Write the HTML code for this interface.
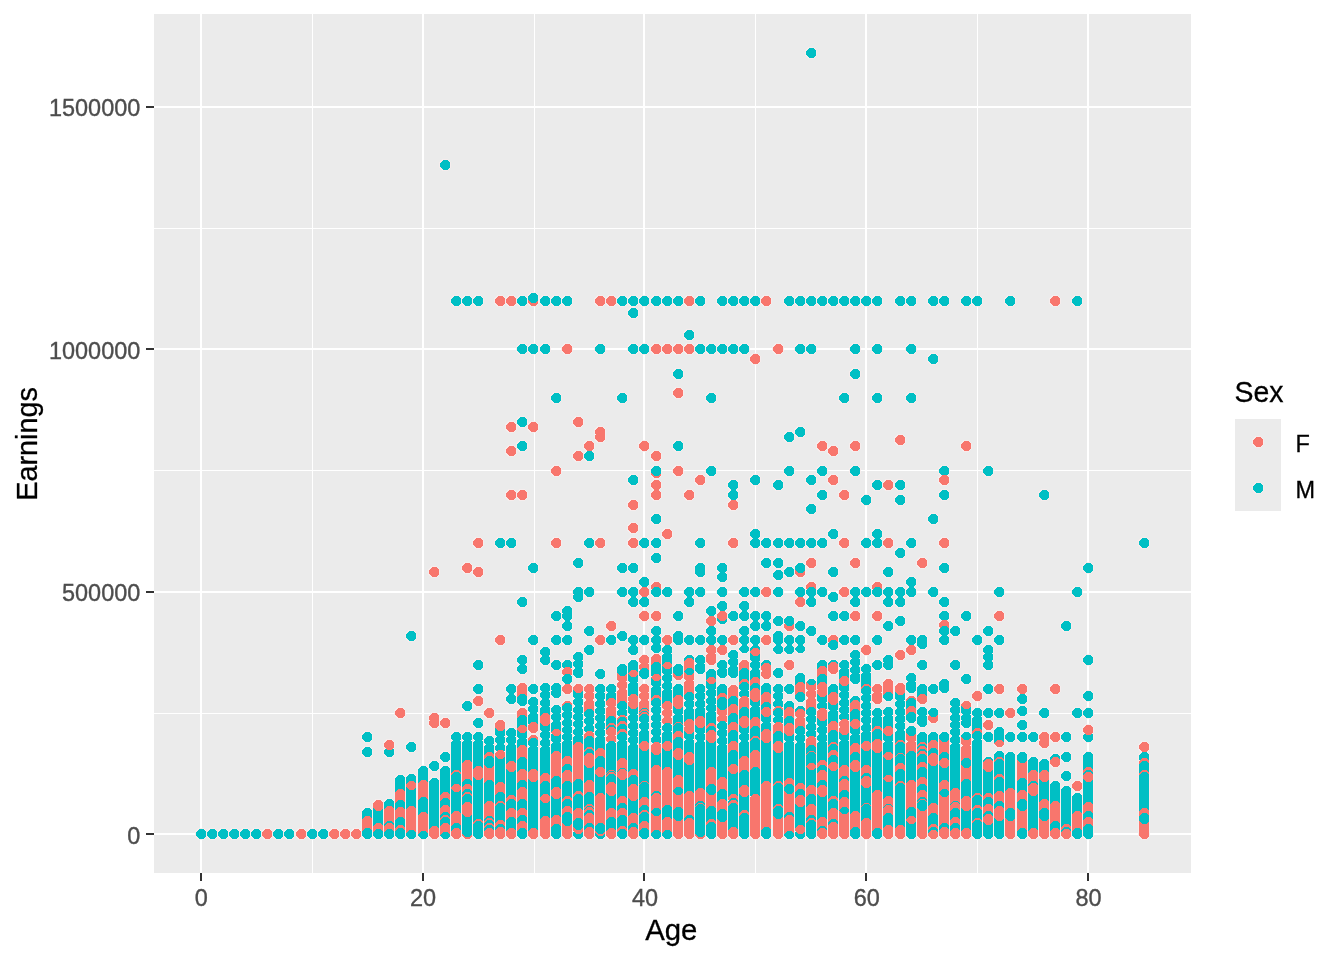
<!DOCTYPE html>
<html><head><meta charset="utf-8"><title>Earnings by Age</title>
<style>
html,body{margin:0;padding:0;background:#fff}
svg{display:block}
text{font-family:"Liberation Sans",sans-serif}
.tl{font-size:23.47px;fill:#4d4d4d;stroke:#4d4d4d;stroke-width:.35px}
.ti{font-size:29.33px;fill:#000;stroke:#000;stroke-width:.3px}
.f{fill:#f8766d}.m{fill:#00bfc4}
.h path{fill:#f6eded;stroke:#f6eded;stroke-width:2px}
</style></head><body>
<svg width="1344" height="960" viewBox="0 0 1344 960">
<rect width="1344" height="960" fill="#fff"/>
<rect x="154" y="14" width="1037" height="859" fill="#ebebeb"/>
<g fill="#fff" shape-rendering="crispEdges">
<rect x="312" y="14" width="1" height="859"/>
<rect x="534" y="14" width="1" height="859"/>
<rect x="755" y="14" width="1" height="859"/>
<rect x="977" y="14" width="1" height="859"/>
<rect x="154" y="713" width="1037" height="1"/>
<rect x="154" y="470" width="1037" height="1"/>
<rect x="154" y="228" width="1037" height="1"/>
<rect x="200" y="14" width="2" height="859"/>
<rect x="422" y="14" width="2" height="859"/>
<rect x="643" y="14" width="2" height="859"/>
<rect x="865" y="14" width="2" height="859"/>
<rect x="1087" y="14" width="2" height="859"/>
<rect x="154" y="833" width="1037" height="2"/>
<rect x="154" y="591" width="1037" height="2"/>
<rect x="154" y="348" width="1037" height="2"/>
<rect x="154" y="106" width="1037" height="2"/>
</g><g fill="#333" shape-rendering="crispEdges">
<rect x="200" y="873" width="2" height="8"/>
<rect x="422" y="873" width="2" height="8"/>
<rect x="643" y="873" width="2" height="8"/>
<rect x="865" y="873" width="2" height="8"/>
<rect x="1087" y="873" width="2" height="8"/>
<rect x="146" y="833" width="8" height="2"/>
<rect x="146" y="591" width="8" height="2"/>
<rect x="146" y="348" width="8" height="2"/>
<rect x="146" y="106" width="8" height="2"/>
</g>
<text class="tl" x="201.30" y="906" text-anchor="middle">0</text>
<text class="tl" x="423.13" y="906" text-anchor="middle">20</text>
<text class="tl" x="644.96" y="906" text-anchor="middle">40</text>
<text class="tl" x="866.79" y="906" text-anchor="middle">60</text>
<text class="tl" x="1088.62" y="906" text-anchor="middle">80</text>
<text class="tl" x="140.3" y="843.77" text-anchor="end">0</text>
<text class="tl" x="140.3" y="601.22" text-anchor="end">500000</text>
<text class="tl" x="140.3" y="358.67" text-anchor="end">1000000</text>
<text class="tl" x="140.3" y="116.12" text-anchor="end">1500000</text>
<text class="ti" x="671.3" y="940.2" text-anchor="middle">Age</text>
<text class="ti" transform="translate(37.3 443.9) rotate(-90)" text-anchor="middle" textLength="113.8" lengthAdjust="spacingAndGlyphs">Earnings</text>
<text class="ti" x="1234.6" y="402" textLength="49" lengthAdjust="spacingAndGlyphs">Sex</text>
<rect x="1235" y="419" width="46" height="92" fill="#ebebeb"/>
<g class="h" shape-rendering="crispEdges"><path class="f" d="M1256 437h4l3 3v4l-3 3h-4l-3-3v-4z"/><path class="m" d="M1256 483h4l3 3v4l-3 3h-4l-3-3v-4z"/></g>
<g shape-rendering="crispEdges">
<path class="f" d="M1256 437h4l3 3v4l-3 3h-4l-3-3v-4z"/><path class="m" d="M1256 483h4l3 3v4l-3 3h-4l-3-3v-4z"/>
</g>
<text class="tl" x="1295.5" y="451.5" style="fill:#000;stroke:#000;stroke-width:.3px">F</text><text class="tl" x="1295.5" y="497.5" style="fill:#000;stroke:#000;stroke-width:.3px">M</text>
<g class="h" shape-rendering="crispEdges">
<path class="m" d="M809 48h4l3 3v4l-3 3h-4l-3-3v-4z"/>
<path class="m" d="M443 160h4l3 3v4l-3 3h-4l-3-3v-4z"/>
<path class="f" d="M498 296h4l3 3v4l-3 3h-4l-3-3v-4z"/>
<path class="f" d="M509 296h4l3 3v4l-3 3h-4l-3-3v-4z"/>
<path class="f" d="M531 296h4l3 3v4l-3 3h-4l-3-3v-4z"/>
<path class="f" d="M598 296h4l3 3v4l-3 3h-4l-3-3v-4z"/>
<path class="f" d="M609 296h4l3 3v4l-3 3h-4l-3-3v-4z"/>
<path class="f" d="M687 296h4l3 3v4l-3 3h-4l-3-3v-4z"/>
<path class="f" d="M764 296h4l3 3v4l-3 3h-4l-3-3v-4z"/>
<path class="f" d="M1053 296h4l3 3v4l-3 3h-4l-3-3v-4z"/>
<path class="m" d="M454 296h4l3 3v4l-3 3h-4l-3-3v-4z"/>
<path class="m" d="M465 296h4l3 3v4l-3 3h-4l-3-3v-4z"/>
<path class="m" d="M476 296h4l3 3v4l-3 3h-4l-3-3v-4z"/>
<path class="m" d="M520 296h4l3 3v4l-3 3h-4l-3-3v-4z"/>
<path class="m" d="M543 296h4l3 3v4l-3 3h-4l-3-3v-4z"/>
<path class="m" d="M554 296h4l3 3v4l-3 3h-4l-3-3v-4z"/>
<path class="m" d="M565 296h4l3 3v4l-3 3h-4l-3-3v-4z"/>
<path class="m" d="M620 296h4l3 3v4l-3 3h-4l-3-3v-4z"/>
<path class="m" d="M631 296h4l3 3v4l-3 3h-4l-3-3v-4z"/>
<path class="m" d="M642 296h4l3 3v4l-3 3h-4l-3-3v-4z"/>
<path class="m" d="M654 296h4l3 3v4l-3 3h-4l-3-3v-4z"/>
<path class="m" d="M665 296h4l3 3v4l-3 3h-4l-3-3v-4z"/>
<path class="m" d="M676 296h4l3 3v4l-3 3h-4l-3-3v-4z"/>
<path class="m" d="M698 296h4l3 3v4l-3 3h-4l-3-3v-4z"/>
<path class="m" d="M720 296h4l3 3v4l-3 3h-4l-3-3v-4z"/>
<path class="m" d="M731 296h4l3 3v4l-3 3h-4l-3-3v-4z"/>
<path class="m" d="M742 296h4l3 3v4l-3 3h-4l-3-3v-4z"/>
<path class="m" d="M753 296h4l3 3v4l-3 3h-4l-3-3v-4z"/>
<path class="m" d="M787 296h4l3 3v4l-3 3h-4l-3-3v-4z"/>
<path class="m" d="M798 296h4l3 3v4l-3 3h-4l-3-3v-4z"/>
<path class="m" d="M809 296h4l3 3v4l-3 3h-4l-3-3v-4z"/>
<path class="m" d="M820 296h4l3 3v4l-3 3h-4l-3-3v-4z"/>
<path class="m" d="M831 296h4l3 3v4l-3 3h-4l-3-3v-4z"/>
<path class="m" d="M842 296h4l3 3v4l-3 3h-4l-3-3v-4z"/>
<path class="m" d="M853 296h4l3 3v4l-3 3h-4l-3-3v-4z"/>
<path class="m" d="M864 296h4l3 3v4l-3 3h-4l-3-3v-4z"/>
<path class="m" d="M875 296h4l3 3v4l-3 3h-4l-3-3v-4z"/>
<path class="m" d="M898 296h4l3 3v4l-3 3h-4l-3-3v-4z"/>
<path class="m" d="M909 296h4l3 3v4l-3 3h-4l-3-3v-4z"/>
<path class="m" d="M931 296h4l3 3v4l-3 3h-4l-3-3v-4z"/>
<path class="m" d="M942 296h4l3 3v4l-3 3h-4l-3-3v-4z"/>
<path class="m" d="M964 296h4l3 3v4l-3 3h-4l-3-3v-4z"/>
<path class="m" d="M975 296h4l3 3v4l-3 3h-4l-3-3v-4z"/>
<path class="m" d="M1008 296h4l3 3v4l-3 3h-4l-3-3v-4z"/>
<path class="m" d="M1075 296h4l3 3v4l-3 3h-4l-3-3v-4z"/>
<path class="m" d="M531 293h4l3 3v4l-3 3h-4l-3-3v-4z"/>
<path class="m" d="M631 308h4l3 3v4l-3 3h-4l-3-3v-4z"/>
<path class="m" d="M687 330h4l3 3v4l-3 3h-4l-3-3v-4z"/>
<path class="m" d="M520 344h4l3 3v4l-3 3h-4l-3-3v-4z"/>
<path class="m" d="M531 344h4l3 3v4l-3 3h-4l-3-3v-4z"/>
<path class="m" d="M543 344h4l3 3v4l-3 3h-4l-3-3v-4z"/>
<path class="m" d="M598 344h4l3 3v4l-3 3h-4l-3-3v-4z"/>
<path class="m" d="M631 344h4l3 3v4l-3 3h-4l-3-3v-4z"/>
<path class="m" d="M642 344h4l3 3v4l-3 3h-4l-3-3v-4z"/>
<path class="m" d="M698 344h4l3 3v4l-3 3h-4l-3-3v-4z"/>
<path class="m" d="M709 344h4l3 3v4l-3 3h-4l-3-3v-4z"/>
<path class="m" d="M720 344h4l3 3v4l-3 3h-4l-3-3v-4z"/>
<path class="m" d="M731 344h4l3 3v4l-3 3h-4l-3-3v-4z"/>
<path class="m" d="M742 344h4l3 3v4l-3 3h-4l-3-3v-4z"/>
<path class="m" d="M798 344h4l3 3v4l-3 3h-4l-3-3v-4z"/>
<path class="m" d="M809 344h4l3 3v4l-3 3h-4l-3-3v-4z"/>
<path class="m" d="M853 344h4l3 3v4l-3 3h-4l-3-3v-4z"/>
<path class="m" d="M875 344h4l3 3v4l-3 3h-4l-3-3v-4z"/>
<path class="m" d="M909 344h4l3 3v4l-3 3h-4l-3-3v-4z"/>
<path class="f" d="M565 344h4l3 3v4l-3 3h-4l-3-3v-4z"/>
<path class="f" d="M654 344h4l3 3v4l-3 3h-4l-3-3v-4z"/>
<path class="f" d="M665 344h4l3 3v4l-3 3h-4l-3-3v-4z"/>
<path class="f" d="M676 344h4l3 3v4l-3 3h-4l-3-3v-4z"/>
<path class="f" d="M687 344h4l3 3v4l-3 3h-4l-3-3v-4z"/>
<path class="f" d="M776 344h4l3 3v4l-3 3h-4l-3-3v-4z"/>
<path class="f" d="M753 354h4l3 3v4l-3 3h-4l-3-3v-4z"/>
<path class="m" d="M931 354h4l3 3v4l-3 3h-4l-3-3v-4z"/>
<path class="m" d="M676 369h4l3 3v4l-3 3h-4l-3-3v-4z"/>
<path class="m" d="M853 369h4l3 3v4l-3 3h-4l-3-3v-4z"/>
<path class="f" d="M676 388h4l3 3v4l-3 3h-4l-3-3v-4z"/>
<path class="m" d="M554 393h4l3 3v4l-3 3h-4l-3-3v-4z"/>
<path class="m" d="M620 393h4l3 3v4l-3 3h-4l-3-3v-4z"/>
<path class="m" d="M709 393h4l3 3v4l-3 3h-4l-3-3v-4z"/>
<path class="m" d="M842 393h4l3 3v4l-3 3h-4l-3-3v-4z"/>
<path class="m" d="M875 393h4l3 3v4l-3 3h-4l-3-3v-4z"/>
<path class="m" d="M909 393h4l3 3v4l-3 3h-4l-3-3v-4z"/>
<path class="m" d="M520 417h4l3 3v4l-3 3h-4l-3-3v-4z"/>
<path class="f" d="M576 417h4l3 3v4l-3 3h-4l-3-3v-4z"/>
<path class="f" d="M509 422h4l3 3v4l-3 3h-4l-3-3v-4z"/>
<path class="f" d="M531 422h4l3 3v4l-3 3h-4l-3-3v-4z"/>
<path class="f" d="M598 427h4l3 3v4l-3 3h-4l-3-3v-4z"/>
<path class="m" d="M798 427h4l3 3v4l-3 3h-4l-3-3v-4z"/>
<path class="f" d="M598 432h4l3 3v4l-3 3h-4l-3-3v-4z"/>
<path class="m" d="M787 432h4l3 3v4l-3 3h-4l-3-3v-4z"/>
<path class="f" d="M898 435h4l3 3v4l-3 3h-4l-3-3v-4z"/>
<path class="m" d="M520 441h4l3 3v4l-3 3h-4l-3-3v-4z"/>
<path class="m" d="M676 441h4l3 3v4l-3 3h-4l-3-3v-4z"/>
<path class="f" d="M587 441h4l3 3v4l-3 3h-4l-3-3v-4z"/>
<path class="f" d="M642 441h4l3 3v4l-3 3h-4l-3-3v-4z"/>
<path class="f" d="M820 441h4l3 3v4l-3 3h-4l-3-3v-4z"/>
<path class="f" d="M853 441h4l3 3v4l-3 3h-4l-3-3v-4z"/>
<path class="f" d="M964 441h4l3 3v4l-3 3h-4l-3-3v-4z"/>
<path class="f" d="M509 446h4l3 3v4l-3 3h-4l-3-3v-4z"/>
<path class="f" d="M831 446h4l3 3v4l-3 3h-4l-3-3v-4z"/>
<path class="f" d="M576 451h4l3 3v4l-3 3h-4l-3-3v-4z"/>
<path class="f" d="M654 451h4l3 3v4l-3 3h-4l-3-3v-4z"/>
<path class="m" d="M587 451h4l3 3v4l-3 3h-4l-3-3v-4z"/>
<path class="f" d="M654 468h4l3 3v4l-3 3h-4l-3-3v-4z"/>
<path class="f" d="M554 466h4l3 3v4l-3 3h-4l-3-3v-4z"/>
<path class="f" d="M676 466h4l3 3v4l-3 3h-4l-3-3v-4z"/>
<path class="m" d="M654 466h4l3 3v4l-3 3h-4l-3-3v-4z"/>
<path class="m" d="M709 466h4l3 3v4l-3 3h-4l-3-3v-4z"/>
<path class="m" d="M787 466h4l3 3v4l-3 3h-4l-3-3v-4z"/>
<path class="m" d="M820 466h4l3 3v4l-3 3h-4l-3-3v-4z"/>
<path class="m" d="M853 466h4l3 3v4l-3 3h-4l-3-3v-4z"/>
<path class="m" d="M942 466h4l3 3v4l-3 3h-4l-3-3v-4z"/>
<path class="m" d="M986 466h4l3 3v4l-3 3h-4l-3-3v-4z"/>
<path class="m" d="M631 475h4l3 3v4l-3 3h-4l-3-3v-4z"/>
<path class="m" d="M753 475h4l3 3v4l-3 3h-4l-3-3v-4z"/>
<path class="m" d="M809 475h4l3 3v4l-3 3h-4l-3-3v-4z"/>
<path class="f" d="M698 475h4l3 3v4l-3 3h-4l-3-3v-4z"/>
<path class="f" d="M831 475h4l3 3v4l-3 3h-4l-3-3v-4z"/>
<path class="f" d="M942 475h4l3 3v4l-3 3h-4l-3-3v-4z"/>
<path class="f" d="M654 480h4l3 3v4l-3 3h-4l-3-3v-4z"/>
<path class="f" d="M886 480h4l3 3v4l-3 3h-4l-3-3v-4z"/>
<path class="m" d="M731 480h4l3 3v4l-3 3h-4l-3-3v-4z"/>
<path class="m" d="M776 480h4l3 3v4l-3 3h-4l-3-3v-4z"/>
<path class="m" d="M875 480h4l3 3v4l-3 3h-4l-3-3v-4z"/>
<path class="m" d="M898 480h4l3 3v4l-3 3h-4l-3-3v-4z"/>
<path class="f" d="M509 490h4l3 3v4l-3 3h-4l-3-3v-4z"/>
<path class="f" d="M520 490h4l3 3v4l-3 3h-4l-3-3v-4z"/>
<path class="f" d="M654 490h4l3 3v4l-3 3h-4l-3-3v-4z"/>
<path class="f" d="M687 490h4l3 3v4l-3 3h-4l-3-3v-4z"/>
<path class="f" d="M842 490h4l3 3v4l-3 3h-4l-3-3v-4z"/>
<path class="m" d="M731 490h4l3 3v4l-3 3h-4l-3-3v-4z"/>
<path class="m" d="M820 490h4l3 3v4l-3 3h-4l-3-3v-4z"/>
<path class="m" d="M942 490h4l3 3v4l-3 3h-4l-3-3v-4z"/>
<path class="m" d="M1042 490h4l3 3v4l-3 3h-4l-3-3v-4z"/>
<path class="m" d="M864 495h4l3 3v4l-3 3h-4l-3-3v-4z"/>
<path class="m" d="M898 495h4l3 3v4l-3 3h-4l-3-3v-4z"/>
<path class="f" d="M631 500h4l3 3v4l-3 3h-4l-3-3v-4z"/>
<path class="f" d="M731 500h4l3 3v4l-3 3h-4l-3-3v-4z"/>
<path class="m" d="M809 504h4l3 3v4l-3 3h-4l-3-3v-4z"/>
<path class="m" d="M654 514h4l3 3v4l-3 3h-4l-3-3v-4z"/>
<path class="m" d="M931 514h4l3 3v4l-3 3h-4l-3-3v-4z"/>
<path class="f" d="M631 523h4l3 3v4l-3 3h-4l-3-3v-4z"/>
<path class="f" d="M665 529h4l3 3v4l-3 3h-4l-3-3v-4z"/>
<path class="m" d="M753 529h4l3 3v4l-3 3h-4l-3-3v-4z"/>
<path class="m" d="M831 529h4l3 3v4l-3 3h-4l-3-3v-4z"/>
<path class="m" d="M875 529h4l3 3v4l-3 3h-4l-3-3v-4z"/>
<path class="f" d="M476 538h4l3 3v4l-3 3h-4l-3-3v-4z"/>
<path class="f" d="M554 538h4l3 3v4l-3 3h-4l-3-3v-4z"/>
<path class="f" d="M598 538h4l3 3v4l-3 3h-4l-3-3v-4z"/>
<path class="f" d="M631 538h4l3 3v4l-3 3h-4l-3-3v-4z"/>
<path class="f" d="M731 538h4l3 3v4l-3 3h-4l-3-3v-4z"/>
<path class="f" d="M842 538h4l3 3v4l-3 3h-4l-3-3v-4z"/>
<path class="f" d="M886 538h4l3 3v4l-3 3h-4l-3-3v-4z"/>
<path class="f" d="M942 538h4l3 3v4l-3 3h-4l-3-3v-4z"/>
<path class="m" d="M498 538h4l3 3v4l-3 3h-4l-3-3v-4z"/>
<path class="m" d="M509 538h4l3 3v4l-3 3h-4l-3-3v-4z"/>
<path class="m" d="M587 538h4l3 3v4l-3 3h-4l-3-3v-4z"/>
<path class="m" d="M642 538h4l3 3v4l-3 3h-4l-3-3v-4z"/>
<path class="m" d="M654 538h4l3 3v4l-3 3h-4l-3-3v-4z"/>
<path class="m" d="M698 538h4l3 3v4l-3 3h-4l-3-3v-4z"/>
<path class="m" d="M753 538h4l3 3v4l-3 3h-4l-3-3v-4z"/>
<path class="m" d="M764 538h4l3 3v4l-3 3h-4l-3-3v-4z"/>
<path class="m" d="M776 538h4l3 3v4l-3 3h-4l-3-3v-4z"/>
<path class="m" d="M787 538h4l3 3v4l-3 3h-4l-3-3v-4z"/>
<path class="m" d="M798 538h4l3 3v4l-3 3h-4l-3-3v-4z"/>
<path class="m" d="M809 538h4l3 3v4l-3 3h-4l-3-3v-4z"/>
<path class="m" d="M820 538h4l3 3v4l-3 3h-4l-3-3v-4z"/>
<path class="m" d="M864 538h4l3 3v4l-3 3h-4l-3-3v-4z"/>
<path class="m" d="M875 538h4l3 3v4l-3 3h-4l-3-3v-4z"/>
<path class="m" d="M909 538h4l3 3v4l-3 3h-4l-3-3v-4z"/>
<path class="m" d="M1142 538h4l3 3v4l-3 3h-4l-3-3v-4z"/>
<path class="m" d="M898 548h4l3 3v4l-3 3h-4l-3-3v-4z"/>
<path class="m" d="M654 553h4l3 3v4l-3 3h-4l-3-3v-4z"/>
<path class="m" d="M576 558h4l3 3v4l-3 3h-4l-3-3v-4z"/>
<path class="m" d="M764 558h4l3 3v4l-3 3h-4l-3-3v-4z"/>
<path class="m" d="M776 558h4l3 3v4l-3 3h-4l-3-3v-4z"/>
<path class="f" d="M809 558h4l3 3v4l-3 3h-4l-3-3v-4z"/>
<path class="f" d="M853 558h4l3 3v4l-3 3h-4l-3-3v-4z"/>
<path class="f" d="M920 558h4l3 3v4l-3 3h-4l-3-3v-4z"/>
<path class="f" d="M432 567h4l3 3v4l-3 3h-4l-3-3v-4z"/>
<path class="f" d="M476 567h4l3 3v4l-3 3h-4l-3-3v-4z"/>
<path class="f" d="M798 567h4l3 3v4l-3 3h-4l-3-3v-4z"/>
<path class="m" d="M698 567h4l3 3v4l-3 3h-4l-3-3v-4z"/>
<path class="m" d="M787 567h4l3 3v4l-3 3h-4l-3-3v-4z"/>
<path class="m" d="M831 567h4l3 3v4l-3 3h-4l-3-3v-4z"/>
<path class="m" d="M886 567h4l3 3v4l-3 3h-4l-3-3v-4z"/>
<path class="f" d="M465 563h4l3 3v4l-3 3h-4l-3-3v-4z"/>
<path class="m" d="M531 563h4l3 3v4l-3 3h-4l-3-3v-4z"/>
<path class="m" d="M620 563h4l3 3v4l-3 3h-4l-3-3v-4z"/>
<path class="m" d="M631 563h4l3 3v4l-3 3h-4l-3-3v-4z"/>
<path class="m" d="M698 563h4l3 3v4l-3 3h-4l-3-3v-4z"/>
<path class="m" d="M720 563h4l3 3v4l-3 3h-4l-3-3v-4z"/>
<path class="m" d="M798 563h4l3 3v4l-3 3h-4l-3-3v-4z"/>
<path class="m" d="M942 563h4l3 3v4l-3 3h-4l-3-3v-4z"/>
<path class="m" d="M1086 563h4l3 3v4l-3 3h-4l-3-3v-4z"/>
<path class="m" d="M776 570h4l3 3v4l-3 3h-4l-3-3v-4z"/>
<path class="m" d="M720 572h4l3 3v4l-3 3h-4l-3-3v-4z"/>
<path class="m" d="M642 577h4l3 3v4l-3 3h-4l-3-3v-4z"/>
<path class="m" d="M909 577h4l3 3v4l-3 3h-4l-3-3v-4z"/>
<path class="f" d="M654 582h4l3 3v4l-3 3h-4l-3-3v-4z"/>
<path class="f" d="M809 582h4l3 3v4l-3 3h-4l-3-3v-4z"/>
<path class="f" d="M875 582h4l3 3v4l-3 3h-4l-3-3v-4z"/>
<path class="f" d="M642 587h4l3 3v4l-3 3h-4l-3-3v-4z"/>
<path class="f" d="M764 587h4l3 3v4l-3 3h-4l-3-3v-4z"/>
<path class="f" d="M842 587h4l3 3v4l-3 3h-4l-3-3v-4z"/>
<path class="m" d="M576 587h4l3 3v4l-3 3h-4l-3-3v-4z"/>
<path class="m" d="M587 587h4l3 3v4l-3 3h-4l-3-3v-4z"/>
<path class="m" d="M620 587h4l3 3v4l-3 3h-4l-3-3v-4z"/>
<path class="m" d="M631 587h4l3 3v4l-3 3h-4l-3-3v-4z"/>
<path class="m" d="M654 587h4l3 3v4l-3 3h-4l-3-3v-4z"/>
<path class="m" d="M665 587h4l3 3v4l-3 3h-4l-3-3v-4z"/>
<path class="m" d="M687 587h4l3 3v4l-3 3h-4l-3-3v-4z"/>
<path class="m" d="M698 587h4l3 3v4l-3 3h-4l-3-3v-4z"/>
<path class="m" d="M720 587h4l3 3v4l-3 3h-4l-3-3v-4z"/>
<path class="m" d="M742 587h4l3 3v4l-3 3h-4l-3-3v-4z"/>
<path class="m" d="M753 587h4l3 3v4l-3 3h-4l-3-3v-4z"/>
<path class="m" d="M776 587h4l3 3v4l-3 3h-4l-3-3v-4z"/>
<path class="m" d="M798 587h4l3 3v4l-3 3h-4l-3-3v-4z"/>
<path class="m" d="M809 587h4l3 3v4l-3 3h-4l-3-3v-4z"/>
<path class="m" d="M820 587h4l3 3v4l-3 3h-4l-3-3v-4z"/>
<path class="m" d="M853 587h4l3 3v4l-3 3h-4l-3-3v-4z"/>
<path class="m" d="M864 587h4l3 3v4l-3 3h-4l-3-3v-4z"/>
<path class="m" d="M875 587h4l3 3v4l-3 3h-4l-3-3v-4z"/>
<path class="m" d="M886 587h4l3 3v4l-3 3h-4l-3-3v-4z"/>
<path class="m" d="M898 587h4l3 3v4l-3 3h-4l-3-3v-4z"/>
<path class="m" d="M909 587h4l3 3v4l-3 3h-4l-3-3v-4z"/>
<path class="m" d="M931 587h4l3 3v4l-3 3h-4l-3-3v-4z"/>
<path class="m" d="M997 587h4l3 3v4l-3 3h-4l-3-3v-4z"/>
<path class="m" d="M1075 587h4l3 3v4l-3 3h-4l-3-3v-4z"/>
<path class="m" d="M576 592h4l3 3v4l-3 3h-4l-3-3v-4z"/>
<path class="m" d="M831 592h4l3 3v4l-3 3h-4l-3-3v-4z"/>
<path class="f" d="M798 597h4l3 3v4l-3 3h-4l-3-3v-4z"/>
<path class="m" d="M520 597h4l3 3v4l-3 3h-4l-3-3v-4z"/>
<path class="m" d="M631 597h4l3 3v4l-3 3h-4l-3-3v-4z"/>
<path class="m" d="M642 597h4l3 3v4l-3 3h-4l-3-3v-4z"/>
<path class="m" d="M687 597h4l3 3v4l-3 3h-4l-3-3v-4z"/>
<path class="m" d="M809 597h4l3 3v4l-3 3h-4l-3-3v-4z"/>
<path class="m" d="M853 597h4l3 3v4l-3 3h-4l-3-3v-4z"/>
<path class="m" d="M886 597h4l3 3v4l-3 3h-4l-3-3v-4z"/>
<path class="m" d="M898 597h4l3 3v4l-3 3h-4l-3-3v-4z"/>
<path class="m" d="M942 597h4l3 3v4l-3 3h-4l-3-3v-4z"/>
<path class="m" d="M720 601h4l3 3v4l-3 3h-4l-3-3v-4z"/>
<path class="m" d="M742 601h4l3 3v4l-3 3h-4l-3-3v-4z"/>
<path class="m" d="M565 606h4l3 3v4l-3 3h-4l-3-3v-4z"/>
<path class="m" d="M709 606h4l3 3v4l-3 3h-4l-3-3v-4z"/>
<path class="m" d="M720 614h4l3 3v4l-3 3h-4l-3-3v-4z"/>
<path class="m" d="M554 611h4l3 3v4l-3 3h-4l-3-3v-4z"/>
<path class="m" d="M565 611h4l3 3v4l-3 3h-4l-3-3v-4z"/>
<path class="m" d="M676 611h4l3 3v4l-3 3h-4l-3-3v-4z"/>
<path class="m" d="M731 611h4l3 3v4l-3 3h-4l-3-3v-4z"/>
<path class="m" d="M742 611h4l3 3v4l-3 3h-4l-3-3v-4z"/>
<path class="m" d="M753 611h4l3 3v4l-3 3h-4l-3-3v-4z"/>
<path class="m" d="M764 611h4l3 3v4l-3 3h-4l-3-3v-4z"/>
<path class="m" d="M831 611h4l3 3v4l-3 3h-4l-3-3v-4z"/>
<path class="m" d="M842 611h4l3 3v4l-3 3h-4l-3-3v-4z"/>
<path class="m" d="M942 611h4l3 3v4l-3 3h-4l-3-3v-4z"/>
<path class="m" d="M964 611h4l3 3v4l-3 3h-4l-3-3v-4z"/>
<path class="f" d="M642 611h4l3 3v4l-3 3h-4l-3-3v-4z"/>
<path class="f" d="M654 611h4l3 3v4l-3 3h-4l-3-3v-4z"/>
<path class="f" d="M720 611h4l3 3v4l-3 3h-4l-3-3v-4z"/>
<path class="f" d="M853 611h4l3 3v4l-3 3h-4l-3-3v-4z"/>
<path class="f" d="M875 611h4l3 3v4l-3 3h-4l-3-3v-4z"/>
<path class="f" d="M997 611h4l3 3v4l-3 3h-4l-3-3v-4z"/>
<path class="f" d="M787 621h4l3 3v4l-3 3h-4l-3-3v-4z"/>
<path class="f" d="M942 620h4l3 3v4l-3 3h-4l-3-3v-4z"/>
<path class="f" d="M709 616h4l3 3v4l-3 3h-4l-3-3v-4z"/>
<path class="m" d="M776 616h4l3 3v4l-3 3h-4l-3-3v-4z"/>
<path class="m" d="M787 616h4l3 3v4l-3 3h-4l-3-3v-4z"/>
<path class="m" d="M898 616h4l3 3v4l-3 3h-4l-3-3v-4z"/>
<path class="m" d="M565 621h4l3 3v4l-3 3h-4l-3-3v-4z"/>
<path class="m" d="M753 621h4l3 3v4l-3 3h-4l-3-3v-4z"/>
<path class="m" d="M764 621h4l3 3v4l-3 3h-4l-3-3v-4z"/>
<path class="m" d="M798 621h4l3 3v4l-3 3h-4l-3-3v-4z"/>
<path class="m" d="M886 621h4l3 3v4l-3 3h-4l-3-3v-4z"/>
<path class="m" d="M1064 621h4l3 3v4l-3 3h-4l-3-3v-4z"/>
<path class="f" d="M609 621h4l3 3v4l-3 3h-4l-3-3v-4z"/>
<path class="m" d="M587 626h4l3 3v4l-3 3h-4l-3-3v-4z"/>
<path class="m" d="M654 626h4l3 3v4l-3 3h-4l-3-3v-4z"/>
<path class="m" d="M709 626h4l3 3v4l-3 3h-4l-3-3v-4z"/>
<path class="m" d="M742 626h4l3 3v4l-3 3h-4l-3-3v-4z"/>
<path class="m" d="M809 626h4l3 3v4l-3 3h-4l-3-3v-4z"/>
<path class="m" d="M942 626h4l3 3v4l-3 3h-4l-3-3v-4z"/>
<path class="m" d="M953 626h4l3 3v4l-3 3h-4l-3-3v-4z"/>
<path class="m" d="M986 626h4l3 3v4l-3 3h-4l-3-3v-4z"/>
<path class="m" d="M409 631h4l3 3v4l-3 3h-4l-3-3v-4z"/>
<path class="m" d="M620 631h4l3 3v4l-3 3h-4l-3-3v-4z"/>
<path class="m" d="M676 631h4l3 3v4l-3 3h-4l-3-3v-4z"/>
<path class="m" d="M776 631h4l3 3v4l-3 3h-4l-3-3v-4z"/>
<path class="f" d="M498 635h4l3 3v4l-3 3h-4l-3-3v-4z"/>
<path class="f" d="M598 635h4l3 3v4l-3 3h-4l-3-3v-4z"/>
<path class="f" d="M665 635h4l3 3v4l-3 3h-4l-3-3v-4z"/>
<path class="f" d="M731 635h4l3 3v4l-3 3h-4l-3-3v-4z"/>
<path class="f" d="M764 635h4l3 3v4l-3 3h-4l-3-3v-4z"/>
<path class="f" d="M831 635h4l3 3v4l-3 3h-4l-3-3v-4z"/>
<path class="m" d="M531 635h4l3 3v4l-3 3h-4l-3-3v-4z"/>
<path class="m" d="M554 635h4l3 3v4l-3 3h-4l-3-3v-4z"/>
<path class="m" d="M565 635h4l3 3v4l-3 3h-4l-3-3v-4z"/>
<path class="m" d="M609 635h4l3 3v4l-3 3h-4l-3-3v-4z"/>
<path class="m" d="M631 635h4l3 3v4l-3 3h-4l-3-3v-4z"/>
<path class="m" d="M642 635h4l3 3v4l-3 3h-4l-3-3v-4z"/>
<path class="m" d="M654 635h4l3 3v4l-3 3h-4l-3-3v-4z"/>
<path class="m" d="M676 635h4l3 3v4l-3 3h-4l-3-3v-4z"/>
<path class="m" d="M687 635h4l3 3v4l-3 3h-4l-3-3v-4z"/>
<path class="m" d="M698 635h4l3 3v4l-3 3h-4l-3-3v-4z"/>
<path class="m" d="M709 635h4l3 3v4l-3 3h-4l-3-3v-4z"/>
<path class="m" d="M720 635h4l3 3v4l-3 3h-4l-3-3v-4z"/>
<path class="m" d="M742 635h4l3 3v4l-3 3h-4l-3-3v-4z"/>
<path class="m" d="M753 635h4l3 3v4l-3 3h-4l-3-3v-4z"/>
<path class="m" d="M776 635h4l3 3v4l-3 3h-4l-3-3v-4z"/>
<path class="m" d="M787 635h4l3 3v4l-3 3h-4l-3-3v-4z"/>
<path class="m" d="M798 635h4l3 3v4l-3 3h-4l-3-3v-4z"/>
<path class="m" d="M820 635h4l3 3v4l-3 3h-4l-3-3v-4z"/>
<path class="m" d="M842 635h4l3 3v4l-3 3h-4l-3-3v-4z"/>
<path class="m" d="M853 635h4l3 3v4l-3 3h-4l-3-3v-4z"/>
<path class="m" d="M875 635h4l3 3v4l-3 3h-4l-3-3v-4z"/>
<path class="m" d="M909 635h4l3 3v4l-3 3h-4l-3-3v-4z"/>
<path class="m" d="M920 635h4l3 3v4l-3 3h-4l-3-3v-4z"/>
<path class="m" d="M942 635h4l3 3v4l-3 3h-4l-3-3v-4z"/>
<path class="m" d="M975 635h4l3 3v4l-3 3h-4l-3-3v-4z"/>
<path class="m" d="M997 635h4l3 3v4l-3 3h-4l-3-3v-4z"/>
<path class="m" d="M831 640h4l3 3v4l-3 3h-4l-3-3v-4z"/>
<path class="m" d="M920 639h4l3 3v4l-3 3h-4l-3-3v-4z"/>
<path class="m" d="M199 829h4l3 3v4l-3 3h-4l-3-3v-4z"/>
<path class="m" d="M210 829h4l3 3v4l-3 3h-4l-3-3v-4z"/>
<path class="m" d="M221 829h4l3 3v4l-3 3h-4l-3-3v-4z"/>
<path class="m" d="M232 829h4l3 3v4l-3 3h-4l-3-3v-4z"/>
<path class="m" d="M243 829h4l3 3v4l-3 3h-4l-3-3v-4z"/>
<path class="m" d="M254 829h4l3 3v4l-3 3h-4l-3-3v-4z"/>
<path class="f" d="M265 829h4l3 3v4l-3 3h-4l-3-3v-4z"/>
<path class="m" d="M276 829h4l3 3v4l-3 3h-4l-3-3v-4z"/>
<path class="m" d="M287 829h4l3 3v4l-3 3h-4l-3-3v-4z"/>
<path class="f" d="M299 829h4l3 3v4l-3 3h-4l-3-3v-4z"/>
<path class="m" d="M310 829h4l3 3v4l-3 3h-4l-3-3v-4z"/>
<path class="m" d="M321 829h4l3 3v4l-3 3h-4l-3-3v-4z"/>
<path class="f" d="M332 829h4l3 3v4l-3 3h-4l-3-3v-4z"/>
<path class="f" d="M343 829h4l3 3v4l-3 3h-4l-3-3v-4z"/>
<path class="f" d="M354 829h4l3 3v4l-3 3h-4l-3-3v-4z"/>
<path class="m" d="M362 811L365 808L369 808L372 811L372 819L362 819Z"/>
<path class="f" d="M362 819L365 816L369 816L372 819L372 831L362 831Z"/>
<path class="m" d="M362 831L365 828L369 828L372 831L372 836L369 839L365 839L362 836Z"/>
<path class="m" d="M365 732h4l3 3v4l-3 3h-4l-3-3v-4z"/>
<path class="m" d="M365 747h4l3 3v4l-3 3h-4l-3-3v-4z"/>
<path class="m" d="M373 808L383 808L383 826L373 826Z"/>
<path class="f" d="M373 803L376 800L380 800L383 803L383 808L380 811L376 811L373 808Z"/>
<path class="f" d="M373 826L376 823L380 823L383 826L383 832L373 832Z"/>
<path class="m" d="M373 832L376 829L380 829L383 832L383 836L380 839L376 839L373 836Z"/>
<path class="m" d="M384 802L387 799L391 799L394 802L394 809L384 809Z"/>
<path class="f" d="M384 809L387 806L391 806L394 809L394 824L384 824Z"/>
<path class="m" d="M384 824L387 821L391 821L394 824L394 826L384 826Z"/>
<path class="f" d="M384 826L387 823L391 823L394 826L394 832L384 832Z"/>
<path class="m" d="M384 832L387 829L391 829L394 832L394 836L391 839L387 839L384 836Z"/>
<path class="m" d="M387 747h4l3 3v4l-3 3h-4l-3-3v-4z"/>
<path class="f" d="M387 740h4l3 3v4l-3 3h-4l-3-3v-4z"/>
<path class="m" d="M395 778L398 775L402 775L405 778L405 792L395 792Z"/>
<path class="f" d="M395 792L398 789L402 789L405 792L405 803L395 803Z"/>
<path class="m" d="M395 803L398 800L402 800L405 803L405 810L395 810Z"/>
<path class="f" d="M395 810L398 807L402 807L405 810L405 820L395 820Z"/>
<path class="m" d="M395 820L398 817L402 817L405 820L405 828L395 828Z"/>
<path class="f" d="M395 828L398 825L402 825L405 828L405 831L395 831Z"/>
<path class="m" d="M395 831L398 828L402 828L405 831L405 836L402 839L398 839L395 836Z"/>
<path class="f" d="M398 708h4l3 3v4l-3 3h-4l-3-3v-4z"/>
<path class="m" d="M406 777L409 774L413 774L416 777L416 784L406 784Z"/>
<path class="m" d="M406 787L416 787L416 809L406 809Z"/>
<path class="f" d="M406 784L409 781L413 781L416 784L416 787L413 790L409 790L406 787Z"/>
<path class="f" d="M406 809L409 806L413 806L416 809L416 833L406 833Z"/>
<path class="m" d="M406 833L409 830L413 830L416 833L416 836L413 839L409 839L406 836Z"/>
<path class="m" d="M409 742h4l3 3v4l-3 3h-4l-3-3v-4z"/>
<path class="m" d="M418 769L421 766L425 766L428 769L428 783L418 783Z"/>
<path class="f" d="M418 783L421 780L425 780L428 783L428 800L418 800Z"/>
<path class="m" d="M418 800L421 797L425 797L428 800L428 815L418 815Z"/>
<path class="f" d="M418 815L421 812L425 812L428 815L428 834L418 834Z"/>
<path class="m" d="M418 834L421 831L425 831L428 834L428 836L425 839L421 839L418 836Z"/>
<path class="m" d="M429 781L432 778L436 778L439 781L439 829L429 829Z"/>
<path class="f" d="M429 829L432 826L436 826L439 829L439 836L436 839L432 839L429 836Z"/>
<path class="f" d="M432 713h4l3 3v4l-3 3h-4l-3-3v-4z"/>
<path class="f" d="M432 718h4l3 3v4l-3 3h-4l-3-3v-4z"/>
<path class="m" d="M432 761h4l3 3v4l-3 3h-4l-3-3v-4z"/>
<path class="m" d="M440 769L443 766L447 766L450 769L450 795L440 795Z"/>
<path class="f" d="M440 795L443 792L447 792L450 795L450 801L440 801Z"/>
<path class="m" d="M440 801L443 798L447 798L450 801L450 808L440 808Z"/>
<path class="f" d="M440 808L443 805L447 805L450 808L450 815L440 815Z"/>
<path class="m" d="M440 815L443 812L447 812L450 815L450 818L440 818Z"/>
<path class="f" d="M440 818L443 815L447 815L450 818L450 820L440 820Z"/>
<path class="m" d="M440 820L443 817L447 817L450 820L450 826L440 826Z"/>
<path class="f" d="M440 826L443 823L447 823L450 826L450 835L440 835Z"/>
<path class="m" d="M440 835L443 832L447 832L450 835L450 836L447 839L443 839L440 836Z"/>
<path class="f" d="M443 718h4l3 3v4l-3 3h-4l-3-3v-4z"/>
<path class="m" d="M443 752h4l3 3v4l-3 3h-4l-3-3v-4z"/>
<path class="m" d="M454 732h4l3 3v4l-3 3h-4l-3-3v-4z"/><path class="m" d="M454 739h4l3 3v4l-3 3h-4l-3-3v-4z"/><path class="m" d="M451 744L461 744L461 773L451 773Z"/>
<path class="f" d="M451 773L454 770L458 770L461 773L461 775L451 775Z"/>
<path class="m" d="M451 775L454 772L458 772L461 775L461 787L451 787Z"/>
<path class="m" d="M451 789L461 789L461 814L451 814Z"/>
<path class="f" d="M451 787L454 784L458 784L461 787L461 789L458 792L454 792L451 789Z"/>
<path class="f" d="M451 814L454 811L458 811L461 814L461 826L451 826Z"/>
<path class="m" d="M451 826L454 823L458 823L461 826L461 831L451 831Z"/>
<path class="f" d="M451 831L454 828L458 828L461 831L461 836L458 839L454 839L451 836Z"/>
<path class="f" d="M465 829h4l3 3v4l-3 3h-4l-3-3v-4z"/>
<path class="m" d="M465 732h4l3 3v4l-3 3h-4l-3-3v-4z"/><path class="m" d="M465 739h4l3 3v4l-3 3h-4l-3-3v-4z"/><path class="m" d="M462 744L472 744L472 763L462 763Z"/>
<path class="f" d="M462 763L465 760L469 760L472 763L472 782L462 782Z"/>
<path class="m" d="M462 782L465 779L469 779L472 782L472 787L462 787Z"/>
<path class="f" d="M462 787L465 784L469 784L472 787L472 792L462 792Z"/>
<path class="m" d="M462 792L465 789L469 789L472 792L472 795L462 795Z"/>
<path class="f" d="M462 795L465 792L469 792L472 795L472 797L462 797Z"/>
<path class="m" d="M462 797L465 794L469 794L472 797L472 805L462 805Z"/>
<path class="m" d="M462 814L472 814L472 834L469 837L465 837L462 834Z"/>
<path class="f" d="M462 805L465 802L469 802L472 805L472 814L469 817L465 817L462 814Z"/>
<path class="m" d="M465 701h4l3 3v4l-3 3h-4l-3-3v-4z"/>
<path class="m" d="M476 732h4l3 3v4l-3 3h-4l-3-3v-4z"/><path class="m" d="M476 739h4l3 3v4l-3 3h-4l-3-3v-4z"/><path class="m" d="M473 744L483 744L483 769L473 769Z"/>
<path class="m" d="M473 777L483 777L483 822L473 822Z"/>
<path class="f" d="M473 769L476 766L480 766L483 769L483 777L480 780L476 780L473 777Z"/>
<path class="f" d="M473 822L476 819L480 819L483 822L483 824L473 824Z"/>
<path class="m" d="M473 824L476 821L480 821L483 824L483 836L480 839L476 839L473 836Z"/>
<path class="m" d="M476 660h4l3 3v4l-3 3h-4l-3-3v-4z"/>
<path class="m" d="M476 684h4l3 3v4l-3 3h-4l-3-3v-4z"/>
<path class="f" d="M476 696h4l3 3v4l-3 3h-4l-3-3v-4z"/>
<path class="m" d="M476 718h4l3 3v4l-3 3h-4l-3-3v-4z"/>
<path class="m" d="M487 736h4l3 3v4l-3 3h-4l-3-3v-4z"/><path class="m" d="M487 743h4l3 3v4l-3 3h-4l-3-3v-4z"/><path class="m" d="M484 748L494 748L494 755L484 755Z"/>
<path class="f" d="M484 755L487 752L491 752L494 755L494 759L484 759Z"/>
<path class="f" d="M484 765L494 765L494 783L484 783Z"/>
<path class="m" d="M484 759L487 756L491 756L494 759L494 765L491 768L487 768L484 765Z"/>
<path class="m" d="M484 783L487 780L491 780L494 783L494 804L484 804Z"/>
<path class="f" d="M484 804L487 801L491 801L494 804L494 819L484 819Z"/>
<path class="m" d="M484 819L487 816L491 816L494 819L494 821L484 821Z"/>
<path class="f" d="M484 821L487 818L491 818L494 821L494 823L484 823Z"/>
<path class="m" d="M484 823L487 820L491 820L494 823L494 826L484 826Z"/>
<path class="f" d="M484 826L487 823L491 823L494 826L494 828L484 828Z"/>
<path class="m" d="M484 828L487 825L491 825L494 828L494 831L484 831Z"/>
<path class="f" d="M484 831L487 828L491 828L494 831L494 836L491 839L487 839L484 836Z"/>
<path class="f" d="M487 708h4l3 3v4l-3 3h-4l-3-3v-4z"/>
<path class="m" d="M495 728L505 728L505 733L495 733Z"/><path class="m" d="M498 728h4l3 3v4l-3 3h-4l-3-3v-4z"/><path class="m" d="M498 735h4l3 3v4l-3 3h-4l-3-3v-4z"/><path class="m" d="M498 743h4l3 3v4l-3 3h-4l-3-3v-4z"/>
<path class="f" d="M495 723L498 720L502 720L505 723L505 728L502 731L498 731L495 728Z"/>
<path class="m" d="M495 756L505 756L505 785L495 785Z"/>
<path class="f" d="M495 753L498 750L502 750L505 753L505 756L502 759L498 759L495 756Z"/>
<path class="f" d="M495 785L498 782L502 782L505 785L505 795L495 795Z"/>
<path class="m" d="M495 795L498 792L502 792L505 795L505 804L495 804Z"/>
<path class="f" d="M495 804L498 801L502 801L505 804L505 806L495 806Z"/>
<path class="m" d="M495 806L498 803L502 803L505 806L505 823L495 823Z"/>
<path class="f" d="M495 823L498 820L502 820L505 823L505 827L495 827Z"/>
<path class="m" d="M495 827L498 824L502 824L505 827L505 830L495 830Z"/>
<path class="f" d="M495 830L498 827L502 827L505 830L505 836L502 839L498 839L495 836Z"/>
<path class="m" d="M509 728h4l3 3v4l-3 3h-4l-3-3v-4z"/><path class="m" d="M509 735h4l3 3v4l-3 3h-4l-3-3v-4z"/><path class="m" d="M509 743h4l3 3v4l-3 3h-4l-3-3v-4z"/><path class="m" d="M506 748L516 748L516 764L506 764Z"/>
<path class="m" d="M506 769L516 769L516 798L506 798Z"/>
<path class="f" d="M506 764L509 761L513 761L516 764L516 769L513 772L509 772L506 769Z"/>
<path class="f" d="M506 798L509 795L513 795L516 798L516 802L506 802Z"/>
<path class="m" d="M506 802L509 799L513 799L516 802L516 811L506 811Z"/>
<path class="f" d="M506 811L509 808L513 808L516 811L516 820L506 820Z"/>
<path class="m" d="M506 820L509 817L513 817L516 820L516 831L506 831Z"/>
<path class="f" d="M506 831L509 828L513 828L516 831L516 836L513 839L509 839L506 836Z"/>
<path class="m" d="M509 684h4l3 3v4l-3 3h-4l-3-3v-4z"/>
<path class="m" d="M509 694h4l3 3v4l-3 3h-4l-3-3v-4z"/>
<path class="f" d="M517 686L520 683L524 683L527 686L527 697L517 697Z"/>
<path class="m" d="M517 697L520 694L524 694L527 697L527 703L524 706L520 706L517 703Z"/>
<path class="f" d="M517 711L520 708L524 708L527 711L527 718L517 718Z"/>
<path class="m" d="M517 718L520 715L524 715L527 718L527 728L517 728Z"/>
<path class="m" d="M517 730L527 730L527 735L517 735Z"/><path class="m" d="M520 730h4l3 3v4l-3 3h-4l-3-3v-4z"/><path class="m" d="M520 737h4l3 3v4l-3 3h-4l-3-3v-4z"/><path class="m" d="M517 742L527 742L527 748L517 748Z"/>
<path class="f" d="M517 728L520 725L524 725L527 728L527 730L524 733L520 733L517 730Z"/>
<path class="f" d="M517 748L520 745L524 745L527 748L527 760L517 760Z"/>
<path class="m" d="M517 760L520 757L524 757L527 760L527 772L517 772Z"/>
<path class="f" d="M517 772L520 769L524 769L527 772L527 783L517 783Z"/>
<path class="m" d="M517 783L520 780L524 780L527 783L527 790L517 790Z"/>
<path class="f" d="M517 790L520 787L524 787L527 790L527 802L517 802Z"/>
<path class="m" d="M517 802L520 799L524 799L527 802L527 811L517 811Z"/>
<path class="f" d="M517 811L520 808L524 808L527 811L527 818L517 818Z"/>
<path class="m" d="M517 818L520 815L524 815L527 818L527 824L517 824Z"/>
<path class="f" d="M517 824L520 821L524 821L527 824L527 831L517 831Z"/>
<path class="m" d="M517 831L520 828L524 828L527 831L527 836L524 839L520 839L517 836Z"/>
<path class="m" d="M520 655h4l3 3v4l-3 3h-4l-3-3v-4z"/>
<path class="m" d="M520 664h4l3 3v4l-3 3h-4l-3-3v-4z"/>
<path class="m" d="M531 697h4l3 3v4l-3 3h-4l-3-3v-4z"/><path class="m" d="M531 704h4l3 3v4l-3 3h-4l-3-3v-4z"/><path class="m" d="M531 712h4l3 3v4l-3 3h-4l-3-3v-4z"/><path class="m" d="M528 717L538 717L538 724L528 724Z"/>
<path class="f" d="M528 725L531 722L535 722L538 725L538 730L535 733L531 733L528 730Z"/>
<path class="f" d="M528 738L531 735L535 735L538 738L538 741L528 741Z"/>
<path class="m" d="M531 738h4l3 3v4l-3 3h-4l-3-3v-4z"/><path class="m" d="M531 745h4l3 3v4l-3 3h-4l-3-3v-4z"/><path class="m" d="M528 750L538 750L538 772L528 772Z"/>
<path class="m" d="M528 779L538 779L538 831L528 831Z"/>
<path class="f" d="M528 772L531 769L535 769L538 772L538 779L535 782L531 782L528 779Z"/>
<path class="f" d="M528 831L531 828L535 828L538 831L538 836L535 839L531 839L528 836Z"/>
<path class="m" d="M531 684h4l3 3v4l-3 3h-4l-3-3v-4z"/>
<path class="m" d="M543 683h4l3 3v4l-3 3h-4l-3-3v-4z"/><path class="m" d="M543 690h4l3 3v4l-3 3h-4l-3-3v-4z"/><path class="m" d="M543 698h4l3 3v4l-3 3h-4l-3-3v-4z"/><path class="m" d="M543 705h4l3 3v4l-3 3h-4l-3-3v-4z"/><path class="m" d="M540 710L550 710L550 716L540 716Z"/>
<path class="m" d="M540 723L550 723L550 728L540 728Z"/><path class="m" d="M543 723h4l3 3v4l-3 3h-4l-3-3v-4z"/><path class="m" d="M543 730h4l3 3v4l-3 3h-4l-3-3v-4z"/><path class="m" d="M543 738h4l3 3v4l-3 3h-4l-3-3v-4z"/><path class="m" d="M543 745h4l3 3v4l-3 3h-4l-3-3v-4z"/><path class="m" d="M540 750L550 750L550 776L540 776Z"/>
<path class="f" d="M540 716L543 713L547 713L550 716L550 723L547 726L543 726L540 723Z"/>
<path class="f" d="M540 776L543 773L547 773L550 776L550 784L540 784Z"/>
<path class="m" d="M540 784L543 781L547 781L550 784L550 797L540 797Z"/>
<path class="m" d="M540 800L550 800L550 819L540 819Z"/>
<path class="f" d="M540 797L543 794L547 794L550 797L550 800L547 803L543 803L540 800Z"/>
<path class="f" d="M540 819L543 816L547 816L550 819L550 836L547 839L543 839L540 836Z"/>
<path class="m" d="M543 647h4l3 3v4l-3 3h-4l-3-3v-4z"/>
<path class="m" d="M543 655h4l3 3v4l-3 3h-4l-3-3v-4z"/>
<path class="m" d="M554 683h4l3 3v4l-3 3h-4l-3-3v-4z"/><path class="m" d="M554 688h4l3 3v4l-3 3h-4l-3-3v-4z"/>
<path class="m" d="M554 705h4l3 3v4l-3 3h-4l-3-3v-4z"/><path class="m" d="M554 712h4l3 3v4l-3 3h-4l-3-3v-4z"/><path class="m" d="M554 720h4l3 3v4l-3 3h-4l-3-3v-4z"/><path class="m" d="M551 725L561 725L561 732L551 732Z"/>
<path class="m" d="M551 734L561 734L561 739L551 739Z"/><path class="m" d="M554 734h4l3 3v4l-3 3h-4l-3-3v-4z"/><path class="m" d="M554 741h4l3 3v4l-3 3h-4l-3-3v-4z"/><path class="m" d="M551 746L561 746L561 754L551 754Z"/>
<path class="f" d="M551 732L554 729L558 729L561 732L561 733L558 736L554 736L551 733Z"/>
<path class="f" d="M551 754L554 751L558 751L561 754L561 779L551 779Z"/>
<path class="m" d="M551 779L554 776L558 776L561 779L561 790L551 790Z"/>
<path class="m" d="M551 796L561 796L561 818L551 818Z"/>
<path class="f" d="M551 790L554 787L558 787L561 790L561 796L558 799L554 799L551 796Z"/>
<path class="f" d="M551 818L554 815L558 815L561 818L561 827L551 827Z"/>
<path class="m" d="M551 827L554 824L558 824L561 827L561 836L558 839L554 839L551 836Z"/>
<path class="m" d="M554 660h4l3 3v4l-3 3h-4l-3-3v-4z"/>
<path class="f" d="M562 704L565 701L569 701L572 704L572 706L562 706Z"/>
<path class="m" d="M565 703h4l3 3v4l-3 3h-4l-3-3v-4z"/><path class="m" d="M565 710h4l3 3v4l-3 3h-4l-3-3v-4z"/><path class="m" d="M565 718h4l3 3v4l-3 3h-4l-3-3v-4z"/><path class="m" d="M565 725h4l3 3v4l-3 3h-4l-3-3v-4z"/><path class="m" d="M565 732h4l3 3v4l-3 3h-4l-3-3v-4z"/><path class="m" d="M565 739h4l3 3v4l-3 3h-4l-3-3v-4z"/><path class="m" d="M562 744L572 744L572 759L562 759Z"/>
<path class="f" d="M562 759L565 756L569 756L572 759L572 767L562 767Z"/>
<path class="m" d="M562 767L565 764L569 764L572 767L572 773L562 773Z"/>
<path class="f" d="M562 773L565 770L569 770L572 773L572 784L562 784Z"/>
<path class="m" d="M562 784L565 781L569 781L572 784L572 799L562 799Z"/>
<path class="f" d="M562 799L565 796L569 796L572 799L572 802L562 802Z"/>
<path class="m" d="M562 802L565 799L569 799L572 802L572 809L562 809Z"/>
<path class="f" d="M562 809L565 806L569 806L572 809L572 815L562 815Z"/>
<path class="f" d="M562 823L572 823L572 836L569 839L565 839L562 836Z"/>
<path class="m" d="M562 815L565 812L569 812L572 815L572 823L569 826L565 826L562 823Z"/>
<path class="m" d="M565 660h4l3 3v4l-3 3h-4l-3-3v-4z"/>
<path class="f" d="M565 667h4l3 3v4l-3 3h-4l-3-3v-4z"/>
<path class="m" d="M565 674h4l3 3v4l-3 3h-4l-3-3v-4z"/>
<path class="f" d="M565 684h4l3 3v4l-3 3h-4l-3-3v-4z"/>
<path class="m" d="M576 829h4l3 3v4l-3 3h-4l-3-3v-4z"/>
<path class="f" d="M576 824h4l3 3v4l-3 3h-4l-3-3v-4z"/>
<path class="m" d="M576 652h4l3 3v4l-3 3h-4l-3-3v-4z"/><path class="m" d="M576 659h4l3 3v4l-3 3h-4l-3-3v-4z"/><path class="m" d="M576 667h4l3 3v4l-3 3h-4l-3-3v-4z"/><path class="m" d="M576 668h4l3 3v4l-3 3h-4l-3-3v-4z"/>
<path class="m" d="M573 690L583 690L583 695L573 695Z"/><path class="m" d="M576 690h4l3 3v4l-3 3h-4l-3-3v-4z"/><path class="m" d="M576 697h4l3 3v4l-3 3h-4l-3-3v-4z"/><path class="m" d="M576 705h4l3 3v4l-3 3h-4l-3-3v-4z"/><path class="m" d="M576 712h4l3 3v4l-3 3h-4l-3-3v-4z"/><path class="m" d="M576 719h4l3 3v4l-3 3h-4l-3-3v-4z"/><path class="m" d="M576 727h4l3 3v4l-3 3h-4l-3-3v-4z"/><path class="m" d="M576 734h4l3 3v4l-3 3h-4l-3-3v-4z"/><path class="m" d="M573 739L583 739L583 745L573 745Z"/>
<path class="f" d="M573 687L576 684L580 684L583 687L583 690L580 693L576 693L573 690Z"/>
<path class="f" d="M576 742h4l3 3v4l-3 3h-4l-3-3v-4z"/><path class="f" d="M573 747L583 747L583 782L573 782Z"/>
<path class="m" d="M573 782L576 779L580 779L583 782L583 794L573 794Z"/>
<path class="f" d="M573 794L576 791L580 791L583 794L583 797L573 797Z"/>
<path class="m" d="M573 797L576 794L580 794L583 797L583 811L573 811Z"/>
<path class="f" d="M573 811L576 808L580 808L583 811L583 821L573 821Z"/>
<path class="m" d="M573 821L576 818L580 818L583 821L583 827L580 830L576 830L573 827Z"/>
<path class="f" d="M587 684h4l3 3v4l-3 3h-4l-3-3v-4z"/><path class="f" d="M587 691h4l3 3v4l-3 3h-4l-3-3v-4z"/><path class="f" d="M587 699h4l3 3v4l-3 3h-4l-3-3v-4z"/><path class="f" d="M584 704L594 704L594 712L584 712Z"/>
<path class="m" d="M587 709h4l3 3v4l-3 3h-4l-3-3v-4z"/><path class="m" d="M587 716h4l3 3v4l-3 3h-4l-3-3v-4z"/><path class="m" d="M587 724h4l3 3v4l-3 3h-4l-3-3v-4z"/>
<path class="f" d="M584 734L587 731L591 731L594 734L594 739L584 739Z"/>
<path class="m" d="M584 739L587 736L591 736L594 739L594 750L584 750Z"/>
<path class="f" d="M584 750L587 747L591 747L594 750L594 752L584 752Z"/>
<path class="m" d="M584 752L587 749L591 749L594 752L594 756L584 756Z"/>
<path class="m" d="M584 765L594 765L594 783L584 783Z"/>
<path class="f" d="M584 756L587 753L591 753L594 756L594 765L591 768L587 768L584 765Z"/>
<path class="f" d="M584 783L587 780L591 780L594 783L594 795L584 795Z"/>
<path class="m" d="M584 795L587 792L591 792L594 795L594 807L584 807Z"/>
<path class="f" d="M584 807L587 804L591 804L594 807L594 809L584 809Z"/>
<path class="m" d="M584 809L587 806L591 806L594 809L594 810L584 810Z"/>
<path class="f" d="M584 810L587 807L591 807L594 810L594 813L584 813Z"/>
<path class="m" d="M584 813L587 810L591 810L594 813L594 816L584 816Z"/>
<path class="f" d="M584 816L587 813L591 813L594 816L594 826L584 826Z"/>
<path class="m" d="M584 826L587 823L591 823L594 826L594 830L584 830Z"/>
<path class="f" d="M584 830L587 827L591 827L594 830L594 836L591 839L587 839L584 836Z"/>
<path class="m" d="M587 645h4l3 3v4l-3 3h-4l-3-3v-4z"/>
<path class="m" d="M598 829h4l3 3v4l-3 3h-4l-3-3v-4z"/>
<path class="f" d="M598 826h4l3 3v4l-3 3h-4l-3-3v-4z"/>
<path class="m" d="M598 684h4l3 3v4l-3 3h-4l-3-3v-4z"/><path class="m" d="M598 691h4l3 3v4l-3 3h-4l-3-3v-4z"/><path class="m" d="M598 699h4l3 3v4l-3 3h-4l-3-3v-4z"/><path class="m" d="M598 706h4l3 3v4l-3 3h-4l-3-3v-4z"/><path class="m" d="M598 713h4l3 3v4l-3 3h-4l-3-3v-4z"/><path class="m" d="M598 721h4l3 3v4l-3 3h-4l-3-3v-4z"/><path class="m" d="M598 728h4l3 3v4l-3 3h-4l-3-3v-4z"/><path class="m" d="M598 735h4l3 3v4l-3 3h-4l-3-3v-4z"/><path class="m" d="M595 740L605 740L605 751L595 751Z"/>
<path class="f" d="M595 751L598 748L602 748L605 751L605 759L595 759Z"/>
<path class="m" d="M595 759L598 756L602 756L605 759L605 770L595 770Z"/>
<path class="m" d="M595 774L605 774L605 796L595 796Z"/>
<path class="f" d="M595 770L598 767L602 767L605 770L605 774L602 777L598 777L595 774Z"/>
<path class="f" d="M595 796L598 793L602 793L605 796L605 826L595 826Z"/>
<path class="m" d="M595 826L598 823L602 823L605 826L605 831L602 834L598 834L595 831Z"/>
<path class="m" d="M598 669h4l3 3v4l-3 3h-4l-3-3v-4z"/>
<path class="m" d="M609 684h4l3 3v4l-3 3h-4l-3-3v-4z"/><path class="m" d="M609 691h4l3 3v4l-3 3h-4l-3-3v-4z"/><path class="m" d="M606 696L616 696L616 702L606 702Z"/>
<path class="f" d="M609 698h4l3 3v4l-3 3h-4l-3-3v-4z"/><path class="f" d="M609 705h4l3 3v4l-3 3h-4l-3-3v-4z"/><path class="f" d="M606 710L616 710L616 719L606 719Z"/>
<path class="m" d="M606 719L609 716L613 716L616 719L616 726L606 726Z"/>
<path class="f" d="M606 726L609 723L613 723L616 726L616 728L606 728Z"/>
<path class="m" d="M606 728L609 725L613 725L616 728L616 730L606 730Z"/>
<path class="f" d="M609 727h4l3 3v4l-3 3h-4l-3-3v-4z"/><path class="f" d="M609 734h4l3 3v4l-3 3h-4l-3-3v-4z"/>
<path class="m" d="M609 741h4l3 3v4l-3 3h-4l-3-3v-4z"/><path class="m" d="M606 746L616 746L616 773L606 773Z"/>
<path class="f" d="M606 773L609 770L613 770L616 773L616 774L606 774Z"/>
<path class="m" d="M606 774L609 771L613 771L616 774L616 775L606 775Z"/>
<path class="f" d="M606 775L609 772L613 772L616 775L616 777L606 777Z"/>
<path class="m" d="M606 777L609 774L613 774L616 777L616 785L606 785Z"/>
<path class="m" d="M606 793L616 793L616 811L606 811Z"/>
<path class="f" d="M606 785L609 782L613 782L616 785L616 793L613 796L609 796L606 793Z"/>
<path class="f" d="M606 811L609 808L613 808L616 811L616 820L606 820Z"/>
<path class="m" d="M606 820L609 817L613 817L616 820L616 831L606 831Z"/>
<path class="f" d="M606 831L609 828L613 828L616 831L616 836L613 839L609 839L606 836Z"/>
<path class="f" d="M617 673L627 673L627 678L617 678Z"/><path class="f" d="M620 673h4l3 3v4l-3 3h-4l-3-3v-4z"/><path class="f" d="M620 680h4l3 3v4l-3 3h-4l-3-3v-4z"/><path class="f" d="M620 688h4l3 3v4l-3 3h-4l-3-3v-4z"/><path class="f" d="M617 693L627 693L627 704L617 704Z"/>
<path class="m" d="M617 667L620 664L624 664L627 667L627 673L624 676L620 676L617 673Z"/>
<path class="m" d="M620 701h4l3 3v4l-3 3h-4l-3-3v-4z"/><path class="m" d="M620 708h4l3 3v4l-3 3h-4l-3-3v-4z"/>
<path class="f" d="M617 718L620 715L624 715L627 718L627 720L617 720Z"/>
<path class="m" d="M617 720L620 717L624 717L627 720L627 724L617 724Z"/>
<path class="f" d="M617 724L620 721L624 721L627 724L627 727L617 727Z"/>
<path class="m" d="M617 727L620 724L624 724L627 727L627 732L617 732Z"/>
<path class="f" d="M617 732L620 729L624 729L627 732L627 735L617 735Z"/>
<path class="m" d="M620 732h4l3 3v4l-3 3h-4l-3-3v-4z"/><path class="m" d="M620 739h4l3 3v4l-3 3h-4l-3-3v-4z"/><path class="m" d="M617 744L627 744L627 761L617 761Z"/>
<path class="f" d="M617 761L620 758L624 758L627 761L627 771L617 771Z"/>
<path class="m" d="M617 771L620 768L624 768L627 771L627 772L617 772Z"/>
<path class="m" d="M617 777L627 777L627 799L617 799Z"/>
<path class="f" d="M617 772L620 769L624 769L627 772L627 777L624 780L620 780L617 777Z"/>
<path class="f" d="M617 799L620 796L624 796L627 799L627 806L617 806Z"/>
<path class="m" d="M617 806L620 803L624 803L627 806L627 811L617 811Z"/>
<path class="f" d="M617 811L620 808L624 808L627 811L627 818L617 818Z"/>
<path class="m" d="M617 818L620 815L624 815L627 818L627 829L617 829Z"/>
<path class="f" d="M617 829L620 826L624 826L627 829L627 832L617 832Z"/>
<path class="m" d="M617 832L620 829L624 829L627 832L627 836L624 839L620 839L617 836Z"/>
<path class="m" d="M628 663L631 660L635 660L638 663L638 673L628 673Z"/>
<path class="m" d="M628 674L638 674L638 679L628 679Z"/><path class="m" d="M631 674h4l3 3v4l-3 3h-4l-3-3v-4z"/><path class="m" d="M631 681h4l3 3v4l-3 3h-4l-3-3v-4z"/><path class="m" d="M628 686L638 686L638 696L628 696Z"/>
<path class="f" d="M628 673L631 670L635 670L638 673L638 674L635 677L631 677L628 674Z"/>
<path class="m" d="M628 706L638 706L638 711L628 711Z"/><path class="m" d="M631 706h4l3 3v4l-3 3h-4l-3-3v-4z"/><path class="m" d="M631 713h4l3 3v4l-3 3h-4l-3-3v-4z"/><path class="m" d="M631 721h4l3 3v4l-3 3h-4l-3-3v-4z"/><path class="m" d="M631 728h4l3 3v4l-3 3h-4l-3-3v-4z"/><path class="m" d="M631 735h4l3 3v4l-3 3h-4l-3-3v-4z"/><path class="m" d="M631 743h4l3 3v4l-3 3h-4l-3-3v-4z"/><path class="m" d="M628 748L638 748L638 772L628 772Z"/>
<path class="f" d="M631 694h4l3 3v4l-3 3h-4l-3-3v-4z"/><path class="f" d="M631 699h4l3 3v4l-3 3h-4l-3-3v-4z"/>
<path class="f" d="M628 772L631 769L635 769L638 772L638 778L628 778Z"/>
<path class="m" d="M628 778L631 775L635 775L638 778L638 787L628 787Z"/>
<path class="m" d="M628 798L638 798L638 816L628 816Z"/>
<path class="f" d="M628 787L631 784L635 784L638 787L638 798L635 801L631 801L628 798Z"/>
<path class="f" d="M628 816L631 813L635 813L638 816L638 826L628 826Z"/>
<path class="m" d="M628 826L631 823L635 823L638 826L638 830L628 830Z"/>
<path class="f" d="M628 830L631 827L635 827L638 830L638 836L635 839L631 839L628 836Z"/>
<path class="m" d="M631 645h4l3 3v4l-3 3h-4l-3-3v-4z"/>
<path class="f" d="M642 655h4l3 3v4l-3 3h-4l-3-3v-4z"/><path class="f" d="M642 662h4l3 3v4l-3 3h-4l-3-3v-4z"/>
<path class="m" d="M639 671L642 668L646 668L649 671L649 676L646 679L642 679L639 676Z"/>
<path class="f" d="M642 684h4l3 3v4l-3 3h-4l-3-3v-4z"/><path class="f" d="M642 691h4l3 3v4l-3 3h-4l-3-3v-4z"/><path class="f" d="M642 699h4l3 3v4l-3 3h-4l-3-3v-4z"/><path class="f" d="M639 704L649 704L649 711L639 711Z"/>
<path class="m" d="M639 711L642 708L646 708L649 711L649 712L639 712Z"/>
<path class="f" d="M639 712L642 709L646 709L649 712L649 714L639 714Z"/>
<path class="m" d="M639 714L642 711L646 711L649 714L649 715L639 715Z"/>
<path class="f" d="M639 715L642 712L646 712L649 715L649 717L639 717Z"/>
<path class="m" d="M642 714h4l3 3v4l-3 3h-4l-3-3v-4z"/><path class="m" d="M642 721h4l3 3v4l-3 3h-4l-3-3v-4z"/><path class="m" d="M642 729h4l3 3v4l-3 3h-4l-3-3v-4z"/><path class="m" d="M639 734L649 734L649 744L639 744Z"/>
<path class="m" d="M639 748L649 748L649 784L639 784Z"/>
<path class="f" d="M639 744L642 741L646 741L649 744L649 748L646 751L642 751L639 748Z"/>
<path class="f" d="M639 784L642 781L646 781L649 784L649 785L639 785Z"/>
<path class="m" d="M639 785L642 782L646 782L649 785L649 800L639 800Z"/>
<path class="f" d="M639 800L642 797L646 797L649 800L649 808L639 808Z"/>
<path class="m" d="M639 808L642 805L646 805L649 808L649 813L639 813Z"/>
<path class="f" d="M639 813L642 810L646 810L649 813L649 815L639 815Z"/>
<path class="m" d="M639 815L642 812L646 812L649 815L649 824L639 824Z"/>
<path class="f" d="M639 824L642 821L646 821L649 824L649 831L639 831Z"/>
<path class="m" d="M639 831L642 828L646 828L649 831L649 836L646 839L642 839L639 836Z"/>
<path class="f" d="M651 657L654 654L658 654L661 657L661 665L651 665Z"/>
<path class="m" d="M651 665L654 662L658 662L661 665L661 676L651 676Z"/>
<path class="m" d="M651 678L661 678L661 683L651 683Z"/><path class="m" d="M654 678h4l3 3v4l-3 3h-4l-3-3v-4z"/><path class="m" d="M654 685h4l3 3v4l-3 3h-4l-3-3v-4z"/><path class="m" d="M651 690L661 690L661 698L651 698Z"/>
<path class="f" d="M651 677L654 674L658 674L661 677L661 678L658 681L654 681L651 678Z"/>
<path class="f" d="M651 698L654 695L658 695L661 698L661 701L651 701Z"/>
<path class="m" d="M654 698h4l3 3v4l-3 3h-4l-3-3v-4z"/><path class="m" d="M654 705h4l3 3v4l-3 3h-4l-3-3v-4z"/><path class="m" d="M654 713h4l3 3v4l-3 3h-4l-3-3v-4z"/><path class="m" d="M654 720h4l3 3v4l-3 3h-4l-3-3v-4z"/><path class="m" d="M654 727h4l3 3v4l-3 3h-4l-3-3v-4z"/><path class="m" d="M654 735h4l3 3v4l-3 3h-4l-3-3v-4z"/>
<path class="m" d="M651 752L661 752L661 768L651 768Z"/>
<path class="f" d="M651 745L654 742L658 742L661 745L661 752L658 755L654 755L651 752Z"/>
<path class="f" d="M651 768L654 765L658 765L661 768L661 794L651 794Z"/>
<path class="m" d="M651 794L654 791L658 791L661 794L661 796L651 796Z"/>
<path class="f" d="M651 796L654 793L658 793L661 796L661 811L651 811Z"/>
<path class="f" d="M651 813L661 813L661 833L651 833Z"/>
<path class="m" d="M651 811L654 808L658 808L661 811L661 813L658 816L654 816L651 813Z"/>
<path class="m" d="M651 833L654 830L658 830L661 833L661 836L658 839L654 839L651 836Z"/>
<path class="m" d="M654 643h4l3 3v4l-3 3h-4l-3-3v-4z"/>
<path class="m" d="M665 645h4l3 3v4l-3 3h-4l-3-3v-4z"/><path class="m" d="M665 652h4l3 3v4l-3 3h-4l-3-3v-4z"/><path class="m" d="M662 657L672 657L672 665L662 665Z"/>
<path class="m" d="M662 666L672 666L672 671L662 671Z"/><path class="m" d="M665 666h4l3 3v4l-3 3h-4l-3-3v-4z"/><path class="m" d="M665 673h4l3 3v4l-3 3h-4l-3-3v-4z"/><path class="m" d="M665 681h4l3 3v4l-3 3h-4l-3-3v-4z"/><path class="m" d="M665 688h4l3 3v4l-3 3h-4l-3-3v-4z"/><path class="m" d="M662 693L672 693L672 704L662 704Z"/>
<path class="f" d="M662 665L665 662L669 662L672 665L672 666L669 669L665 669L662 666Z"/>
<path class="f" d="M665 701h4l3 3v4l-3 3h-4l-3-3v-4z"/><path class="f" d="M665 708h4l3 3v4l-3 3h-4l-3-3v-4z"/><path class="f" d="M665 716h4l3 3v4l-3 3h-4l-3-3v-4z"/>
<path class="m" d="M665 723h4l3 3v4l-3 3h-4l-3-3v-4z"/><path class="m" d="M665 730h4l3 3v4l-3 3h-4l-3-3v-4z"/><path class="m" d="M662 735L672 735L672 744L662 744Z"/>
<path class="m" d="M662 748L672 748L672 770L662 770Z"/>
<path class="f" d="M662 744L665 741L669 741L672 744L672 748L669 751L665 751L662 748Z"/>
<path class="f" d="M662 770L665 767L669 767L672 770L672 808L662 808Z"/>
<path class="m" d="M662 808L665 805L669 805L672 808L672 820L662 820Z"/>
<path class="f" d="M662 820L665 817L669 817L672 820L672 833L662 833Z"/>
<path class="m" d="M662 833L665 830L669 830L672 833L672 836L669 839L665 839L662 836Z"/>
<path class="f" d="M676 670h4l3 3v4l-3 3h-4l-3-3v-4z"/>
<path class="m" d="M673 667L676 664L680 664L683 667L683 673L680 676L676 676L673 673Z"/>
<path class="m" d="M673 687L676 684L680 684L683 687L683 698L673 698Z"/>
<path class="m" d="M673 706L683 706L683 711L673 711Z"/><path class="m" d="M676 706h4l3 3v4l-3 3h-4l-3-3v-4z"/><path class="m" d="M676 713h4l3 3v4l-3 3h-4l-3-3v-4z"/><path class="m" d="M673 718L683 718L683 725L673 725Z"/>
<path class="f" d="M673 698L676 695L680 695L683 698L683 706L680 709L676 709L673 706Z"/>
<path class="f" d="M673 725L676 722L680 722L683 725L683 726L673 726Z"/>
<path class="m" d="M673 726L676 723L680 723L683 726L683 734L673 734Z"/>
<path class="f" d="M673 734L676 731L680 731L683 734L683 740L673 740Z"/>
<path class="m" d="M673 740L676 737L680 737L683 740L683 751L673 751Z"/>
<path class="m" d="M673 757L683 757L683 778L673 778Z"/>
<path class="f" d="M673 751L676 748L680 748L683 751L683 757L680 760L676 760L673 757Z"/>
<path class="f" d="M673 778L676 775L680 775L683 778L683 790L673 790Z"/>
<path class="f" d="M673 792L683 792L683 810L673 810Z"/>
<path class="m" d="M673 790L676 787L680 787L683 790L683 792L680 795L676 795L673 792Z"/>
<path class="f" d="M673 818L683 818L683 836L680 839L676 839L673 836Z"/>
<path class="m" d="M673 810L676 807L680 807L683 810L683 818L680 821L676 821L673 818Z"/>
<path class="m" d="M684 658L687 655L691 655L694 658L694 662L684 662Z"/>
<path class="f" d="M684 661L687 658L691 658L694 661L694 672L684 672Z"/>
<path class="f" d="M684 672L694 672L694 677L684 677Z"/><path class="f" d="M687 672h4l3 3v4l-3 3h-4l-3-3v-4z"/><path class="f" d="M687 679h4l3 3v4l-3 3h-4l-3-3v-4z"/><path class="f" d="M684 684L694 684L694 695L684 695Z"/>
<path class="m" d="M684 671L687 668L691 668L694 671L694 672L691 675L687 675L684 672Z"/>
<path class="m" d="M687 692h4l3 3v4l-3 3h-4l-3-3v-4z"/><path class="m" d="M687 699h4l3 3v4l-3 3h-4l-3-3v-4z"/><path class="m" d="M687 707h4l3 3v4l-3 3h-4l-3-3v-4z"/><path class="m" d="M684 712L694 712L694 722L684 722Z"/>
<path class="m" d="M684 731L694 731L694 736L684 736Z"/><path class="m" d="M687 731h4l3 3v4l-3 3h-4l-3-3v-4z"/><path class="m" d="M687 738h4l3 3v4l-3 3h-4l-3-3v-4z"/><path class="m" d="M684 743L694 743L694 755L684 755Z"/>
<path class="f" d="M687 719h4l3 3v4l-3 3h-4l-3-3v-4z"/><path class="f" d="M687 724h4l3 3v4l-3 3h-4l-3-3v-4z"/>
<path class="m" d="M684 762L694 762L694 794L684 794Z"/>
<path class="f" d="M684 755L687 752L691 752L694 755L694 762L691 765L687 765L684 762Z"/>
<path class="f" d="M684 794L687 791L691 791L694 794L694 818L684 818Z"/>
<path class="m" d="M684 818L687 815L691 815L694 818L694 821L684 821Z"/>
<path class="f" d="M684 821L687 818L691 818L694 821L694 836L691 839L687 839L684 836Z"/>
<path class="f" d="M698 829h4l3 3v4l-3 3h-4l-3-3v-4z"/>
<path class="m" d="M698 655h4l3 3v4l-3 3h-4l-3-3v-4z"/><path class="m" d="M698 662h4l3 3v4l-3 3h-4l-3-3v-4z"/><path class="m" d="M698 664h4l3 3v4l-3 3h-4l-3-3v-4z"/>
<path class="m" d="M698 684h4l3 3v4l-3 3h-4l-3-3v-4z"/><path class="m" d="M698 691h4l3 3v4l-3 3h-4l-3-3v-4z"/><path class="m" d="M698 699h4l3 3v4l-3 3h-4l-3-3v-4z"/><path class="m" d="M698 706h4l3 3v4l-3 3h-4l-3-3v-4z"/><path class="m" d="M695 711L705 711L705 719L695 719Z"/>
<path class="m" d="M695 725L705 725L705 730L695 730Z"/><path class="m" d="M698 725h4l3 3v4l-3 3h-4l-3-3v-4z"/><path class="m" d="M698 732h4l3 3v4l-3 3h-4l-3-3v-4z"/><path class="m" d="M698 740h4l3 3v4l-3 3h-4l-3-3v-4z"/><path class="m" d="M695 745L705 745L705 791L695 791Z"/>
<path class="f" d="M695 719L698 716L702 716L705 719L705 725L702 728L698 728L695 725Z"/>
<path class="f" d="M695 791L698 788L702 788L705 791L705 804L695 804Z"/>
<path class="m" d="M695 804L698 801L702 801L705 804L705 806L695 806Z"/>
<path class="f" d="M695 806L698 803L702 803L705 806L705 807L695 807Z"/>
<path class="m" d="M695 807L698 804L702 804L705 807L705 834L702 837L698 837L695 834Z"/>
<path class="f" d="M709 645h4l3 3v4l-3 3h-4l-3-3v-4z"/><path class="f" d="M709 652h4l3 3v4l-3 3h-4l-3-3v-4z"/><path class="f" d="M709 655h4l3 3v4l-3 3h-4l-3-3v-4z"/>
<path class="m" d="M706 672L709 669L713 669L716 672L716 680L706 680Z"/>
<path class="m" d="M706 681L716 681L716 686L706 686Z"/><path class="m" d="M709 681h4l3 3v4l-3 3h-4l-3-3v-4z"/><path class="m" d="M709 688h4l3 3v4l-3 3h-4l-3-3v-4z"/><path class="m" d="M709 696h4l3 3v4l-3 3h-4l-3-3v-4z"/><path class="m" d="M709 703h4l3 3v4l-3 3h-4l-3-3v-4z"/><path class="m" d="M709 710h4l3 3v4l-3 3h-4l-3-3v-4z"/><path class="m" d="M706 715L716 715L716 726L706 726Z"/>
<path class="f" d="M706 680L709 677L713 677L716 680L716 681L713 684L709 684L706 681Z"/>
<path class="f" d="M706 726L709 723L713 723L716 726L716 729L706 729Z"/>
<path class="m" d="M706 729L709 726L713 726L716 729L716 733L706 733Z"/>
<path class="m" d="M706 740L716 740L716 745L706 745Z"/><path class="m" d="M709 740h4l3 3v4l-3 3h-4l-3-3v-4z"/><path class="m" d="M706 745L716 745L716 770L706 770Z"/>
<path class="f" d="M706 733L709 730L713 730L716 733L716 740L713 743L709 743L706 740Z"/>
<path class="f" d="M706 770L709 767L713 767L716 770L716 787L706 787Z"/>
<path class="f" d="M706 792L716 792L716 809L706 809Z"/>
<path class="m" d="M706 787L709 784L713 784L716 787L716 792L713 795L709 795L706 792Z"/>
<path class="m" d="M706 809L709 806L713 806L716 809L716 822L706 822Z"/>
<path class="f" d="M706 822L709 819L713 819L716 822L716 825L706 825Z"/>
<path class="m" d="M706 825L709 822L713 822L716 825L716 836L713 839L709 839L706 836Z"/>
<path class="m" d="M720 660h4l3 3v4l-3 3h-4l-3-3v-4z"/><path class="m" d="M720 667h4l3 3v4l-3 3h-4l-3-3v-4z"/><path class="m" d="M720 668h4l3 3v4l-3 3h-4l-3-3v-4z"/>
<path class="m" d="M717 687L720 684L724 684L727 687L727 696L717 696Z"/>
<path class="f" d="M717 696L720 693L724 693L727 696L727 700L717 700Z"/>
<path class="f" d="M717 707L727 707L727 712L717 712Z"/><path class="f" d="M720 707h4l3 3v4l-3 3h-4l-3-3v-4z"/><path class="f" d="M720 714h4l3 3v4l-3 3h-4l-3-3v-4z"/>
<path class="m" d="M717 700L720 697L724 697L727 700L727 707L724 710L720 710L717 707Z"/>
<path class="m" d="M720 721h4l3 3v4l-3 3h-4l-3-3v-4z"/><path class="m" d="M720 728h4l3 3v4l-3 3h-4l-3-3v-4z"/><path class="m" d="M720 736h4l3 3v4l-3 3h-4l-3-3v-4z"/><path class="m" d="M720 743h4l3 3v4l-3 3h-4l-3-3v-4z"/><path class="m" d="M717 748L727 748L727 780L717 780Z"/>
<path class="f" d="M717 780L720 777L724 777L727 780L727 792L717 792Z"/>
<path class="m" d="M717 792L720 789L724 789L727 792L727 802L717 802Z"/>
<path class="f" d="M717 802L720 799L724 799L727 802L727 812L717 812Z"/>
<path class="f" d="M717 818L727 818L727 836L724 839L720 839L717 836Z"/>
<path class="m" d="M717 812L720 809L724 809L727 812L727 819L724 822L720 822L717 819Z"/>
<path class="f" d="M720 645h4l3 3v4l-3 3h-4l-3-3v-4z"/>
<path class="m" d="M731 650h4l3 3v4l-3 3h-4l-3-3v-4z"/><path class="m" d="M731 657h4l3 3v4l-3 3h-4l-3-3v-4z"/><path class="m" d="M731 665h4l3 3v4l-3 3h-4l-3-3v-4z"/><path class="m" d="M731 668h4l3 3v4l-3 3h-4l-3-3v-4z"/>
<path class="f" d="M731 685h4l3 3v4l-3 3h-4l-3-3v-4z"/><path class="f" d="M728 690L738 690L738 700L728 700Z"/>
<path class="m" d="M728 699L731 696L735 696L738 699L738 707L728 707Z"/>
<path class="f" d="M728 707L731 704L735 704L738 707L738 716L728 716Z"/>
<path class="m" d="M728 716L731 713L735 713L738 716L738 725L728 725Z"/>
<path class="f" d="M728 725L731 722L735 722L738 725L738 733L728 733Z"/>
<path class="m" d="M728 733L731 730L735 730L738 733L738 744L728 744Z"/>
<path class="f" d="M728 744L731 741L735 741L738 744L738 753L728 753Z"/>
<path class="m" d="M728 753L731 750L735 750L738 753L738 767L728 767Z"/>
<path class="m" d="M728 771L738 771L738 797L728 797Z"/>
<path class="f" d="M728 767L731 764L735 764L738 767L738 771L735 774L731 774L728 771Z"/>
<path class="f" d="M728 797L731 794L735 794L738 797L738 800L728 800Z"/>
<path class="m" d="M728 801L731 798L735 798L738 801L738 803L728 803Z"/>
<path class="f" d="M728 803L731 800L735 800L738 803L738 806L728 806Z"/>
<path class="m" d="M728 806L731 803L735 803L738 806L738 830L728 830Z"/>
<path class="f" d="M728 830L731 827L735 827L738 830L738 836L735 839L731 839L728 836Z"/>
<path class="m" d="M739 648L742 645L746 645L749 648L749 650L746 653L742 653L739 650Z"/>
<path class="f" d="M739 663L742 660L746 660L749 663L749 671L739 671Z"/>
<path class="m" d="M739 671L742 668L746 668L749 671L749 682L739 682Z"/>
<path class="f" d="M739 682L742 679L746 679L749 682L749 685L739 685Z"/>
<path class="m" d="M742 682h4l3 3v4l-3 3h-4l-3-3v-4z"/><path class="m" d="M742 689h4l3 3v4l-3 3h-4l-3-3v-4z"/>
<path class="f" d="M739 699L742 696L746 696L749 699L749 710L739 710Z"/>
<path class="m" d="M739 710L742 707L746 707L749 710L749 719L739 719Z"/>
<path class="m" d="M739 725L749 725L749 730L739 730Z"/><path class="m" d="M742 725h4l3 3v4l-3 3h-4l-3-3v-4z"/><path class="m" d="M742 732h4l3 3v4l-3 3h-4l-3-3v-4z"/><path class="m" d="M742 740h4l3 3v4l-3 3h-4l-3-3v-4z"/><path class="m" d="M739 745L749 745L749 759L739 759Z"/>
<path class="f" d="M739 719L742 716L746 716L749 719L749 725L746 728L742 728L739 725Z"/>
<path class="f" d="M739 759L742 756L746 756L749 759L749 773L739 773Z"/>
<path class="m" d="M739 773L742 770L746 770L749 773L749 788L739 788Z"/>
<path class="m" d="M739 794L749 794L749 813L739 813Z"/>
<path class="f" d="M739 788L742 785L746 785L749 788L749 794L746 797L742 797L739 794Z"/>
<path class="f" d="M739 813L742 810L746 810L749 813L749 816L739 816Z"/>
<path class="m" d="M739 816L742 813L746 813L749 816L749 836L746 839L742 839L739 836Z"/>
<path class="m" d="M750 648L753 645L757 645L760 648L760 651L750 651Z"/>
<path class="m" d="M750 653L760 653L760 658L750 658Z"/><path class="m" d="M753 653h4l3 3v4l-3 3h-4l-3-3v-4z"/><path class="m" d="M753 660h4l3 3v4l-3 3h-4l-3-3v-4z"/><path class="m" d="M753 668h4l3 3v4l-3 3h-4l-3-3v-4z"/><path class="m" d="M750 673L760 673L760 680L750 680Z"/>
<path class="f" d="M750 651L753 648L757 648L760 651L760 653L757 656L753 656L750 653Z"/>
<path class="f" d="M750 680L753 677L757 677L760 680L760 686L750 686Z"/>
<path class="m" d="M750 686L753 683L757 683L760 686L760 691L750 691Z"/>
<path class="m" d="M750 698L760 698L760 703L750 703Z"/><path class="m" d="M753 698h4l3 3v4l-3 3h-4l-3-3v-4z"/><path class="m" d="M753 705h4l3 3v4l-3 3h-4l-3-3v-4z"/><path class="m" d="M750 710L760 710L760 720L750 720Z"/>
<path class="f" d="M750 691L753 688L757 688L760 691L760 699L757 702L753 702L750 699Z"/>
<path class="f" d="M750 720L753 717L757 717L760 720L760 729L750 729Z"/>
<path class="m" d="M750 729L753 726L757 726L760 729L760 739L750 739Z"/>
<path class="f" d="M750 739L753 736L757 736L760 739L760 741L750 741Z"/>
<path class="m" d="M753 738h4l3 3v4l-3 3h-4l-3-3v-4z"/><path class="m" d="M750 743L760 743L760 753L750 753Z"/>
<path class="f" d="M750 753L753 750L757 750L760 753L760 770L750 770Z"/>
<path class="m" d="M750 770L753 767L757 767L760 770L760 796L750 796Z"/>
<path class="f" d="M750 797L753 794L757 794L760 797L760 836L757 839L753 839L750 836Z"/>
<path class="m" d="M761 663L764 660L768 660L771 663L771 666L761 666Z"/>
<path class="f" d="M764 663h4l3 3v4l-3 3h-4l-3-3v-4z"/><path class="f" d="M764 669h4l3 3v4l-3 3h-4l-3-3v-4z"/>
<path class="m" d="M761 686L764 683L768 683L771 686L771 695L761 695Z"/>
<path class="f" d="M761 695L764 692L768 692L771 695L771 705L761 705Z"/>
<path class="m" d="M761 705L764 702L768 702L771 705L771 710L761 710Z"/>
<path class="m" d="M761 714L771 714L771 719L761 719Z"/><path class="m" d="M764 714h4l3 3v4l-3 3h-4l-3-3v-4z"/><path class="m" d="M764 721h4l3 3v4l-3 3h-4l-3-3v-4z"/><path class="m" d="M761 726L771 726L771 732L761 732Z"/>
<path class="f" d="M761 710L764 707L768 707L771 710L771 714L768 717L764 717L761 714Z"/>
<path class="m" d="M761 740L771 740L771 745L761 745Z"/><path class="m" d="M764 740h4l3 3v4l-3 3h-4l-3-3v-4z"/><path class="m" d="M761 745L771 745L771 784L761 784Z"/>
<path class="f" d="M761 732L764 729L768 729L771 732L771 740L768 743L764 743L761 740Z"/>
<path class="f" d="M761 784L764 781L768 781L771 784L771 830L761 830Z"/>
<path class="m" d="M761 830L764 827L768 827L771 830L771 836L768 839L764 839L761 836Z"/>
<path class="m" d="M773 648L776 645L780 645L783 648L783 651L780 654L776 654L773 651Z"/>
<path class="m" d="M773 671L776 668L780 668L783 671L783 675L780 678L776 678L773 675Z"/>
<path class="m" d="M776 684h4l3 3v4l-3 3h-4l-3-3v-4z"/><path class="m" d="M776 691h4l3 3v4l-3 3h-4l-3-3v-4z"/><path class="m" d="M776 699h4l3 3v4l-3 3h-4l-3-3v-4z"/>
<path class="f" d="M773 709L776 706L780 706L783 709L783 711L773 711Z"/>
<path class="m" d="M776 708h4l3 3v4l-3 3h-4l-3-3v-4z"/><path class="m" d="M776 715h4l3 3v4l-3 3h-4l-3-3v-4z"/>
<path class="f" d="M773 725L776 722L780 722L783 725L783 734L773 734Z"/>
<path class="m" d="M773 734L776 731L780 731L783 734L783 744L773 744Z"/>
<path class="m" d="M773 750L783 750L783 784L773 784Z"/>
<path class="f" d="M773 744L776 741L780 741L783 744L783 750L780 753L776 753L773 750Z"/>
<path class="f" d="M773 784L776 781L780 781L783 784L783 786L773 786Z"/>
<path class="m" d="M773 786L776 783L780 783L783 786L783 807L773 807Z"/>
<path class="f" d="M773 807L776 804L780 804L783 807L783 809L773 809Z"/>
<path class="f" d="M773 816L783 816L783 836L780 839L776 839L773 836Z"/>
<path class="m" d="M773 809L776 806L780 806L783 809L783 816L780 819L776 819L773 816Z"/>
<path class="m" d="M784 648L787 645L791 645L794 648L794 651L791 654L787 654L784 651Z"/>
<path class="m" d="M784 704L787 701L791 701L794 704L794 710L784 710Z"/>
<path class="f" d="M784 710L787 707L791 707L794 710L794 719L784 719Z"/>
<path class="m" d="M784 719L787 716L791 716L794 719L794 726L784 726Z"/>
<path class="m" d="M784 733L794 733L794 738L784 738Z"/><path class="m" d="M787 733h4l3 3v4l-3 3h-4l-3-3v-4z"/><path class="m" d="M787 740h4l3 3v4l-3 3h-4l-3-3v-4z"/><path class="m" d="M784 745L794 745L794 782L784 782Z"/>
<path class="f" d="M784 726L787 723L791 723L794 726L794 733L791 736L787 736L784 733Z"/>
<path class="f" d="M784 781L787 778L791 778L794 781L794 787L784 787Z"/>
<path class="f" d="M784 791L794 791L794 816L784 816Z"/>
<path class="m" d="M784 787L787 784L791 784L794 787L794 791L791 794L787 794L784 791Z"/>
<path class="m" d="M784 815L787 812L791 812L794 815L794 818L784 818Z"/>
<path class="f" d="M784 818L787 815L791 815L794 818L794 834L784 834Z"/>
<path class="m" d="M784 834L787 831L791 831L794 834L794 836L791 839L787 839L784 836Z"/>
<path class="f" d="M787 660h4l3 3v4l-3 3h-4l-3-3v-4z"/>
<path class="m" d="M787 684h4l3 3v4l-3 3h-4l-3-3v-4z"/>
<path class="m" d="M798 829h4l3 3v4l-3 3h-4l-3-3v-4z"/>
<path class="m" d="M795 648L798 645L802 645L805 648L805 650L802 653L798 653L795 650Z"/>
<path class="m" d="M795 676L798 673L802 673L805 676L805 685L795 685Z"/>
<path class="f" d="M795 685L798 682L802 682L805 685L805 695L795 695Z"/>
<path class="m" d="M795 695L798 692L802 692L805 695L805 699L802 702L798 702L795 699Z"/>
<path class="m" d="M795 709L798 706L802 706L805 709L805 712L795 712Z"/>
<path class="f" d="M798 709h4l3 3v4l-3 3h-4l-3-3v-4z"/><path class="f" d="M798 716h4l3 3v4l-3 3h-4l-3-3v-4z"/><path class="f" d="M795 721L805 721L805 729L795 729Z"/>
<path class="m" d="M798 726h4l3 3v4l-3 3h-4l-3-3v-4z"/><path class="m" d="M798 733h4l3 3v4l-3 3h-4l-3-3v-4z"/><path class="m" d="M798 741h4l3 3v4l-3 3h-4l-3-3v-4z"/><path class="m" d="M795 746L805 746L805 786L795 786Z"/>
<path class="f" d="M795 786L798 783L802 783L805 786L805 792L795 792Z"/>
<path class="m" d="M795 792L798 789L802 789L805 792L805 798L795 798Z"/>
<path class="m" d="M795 804L805 804L805 828L795 828Z"/>
<path class="f" d="M795 798L798 795L802 795L805 798L805 804L802 807L798 807L795 804Z"/>
<path class="f" d="M795 828L798 825L802 825L805 828L805 831L802 834L798 834L795 831Z"/>
<path class="f" d="M806 682L816 682L816 687L806 687Z"/><path class="f" d="M809 682h4l3 3v4l-3 3h-4l-3-3v-4z"/><path class="f" d="M809 689h4l3 3v4l-3 3h-4l-3-3v-4z"/><path class="f" d="M809 697h4l3 3v4l-3 3h-4l-3-3v-4z"/><path class="f" d="M806 702L816 702L816 710L806 710Z"/>
<path class="m" d="M806 682L809 679L813 679L816 682L816 682L813 685L809 685L806 682Z"/>
<path class="m" d="M809 707h4l3 3v4l-3 3h-4l-3-3v-4z"/><path class="m" d="M809 714h4l3 3v4l-3 3h-4l-3-3v-4z"/><path class="m" d="M809 722h4l3 3v4l-3 3h-4l-3-3v-4z"/><path class="m" d="M809 729h4l3 3v4l-3 3h-4l-3-3v-4z"/>
<path class="f" d="M806 739L809 736L813 736L816 739L816 748L806 748Z"/>
<path class="m" d="M806 748L809 745L813 745L816 748L816 754L806 754Z"/>
<path class="f" d="M806 754L809 751L813 751L816 754L816 755L806 755Z"/>
<path class="m" d="M806 755L809 752L813 752L816 755L816 766L806 766Z"/>
<path class="m" d="M806 767L816 767L816 788L806 788Z"/>
<path class="f" d="M806 766L809 763L813 763L816 766L816 767L813 770L809 770L806 767Z"/>
<path class="f" d="M806 788L809 785L813 785L816 788L816 797L806 797Z"/>
<path class="m" d="M806 797L809 794L813 794L816 797L816 807L806 807Z"/>
<path class="f" d="M806 807L809 804L813 804L816 807L816 818L806 818Z"/>
<path class="m" d="M806 818L809 815L813 815L816 818L816 821L806 821Z"/>
<path class="f" d="M806 821L809 818L813 818L816 821L816 823L806 823Z"/>
<path class="m" d="M806 823L809 820L813 820L816 823L816 836L813 839L809 839L806 836Z"/>
<path class="m" d="M817 663L820 660L824 660L827 663L827 670L817 670Z"/>
<path class="f" d="M817 669L820 666L824 666L827 669L827 677L817 677Z"/>
<path class="m" d="M817 677L820 674L824 674L827 677L827 685L817 685Z"/>
<path class="m" d="M817 694L827 694L827 699L817 699Z"/><path class="m" d="M820 694h4l3 3v4l-3 3h-4l-3-3v-4z"/><path class="m" d="M820 701h4l3 3v4l-3 3h-4l-3-3v-4z"/>
<path class="f" d="M820 682h4l3 3v4l-3 3h-4l-3-3v-4z"/><path class="f" d="M820 687h4l3 3v4l-3 3h-4l-3-3v-4z"/>
<path class="m" d="M817 718L827 718L827 723L817 723Z"/><path class="m" d="M820 718h4l3 3v4l-3 3h-4l-3-3v-4z"/><path class="m" d="M820 725h4l3 3v4l-3 3h-4l-3-3v-4z"/><path class="m" d="M820 733h4l3 3v4l-3 3h-4l-3-3v-4z"/><path class="m" d="M820 740h4l3 3v4l-3 3h-4l-3-3v-4z"/><path class="m" d="M817 745L827 745L827 763L817 763Z"/>
<path class="f" d="M817 711L820 708L824 708L827 711L827 718L824 721L820 721L817 718Z"/>
<path class="f" d="M817 763L820 760L824 760L827 763L827 768L817 768Z"/>
<path class="m" d="M817 768L820 765L824 765L827 768L827 773L817 773Z"/>
<path class="f" d="M817 773L820 770L824 770L827 773L827 783L817 783Z"/>
<path class="m" d="M817 783L820 780L824 780L827 783L827 788L817 788Z"/>
<path class="m" d="M817 794L827 794L827 820L817 820Z"/>
<path class="f" d="M817 788L820 785L824 785L827 788L827 794L824 797L820 797L817 794Z"/>
<path class="f" d="M817 820L820 817L824 817L827 820L827 829L817 829Z"/>
<path class="m" d="M817 829L820 826L824 826L827 829L827 831L817 831Z"/>
<path class="f" d="M817 831L820 828L824 828L827 831L827 836L824 839L820 839L817 836Z"/>
<path class="m" d="M828 663L831 660L835 660L838 663L838 665L828 665Z"/>
<path class="f" d="M828 665L831 662L835 662L838 665L838 671L835 674L831 674L828 671Z"/>
<path class="m" d="M828 687L831 684L835 684L838 687L838 695L828 695Z"/>
<path class="m" d="M828 702L838 702L838 707L828 707Z"/><path class="m" d="M831 702h4l3 3v4l-3 3h-4l-3-3v-4z"/><path class="m" d="M831 709h4l3 3v4l-3 3h-4l-3-3v-4z"/><path class="m" d="M828 714L838 714L838 724L828 724Z"/>
<path class="f" d="M828 695L831 692L835 692L838 695L838 702L835 705L831 705L828 702Z"/>
<path class="f" d="M828 724L831 721L835 721L838 724L838 733L828 733Z"/>
<path class="m" d="M831 730h4l3 3v4l-3 3h-4l-3-3v-4z"/><path class="m" d="M828 735L838 735L838 745L828 745Z"/>
<path class="f" d="M828 745L831 742L835 742L838 745L838 747L828 747Z"/>
<path class="m" d="M828 747L831 744L835 744L838 747L838 753L828 753Z"/>
<path class="f" d="M828 753L831 750L835 750L838 753L838 758L828 758Z"/>
<path class="m" d="M828 758L831 755L835 755L838 758L838 765L828 765Z"/>
<path class="m" d="M828 768L838 768L838 799L828 799Z"/>
<path class="f" d="M828 765L831 762L835 762L838 765L838 768L835 771L831 771L828 768Z"/>
<path class="f" d="M828 799L831 796L835 796L838 799L838 802L828 802Z"/>
<path class="m" d="M828 802L831 799L835 799L838 802L838 811L828 811Z"/>
<path class="f" d="M828 811L831 808L835 808L838 811L838 822L828 822Z"/>
<path class="m" d="M828 822L831 819L835 819L838 822L838 825L828 825Z"/>
<path class="f" d="M828 825L831 822L835 822L838 825L838 836L835 839L831 839L828 836Z"/>
<path class="m" d="M842 660h4l3 3v4l-3 3h-4l-3-3v-4z"/><path class="m" d="M842 667h4l3 3v4l-3 3h-4l-3-3v-4z"/><path class="m" d="M839 672L849 672L849 679L839 679Z"/>
<path class="m" d="M839 683L849 683L849 688L839 688Z"/><path class="m" d="M842 683h4l3 3v4l-3 3h-4l-3-3v-4z"/><path class="m" d="M842 690h4l3 3v4l-3 3h-4l-3-3v-4z"/><path class="m" d="M842 698h4l3 3v4l-3 3h-4l-3-3v-4z"/><path class="m" d="M842 705h4l3 3v4l-3 3h-4l-3-3v-4z"/><path class="m" d="M842 712h4l3 3v4l-3 3h-4l-3-3v-4z"/>
<path class="f" d="M839 679L842 676L846 676L849 679L849 683L846 686L842 686L839 683Z"/>
<path class="m" d="M839 732L849 732L849 737L839 737Z"/><path class="m" d="M842 732h4l3 3v4l-3 3h-4l-3-3v-4z"/><path class="m" d="M842 739h4l3 3v4l-3 3h-4l-3-3v-4z"/><path class="m" d="M839 744L849 744L849 768L839 768Z"/>
<path class="f" d="M842 719h4l3 3v4l-3 3h-4l-3-3v-4z"/><path class="f" d="M842 725h4l3 3v4l-3 3h-4l-3-3v-4z"/>
<path class="f" d="M839 768L842 765L846 765L849 768L849 779L839 779Z"/>
<path class="m" d="M839 779L842 776L846 776L849 779L849 782L839 782Z"/>
<path class="f" d="M839 782L842 779L846 779L849 782L849 793L839 793Z"/>
<path class="m" d="M839 793L842 790L846 790L849 793L849 800L839 800Z"/>
<path class="f" d="M839 800L842 797L846 797L849 800L849 810L839 810Z"/>
<path class="f" d="M839 811L849 811L849 836L846 839L842 839L839 836Z"/>
<path class="m" d="M839 810L842 807L846 807L849 810L849 811L846 814L842 814L839 811Z"/>
<path class="m" d="M853 650h4l3 3v4l-3 3h-4l-3-3v-4z"/><path class="m" d="M853 657h4l3 3v4l-3 3h-4l-3-3v-4z"/><path class="m" d="M853 665h4l3 3v4l-3 3h-4l-3-3v-4z"/><path class="m" d="M853 672h4l3 3v4l-3 3h-4l-3-3v-4z"/><path class="m" d="M853 674h4l3 3v4l-3 3h-4l-3-3v-4z"/>
<path class="m" d="M850 699L853 696L857 696L860 699L860 703L850 703Z"/>
<path class="f" d="M850 703L853 700L857 700L860 703L860 712L850 712Z"/>
<path class="m" d="M850 712L853 709L857 709L860 712L860 722L850 722Z"/>
<path class="m" d="M850 726L860 726L860 731L850 731Z"/><path class="m" d="M853 726h4l3 3v4l-3 3h-4l-3-3v-4z"/><path class="m" d="M853 733h4l3 3v4l-3 3h-4l-3-3v-4z"/><path class="m" d="M850 738L860 738L860 746L850 746Z"/>
<path class="f" d="M850 722L853 719L857 719L860 722L860 726L857 729L853 729L850 726Z"/>
<path class="f" d="M850 746L853 743L857 743L860 746L860 755L850 755Z"/>
<path class="m" d="M850 755L853 752L857 752L860 755L860 763L850 763Z"/>
<path class="m" d="M850 769L860 769L860 814L850 814Z"/>
<path class="f" d="M850 763L853 760L857 760L860 763L860 769L857 772L853 772L850 769Z"/>
<path class="f" d="M850 814L853 811L857 811L860 814L860 830L850 830Z"/>
<path class="m" d="M850 830L853 827L857 827L860 830L860 836L857 839L853 839L850 836Z"/>
<path class="m" d="M864 664h4l3 3v4l-3 3h-4l-3-3v-4z"/><path class="m" d="M864 671h4l3 3v4l-3 3h-4l-3-3v-4z"/><path class="m" d="M861 676L871 676L871 687L861 687Z"/>
<path class="f" d="M861 687L864 684L868 684L871 687L871 689L861 689Z"/>
<path class="m" d="M864 686h4l3 3v4l-3 3h-4l-3-3v-4z"/><path class="m" d="M864 693h4l3 3v4l-3 3h-4l-3-3v-4z"/><path class="m" d="M864 701h4l3 3v4l-3 3h-4l-3-3v-4z"/><path class="m" d="M864 708h4l3 3v4l-3 3h-4l-3-3v-4z"/><path class="m" d="M864 715h4l3 3v4l-3 3h-4l-3-3v-4z"/><path class="m" d="M864 723h4l3 3v4l-3 3h-4l-3-3v-4z"/><path class="m" d="M864 730h4l3 3v4l-3 3h-4l-3-3v-4z"/><path class="m" d="M861 735L871 735L871 744L861 744Z"/>
<path class="m" d="M861 748L871 748L871 768L861 768Z"/>
<path class="f" d="M861 744L864 741L868 741L871 744L871 748L868 751L864 751L861 748Z"/>
<path class="f" d="M861 768L864 765L868 765L871 768L871 776L861 776Z"/>
<path class="m" d="M861 776L864 773L868 773L871 776L871 779L861 779Z"/>
<path class="m" d="M861 785L871 785L871 806L861 806Z"/>
<path class="f" d="M861 779L864 776L868 776L871 779L871 785L868 788L864 788L861 785Z"/>
<path class="f" d="M861 806L864 803L868 803L871 806L871 807L861 807Z"/>
<path class="m" d="M861 807L864 804L868 804L871 807L871 821L861 821Z"/>
<path class="f" d="M861 821L864 818L868 818L871 821L871 836L868 839L864 839L861 836Z"/>
<path class="f" d="M864 645h4l3 3v4l-3 3h-4l-3-3v-4z"/>
<path class="f" d="M875 684h4l3 3v4l-3 3h-4l-3-3v-4z"/><path class="f" d="M875 691h4l3 3v4l-3 3h-4l-3-3v-4z"/><path class="f" d="M875 694h4l3 3v4l-3 3h-4l-3-3v-4z"/>
<path class="m" d="M875 708h4l3 3v4l-3 3h-4l-3-3v-4z"/><path class="m" d="M875 715h4l3 3v4l-3 3h-4l-3-3v-4z"/><path class="m" d="M872 720L882 720L882 729L872 729Z"/>
<path class="f" d="M872 729L875 726L879 726L882 729L882 732L872 732Z"/>
<path class="m" d="M872 732L875 729L879 729L882 732L882 742L872 742Z"/>
<path class="m" d="M872 750L882 750L882 793L872 793Z"/>
<path class="f" d="M872 742L875 739L879 739L882 742L882 750L879 753L875 753L872 750Z"/>
<path class="f" d="M872 793L875 790L879 790L882 793L882 831L872 831Z"/>
<path class="m" d="M872 831L875 828L879 828L882 831L882 836L879 839L875 839L872 836Z"/>
<path class="m" d="M875 660h4l3 3v4l-3 3h-4l-3-3v-4z"/>
<path class="m" d="M886 655h4l3 3v4l-3 3h-4l-3-3v-4z"/><path class="m" d="M886 660h4l3 3v4l-3 3h-4l-3-3v-4z"/>
<path class="f" d="M886 679h4l3 3v4l-3 3h-4l-3-3v-4z"/><path class="f" d="M883 684L893 684L893 695L883 695Z"/>
<path class="m" d="M883 695L886 692L890 692L893 695L893 698L890 701L886 701L883 698Z"/>
<path class="m" d="M886 707h4l3 3v4l-3 3h-4l-3-3v-4z"/><path class="m" d="M886 714h4l3 3v4l-3 3h-4l-3-3v-4z"/><path class="m" d="M883 719L893 719L893 729L883 729Z"/>
<path class="m" d="M883 733L893 733L893 738L883 738Z"/><path class="m" d="M886 733h4l3 3v4l-3 3h-4l-3-3v-4z"/><path class="m" d="M886 740h4l3 3v4l-3 3h-4l-3-3v-4z"/><path class="m" d="M883 745L893 745L893 755L883 755Z"/>
<path class="f" d="M883 729L886 726L890 726L893 729L893 733L890 736L886 736L883 733Z"/>
<path class="m" d="M883 757L893 757L893 778L883 778Z"/>
<path class="f" d="M883 755L886 752L890 752L893 755L893 757L890 760L886 760L883 757Z"/>
<path class="m" d="M883 779L893 779L893 799L883 799Z"/>
<path class="f" d="M883 778L886 775L890 775L893 778L893 779L890 782L886 782L883 779Z"/>
<path class="f" d="M883 799L886 796L890 796L893 799L893 807L883 807Z"/>
<path class="m" d="M883 807L886 804L890 804L893 807L893 808L883 808Z"/>
<path class="f" d="M883 808L886 805L890 805L893 808L893 816L883 816Z"/>
<path class="m" d="M883 816L886 813L890 813L893 816L893 828L883 828Z"/>
<path class="f" d="M883 828L886 825L890 825L893 828L893 836L890 839L886 839L883 836Z"/>
<path class="m" d="M895 692L905 692L905 697L895 697Z"/><path class="m" d="M898 692h4l3 3v4l-3 3h-4l-3-3v-4z"/><path class="m" d="M898 699h4l3 3v4l-3 3h-4l-3-3v-4z"/><path class="m" d="M898 707h4l3 3v4l-3 3h-4l-3-3v-4z"/><path class="m" d="M898 714h4l3 3v4l-3 3h-4l-3-3v-4z"/><path class="m" d="M898 721h4l3 3v4l-3 3h-4l-3-3v-4z"/><path class="m" d="M898 729h4l3 3v4l-3 3h-4l-3-3v-4z"/><path class="m" d="M895 734L905 734L905 743L895 743Z"/>
<path class="f" d="M895 686L898 683L902 683L905 686L905 692L902 695L898 695L895 692Z"/>
<path class="f" d="M895 743L898 740L902 740L905 743L905 745L895 745Z"/>
<path class="m" d="M895 745L898 742L902 742L905 745L905 756L895 756Z"/>
<path class="f" d="M895 756L898 753L902 753L905 756L905 757L895 757Z"/>
<path class="m" d="M895 757L898 754L902 754L905 757L905 766L895 766Z"/>
<path class="f" d="M895 766L898 763L902 763L905 766L905 772L895 772Z"/>
<path class="m" d="M895 772L898 769L902 769L905 772L905 784L895 784Z"/>
<path class="f" d="M895 784L898 781L902 781L905 784L905 786L895 786Z"/>
<path class="m" d="M895 786L898 783L902 783L905 786L905 828L895 828Z"/>
<path class="f" d="M895 828L898 825L902 825L905 828L905 836L902 839L898 839L895 836Z"/>
<path class="f" d="M898 650h4l3 3v4l-3 3h-4l-3-3v-4z"/>
<path class="m" d="M909 673h4l3 3v4l-3 3h-4l-3-3v-4z"/><path class="m" d="M909 680h4l3 3v4l-3 3h-4l-3-3v-4z"/><path class="m" d="M909 683h4l3 3v4l-3 3h-4l-3-3v-4z"/>
<path class="f" d="M906 699L909 696L913 696L916 699L916 701L906 701Z"/>
<path class="m" d="M906 701L909 698L913 698L916 701L916 709L906 709Z"/>
<path class="f" d="M906 709L909 706L913 706L916 709L916 715L906 715Z"/>
<path class="m" d="M906 715L909 712L913 712L916 715L916 720L913 723L909 723L906 720Z"/>
<path class="f" d="M906 733L916 733L916 738L906 738Z"/><path class="f" d="M909 733h4l3 3v4l-3 3h-4l-3-3v-4z"/><path class="f" d="M909 740h4l3 3v4l-3 3h-4l-3-3v-4z"/><path class="f" d="M906 745L916 745L916 754L906 754Z"/>
<path class="m" d="M906 729L909 726L913 726L916 729L916 733L913 736L909 736L906 733Z"/>
<path class="m" d="M906 754L909 751L913 751L916 754L916 783L906 783Z"/>
<path class="f" d="M906 783L909 780L913 780L916 783L916 810L906 810Z"/>
<path class="m" d="M906 810L909 807L913 807L916 810L916 819L906 819Z"/>
<path class="m" d="M906 821L916 821L916 836L913 839L909 839L906 836Z"/>
<path class="f" d="M906 819L909 816L913 816L916 819L916 821L913 824L909 824L906 821Z"/>
<path class="f" d="M909 645h4l3 3v4l-3 3h-4l-3-3v-4z"/>
<path class="m" d="M917 687L920 684L924 684L927 687L927 697L917 697Z"/>
<path class="f" d="M917 697L920 694L924 694L927 697L927 701L924 704L920 704L917 701Z"/>
<path class="m" d="M920 707h4l3 3v4l-3 3h-4l-3-3v-4z"/><path class="m" d="M920 714h4l3 3v4l-3 3h-4l-3-3v-4z"/><path class="m" d="M920 717h4l3 3v4l-3 3h-4l-3-3v-4z"/>
<path class="m" d="M917 735L920 732L924 732L927 735L927 745L917 745Z"/>
<path class="f" d="M917 745L920 742L924 742L927 745L927 747L917 747Z"/>
<path class="m" d="M917 747L920 744L924 744L927 747L927 749L917 749Z"/>
<path class="f" d="M917 749L920 746L924 746L927 749L927 752L917 752Z"/>
<path class="m" d="M917 752L920 749L924 749L927 752L927 754L917 754Z"/>
<path class="f" d="M917 754L920 751L924 751L927 754L927 757L917 757Z"/>
<path class="m" d="M917 757L920 754L924 754L927 757L927 765L917 765Z"/>
<path class="f" d="M917 765L920 762L924 762L927 765L927 770L917 770Z"/>
<path class="m" d="M917 770L920 767L924 767L927 770L927 780L917 780Z"/>
<path class="f" d="M917 780L920 777L924 777L927 780L927 787L917 787Z"/>
<path class="m" d="M917 787L920 784L924 784L927 787L927 793L917 793Z"/>
<path class="f" d="M917 793L920 790L924 790L927 793L927 800L917 800Z"/>
<path class="m" d="M917 800L920 797L924 797L927 800L927 802L917 802Z"/>
<path class="f" d="M917 802L920 799L924 799L927 802L927 803L917 803Z"/>
<path class="f" d="M917 808L927 808L927 836L924 839L920 839L917 836Z"/>
<path class="m" d="M917 803L920 800L924 800L927 803L927 808L924 811L920 811L917 808Z"/>
<path class="m" d="M920 660h4l3 3v4l-3 3h-4l-3-3v-4z"/>
<path class="f" d="M931 713h4l3 3v4l-3 3h-4l-3-3v-4z"/>
<path class="m" d="M928 711L931 708L935 708L938 711L938 714L935 717L931 717L928 714Z"/>
<path class="m" d="M928 735L931 732L935 732L938 735L938 743L928 743Z"/>
<path class="f" d="M928 743L931 740L935 740L938 743L938 751L928 751Z"/>
<path class="m" d="M928 751L931 748L935 748L938 751L938 756L928 756Z"/>
<path class="m" d="M928 763L938 763L938 806L928 806Z"/>
<path class="f" d="M928 756L931 753L935 753L938 756L938 763L935 766L931 766L928 763Z"/>
<path class="f" d="M928 806L931 803L935 803L938 806L938 816L928 816Z"/>
<path class="m" d="M928 816L931 813L935 813L938 816L938 827L928 827Z"/>
<path class="f" d="M928 827L931 824L935 824L938 827L938 830L928 830Z"/>
<path class="m" d="M928 830L931 827L935 827L938 830L938 833L928 833Z"/>
<path class="f" d="M928 833L931 830L935 830L938 833L938 836L935 839L931 839L928 836Z"/>
<path class="m" d="M931 684h4l3 3v4l-3 3h-4l-3-3v-4z"/>
<path class="m" d="M939 682L942 679L946 679L949 682L949 690L946 693L942 693L939 690Z"/>
<path class="f" d="M939 739L949 739L949 744L939 744Z"/><path class="f" d="M942 739h4l3 3v4l-3 3h-4l-3-3v-4z"/><path class="f" d="M939 744L949 744L949 755L939 755Z"/>
<path class="m" d="M939 735L942 732L946 732L949 735L949 739L946 742L942 742L939 739Z"/>
<path class="m" d="M939 755L942 752L946 752L949 755L949 761L939 761Z"/>
<path class="m" d="M939 765L949 765L949 783L939 783Z"/>
<path class="f" d="M939 761L942 758L946 758L949 761L949 765L946 768L942 768L939 765Z"/>
<path class="f" d="M939 783L942 780L946 780L949 783L949 792L939 792Z"/>
<path class="f" d="M939 794L949 794L949 826L939 826Z"/>
<path class="m" d="M939 792L942 789L946 789L949 792L949 794L946 797L942 797L939 794Z"/>
<path class="m" d="M939 826L942 823L946 823L949 826L949 830L939 830Z"/>
<path class="f" d="M939 830L942 827L946 827L949 830L949 836L946 839L942 839L939 836Z"/>
<path class="m" d="M953 698h4l3 3v4l-3 3h-4l-3-3v-4z"/><path class="m" d="M953 705h4l3 3v4l-3 3h-4l-3-3v-4z"/><path class="m" d="M953 713h4l3 3v4l-3 3h-4l-3-3v-4z"/><path class="m" d="M953 720h4l3 3v4l-3 3h-4l-3-3v-4z"/><path class="m" d="M953 727h4l3 3v4l-3 3h-4l-3-3v-4z"/><path class="m" d="M953 735h4l3 3v4l-3 3h-4l-3-3v-4z"/><path class="m" d="M953 742h4l3 3v4l-3 3h-4l-3-3v-4z"/><path class="m" d="M950 747L960 747L960 791L950 791Z"/>
<path class="f" d="M950 791L953 788L957 788L960 791L960 804L950 804Z"/>
<path class="m" d="M950 804L953 801L957 801L960 804L960 805L950 805Z"/>
<path class="f" d="M950 805L953 802L957 802L960 805L960 811L950 811Z"/>
<path class="m" d="M950 811L953 808L957 808L960 811L960 820L950 820Z"/>
<path class="f" d="M950 820L953 817L957 817L960 820L960 826L950 826Z"/>
<path class="m" d="M950 826L953 823L957 823L960 826L960 831L950 831Z"/>
<path class="f" d="M950 831L953 828L957 828L960 831L960 836L957 839L953 839L950 836Z"/>
<path class="m" d="M953 660h4l3 3v4l-3 3h-4l-3-3v-4z"/>
<path class="m" d="M961 706L971 706L971 711L961 711Z"/><path class="m" d="M964 706h4l3 3v4l-3 3h-4l-3-3v-4z"/><path class="m" d="M964 713h4l3 3v4l-3 3h-4l-3-3v-4z"/><path class="m" d="M964 718h4l3 3v4l-3 3h-4l-3-3v-4z"/>
<path class="f" d="M961 704L964 701L968 701L971 704L971 706L968 709L964 709L961 706Z"/>
<path class="f" d="M961 737L971 737L971 742L961 742Z"/><path class="f" d="M964 737h4l3 3v4l-3 3h-4l-3-3v-4z"/><path class="f" d="M964 744h4l3 3v4l-3 3h-4l-3-3v-4z"/><path class="f" d="M961 749L971 749L971 761L961 761Z"/>
<path class="m" d="M961 735L964 732L968 732L971 735L971 737L968 740L964 740L961 737Z"/>
<path class="f" d="M961 765L971 765L971 782L961 782Z"/>
<path class="m" d="M961 761L964 758L968 758L971 761L971 765L968 768L964 768L961 765Z"/>
<path class="m" d="M961 782L964 779L968 779L971 782L971 799L961 799Z"/>
<path class="m" d="M961 808L971 808L971 831L961 831Z"/>
<path class="f" d="M961 799L964 796L968 796L971 799L971 808L968 811L964 811L961 808Z"/>
<path class="f" d="M961 831L964 828L968 828L971 831L971 836L968 839L964 839L961 836Z"/>
<path class="m" d="M964 674h4l3 3v4l-3 3h-4l-3-3v-4z"/>
<path class="m" d="M975 708h4l3 3v4l-3 3h-4l-3-3v-4z"/><path class="m" d="M975 715h4l3 3v4l-3 3h-4l-3-3v-4z"/><path class="m" d="M972 720L982 720L982 731L972 731Z"/>
<path class="f" d="M972 731L975 728L979 728L982 731L982 734L972 734Z"/>
<path class="m" d="M975 731h4l3 3v4l-3 3h-4l-3-3v-4z"/><path class="m" d="M975 738h4l3 3v4l-3 3h-4l-3-3v-4z"/><path class="m" d="M972 743L982 743L982 796L972 796Z"/>
<path class="f" d="M972 796L975 793L979 793L982 796L982 798L972 798Z"/>
<path class="m" d="M972 798L975 795L979 795L982 798L982 808L972 808Z"/>
<path class="f" d="M972 808L975 805L979 805L982 808L982 811L972 811Z"/>
<path class="m" d="M972 811L975 808L979 808L982 811L982 821L972 821Z"/>
<path class="f" d="M972 821L975 818L979 818L982 821L982 823L972 823Z"/>
<path class="m" d="M972 823L975 820L979 820L982 823L982 836L979 839L975 839L972 836Z"/>
<path class="f" d="M975 691h4l3 3v4l-3 3h-4l-3-3v-4z"/>
<path class="m" d="M986 645h4l3 3v4l-3 3h-4l-3-3v-4z"/><path class="m" d="M986 652h4l3 3v4l-3 3h-4l-3-3v-4z"/><path class="m" d="M986 660h4l3 3v4l-3 3h-4l-3-3v-4z"/>
<path class="m" d="M983 760L986 757L990 757L993 760L993 762L983 762Z"/>
<path class="m" d="M983 768L993 768L993 796L983 796Z"/>
<path class="f" d="M983 762L986 759L990 759L993 762L993 769L990 772L986 772L983 769Z"/>
<path class="f" d="M983 796L986 793L990 793L993 796L993 800L983 800Z"/>
<path class="m" d="M983 800L986 797L990 797L993 800L993 807L983 807Z"/>
<path class="f" d="M983 807L986 804L990 804L993 807L993 814L983 814Z"/>
<path class="m" d="M983 814L986 811L990 811L993 814L993 817L983 817Z"/>
<path class="m" d="M983 822L993 822L993 836L990 839L986 839L983 836Z"/>
<path class="f" d="M983 817L986 814L990 814L993 817L993 822L990 825L986 825L983 822Z"/>
<path class="m" d="M986 684h4l3 3v4l-3 3h-4l-3-3v-4z"/>
<path class="m" d="M986 708h4l3 3v4l-3 3h-4l-3-3v-4z"/>
<path class="f" d="M986 720h4l3 3v4l-3 3h-4l-3-3v-4z"/>
<path class="m" d="M986 732h4l3 3v4l-3 3h-4l-3-3v-4z"/>
<path class="m" d="M997 727h4l3 3v4l-3 3h-4l-3-3v-4z"/><path class="m" d="M994 732L1004 732L1004 743L994 743Z"/>
<path class="f" d="M994 743L997 740L1001 740L1004 743L1004 744L1001 747L997 747L994 744Z"/>
<path class="m" d="M994 754L997 751L1001 751L1004 754L1004 760L994 760Z"/>
<path class="f" d="M994 760L997 757L1001 757L1004 760L1004 762L994 762Z"/>
<path class="m" d="M994 762L997 759L1001 759L1004 762L1004 777L994 777Z"/>
<path class="f" d="M994 777L997 774L1001 774L1004 777L1004 780L994 780Z"/>
<path class="m" d="M994 780L997 777L1001 777L1004 780L1004 794L994 794Z"/>
<path class="f" d="M994 794L997 791L1001 791L1004 794L1004 804L994 804Z"/>
<path class="m" d="M994 804L997 801L1001 801L1004 804L1004 809L994 809Z"/>
<path class="m" d="M994 818L1004 818L1004 836L1001 839L997 839L994 836Z"/>
<path class="f" d="M994 809L997 806L1001 806L1004 809L1004 818L1001 821L997 821L994 818Z"/>
<path class="f" d="M997 684h4l3 3v4l-3 3h-4l-3-3v-4z"/>
<path class="m" d="M997 708h4l3 3v4l-3 3h-4l-3-3v-4z"/>
<path class="m" d="M1005 755L1008 752L1012 752L1015 755L1015 791L1005 791Z"/>
<path class="f" d="M1005 791L1008 788L1012 788L1015 791L1015 811L1005 811Z"/>
<path class="f" d="M1005 818L1015 818L1015 836L1012 839L1008 839L1005 836Z"/>
<path class="m" d="M1005 811L1008 808L1012 808L1015 811L1015 818L1012 821L1008 821L1005 818Z"/>
<path class="f" d="M1008 708h4l3 3v4l-3 3h-4l-3-3v-4z"/>
<path class="m" d="M1008 732h4l3 3v4l-3 3h-4l-3-3v-4z"/>
<path class="f" d="M1017 760L1027 760L1027 781L1017 781Z"/>
<path class="m" d="M1017 755L1020 752L1024 752L1027 755L1027 760L1024 763L1020 763L1017 760Z"/>
<path class="m" d="M1017 781L1020 778L1024 778L1027 781L1027 793L1017 793Z"/>
<path class="f" d="M1017 793L1020 790L1024 790L1027 793L1027 802L1017 802Z"/>
<path class="f" d="M1017 808L1027 808L1027 831L1017 831Z"/>
<path class="m" d="M1017 802L1020 799L1024 799L1027 802L1027 808L1024 811L1020 811L1017 808Z"/>
<path class="m" d="M1017 831L1020 828L1024 828L1027 831L1027 836L1024 839L1020 839L1017 836Z"/>
<path class="f" d="M1020 684h4l3 3v4l-3 3h-4l-3-3v-4z"/>
<path class="m" d="M1020 694h4l3 3v4l-3 3h-4l-3-3v-4z"/>
<path class="m" d="M1020 706h4l3 3v4l-3 3h-4l-3-3v-4z"/>
<path class="m" d="M1020 720h4l3 3v4l-3 3h-4l-3-3v-4z"/>
<path class="m" d="M1020 732h4l3 3v4l-3 3h-4l-3-3v-4z"/>
<path class="m" d="M1028 760L1031 757L1035 757L1038 760L1038 773L1028 773Z"/>
<path class="f" d="M1028 773L1031 770L1035 770L1038 773L1038 784L1028 784Z"/>
<path class="m" d="M1028 784L1031 781L1035 781L1038 784L1038 786L1028 786Z"/>
<path class="m" d="M1028 793L1038 793L1038 831L1028 831Z"/>
<path class="f" d="M1028 786L1031 783L1035 783L1038 786L1038 793L1035 796L1031 796L1028 793Z"/>
<path class="f" d="M1028 831L1031 828L1035 828L1038 831L1038 836L1035 839L1031 839L1028 836Z"/>
<path class="m" d="M1031 732h4l3 3v4l-3 3h-4l-3-3v-4z"/>
<path class="f" d="M1042 732h4l3 3v4l-3 3h-4l-3-3v-4z"/><path class="f" d="M1042 738h4l3 3v4l-3 3h-4l-3-3v-4z"/>
<path class="m" d="M1039 762L1042 759L1046 759L1049 762L1049 773L1039 773Z"/>
<path class="m" d="M1039 779L1049 779L1049 802L1039 802Z"/>
<path class="f" d="M1039 773L1042 770L1046 770L1049 773L1049 779L1046 782L1042 782L1039 779Z"/>
<path class="f" d="M1039 802L1042 799L1046 799L1049 802L1049 811L1039 811Z"/>
<path class="f" d="M1039 818L1049 818L1049 836L1046 839L1042 839L1039 836Z"/>
<path class="m" d="M1039 811L1042 808L1046 808L1049 811L1049 818L1046 821L1042 821L1039 818Z"/>
<path class="m" d="M1042 708h4l3 3v4l-3 3h-4l-3-3v-4z"/>
<path class="m" d="M1050 784L1053 781L1057 781L1060 784L1060 804L1050 804Z"/>
<path class="f" d="M1050 804L1053 801L1057 801L1060 804L1060 824L1050 824Z"/>
<path class="m" d="M1050 824L1053 821L1057 821L1060 824L1060 831L1050 831Z"/>
<path class="f" d="M1050 831L1053 828L1057 828L1060 831L1060 836L1057 839L1053 839L1050 836Z"/>
<path class="f" d="M1053 684h4l3 3v4l-3 3h-4l-3-3v-4z"/>
<path class="f" d="M1053 732h4l3 3v4l-3 3h-4l-3-3v-4z"/>
<path class="m" d="M1053 754h4l3 3v4l-3 3h-4l-3-3v-4z"/>
<path class="f" d="M1053 757h4l3 3v4l-3 3h-4l-3-3v-4z"/>
<path class="m" d="M1061 789L1064 786L1068 786L1071 789L1071 827L1061 827Z"/>
<path class="f" d="M1061 827L1064 824L1068 824L1071 827L1071 830L1061 830Z"/>
<path class="m" d="M1061 830L1064 827L1068 827L1071 830L1071 832L1061 832Z"/>
<path class="f" d="M1061 832L1064 829L1068 829L1071 832L1071 836L1068 839L1064 839L1061 836Z"/>
<path class="m" d="M1064 732h4l3 3v4l-3 3h-4l-3-3v-4z"/>
<path class="m" d="M1064 752h4l3 3v4l-3 3h-4l-3-3v-4z"/>
<path class="m" d="M1064 771h4l3 3v4l-3 3h-4l-3-3v-4z"/>
<path class="m" d="M1072 796L1075 793L1079 793L1082 796L1082 814L1072 814Z"/>
<path class="f" d="M1072 814L1075 811L1079 811L1082 814L1082 831L1072 831Z"/>
<path class="m" d="M1072 831L1075 828L1079 828L1082 831L1082 836L1079 839L1075 839L1072 836Z"/>
<path class="m" d="M1075 708h4l3 3v4l-3 3h-4l-3-3v-4z"/>
<path class="f" d="M1075 781h4l3 3v4l-3 3h-4l-3-3v-4z"/>
<path class="m" d="M1083 755L1086 752L1090 752L1093 755L1093 770L1083 770Z"/>
<path class="f" d="M1083 770L1086 767L1090 767L1093 770L1093 773L1083 773Z"/>
<path class="m" d="M1083 773L1086 770L1090 770L1093 773L1093 775L1083 775Z"/>
<path class="m" d="M1083 779L1093 779L1093 805L1083 805Z"/>
<path class="f" d="M1083 775L1086 772L1090 772L1093 775L1093 779L1090 782L1086 782L1083 779Z"/>
<path class="f" d="M1083 805L1086 802L1090 802L1093 805L1093 814L1083 814Z"/>
<path class="m" d="M1083 814L1086 811L1090 811L1093 814L1093 820L1083 820Z"/>
<path class="f" d="M1083 820L1086 817L1090 817L1093 820L1093 827L1083 827Z"/>
<path class="m" d="M1083 827L1086 824L1090 824L1093 827L1093 836L1090 839L1086 839L1083 836Z"/>
<path class="m" d="M1086 655h4l3 3v4l-3 3h-4l-3-3v-4z"/>
<path class="m" d="M1086 691h4l3 3v4l-3 3h-4l-3-3v-4z"/>
<path class="m" d="M1086 708h4l3 3v4l-3 3h-4l-3-3v-4z"/>
<path class="m" d="M1086 732h4l3 3v4l-3 3h-4l-3-3v-4z"/>
<path class="f" d="M1086 725h4l3 3v4l-3 3h-4l-3-3v-4z"/>
<path class="m" d="M1139 755L1142 752L1146 752L1149 755L1149 760L1139 760Z"/>
<path class="f" d="M1139 761L1142 758L1146 758L1149 761L1149 764L1139 764Z"/>
<path class="m" d="M1139 764L1142 761L1146 761L1149 764L1149 773L1139 773Z"/>
<path class="f" d="M1139 773L1142 770L1146 770L1149 773L1149 775L1139 775Z"/>
<path class="m" d="M1139 775L1142 772L1146 772L1149 775L1149 811L1139 811Z"/>
<path class="f" d="M1139 811L1142 808L1146 808L1149 811L1149 816L1139 816Z"/>
<path class="f" d="M1139 821L1149 821L1149 836L1146 839L1142 839L1139 836Z"/>
<path class="m" d="M1139 816L1142 813L1146 813L1149 816L1149 821L1146 824L1142 824L1139 821Z"/>
<path class="f" d="M1142 742h4l3 3v4l-3 3h-4l-3-3v-4z"/>
</g>
<g shape-rendering="crispEdges">
<path class="m" d="M809 48h4l3 3v4l-3 3h-4l-3-3v-4z"/>
<path class="m" d="M443 160h4l3 3v4l-3 3h-4l-3-3v-4z"/>
<path class="f" d="M498 296h4l3 3v4l-3 3h-4l-3-3v-4z"/>
<path class="f" d="M509 296h4l3 3v4l-3 3h-4l-3-3v-4z"/>
<path class="f" d="M531 296h4l3 3v4l-3 3h-4l-3-3v-4z"/>
<path class="f" d="M598 296h4l3 3v4l-3 3h-4l-3-3v-4z"/>
<path class="f" d="M609 296h4l3 3v4l-3 3h-4l-3-3v-4z"/>
<path class="f" d="M687 296h4l3 3v4l-3 3h-4l-3-3v-4z"/>
<path class="f" d="M764 296h4l3 3v4l-3 3h-4l-3-3v-4z"/>
<path class="f" d="M1053 296h4l3 3v4l-3 3h-4l-3-3v-4z"/>
<path class="m" d="M454 296h4l3 3v4l-3 3h-4l-3-3v-4z"/>
<path class="m" d="M465 296h4l3 3v4l-3 3h-4l-3-3v-4z"/>
<path class="m" d="M476 296h4l3 3v4l-3 3h-4l-3-3v-4z"/>
<path class="m" d="M520 296h4l3 3v4l-3 3h-4l-3-3v-4z"/>
<path class="m" d="M543 296h4l3 3v4l-3 3h-4l-3-3v-4z"/>
<path class="m" d="M554 296h4l3 3v4l-3 3h-4l-3-3v-4z"/>
<path class="m" d="M565 296h4l3 3v4l-3 3h-4l-3-3v-4z"/>
<path class="m" d="M620 296h4l3 3v4l-3 3h-4l-3-3v-4z"/>
<path class="m" d="M631 296h4l3 3v4l-3 3h-4l-3-3v-4z"/>
<path class="m" d="M642 296h4l3 3v4l-3 3h-4l-3-3v-4z"/>
<path class="m" d="M654 296h4l3 3v4l-3 3h-4l-3-3v-4z"/>
<path class="m" d="M665 296h4l3 3v4l-3 3h-4l-3-3v-4z"/>
<path class="m" d="M676 296h4l3 3v4l-3 3h-4l-3-3v-4z"/>
<path class="m" d="M698 296h4l3 3v4l-3 3h-4l-3-3v-4z"/>
<path class="m" d="M720 296h4l3 3v4l-3 3h-4l-3-3v-4z"/>
<path class="m" d="M731 296h4l3 3v4l-3 3h-4l-3-3v-4z"/>
<path class="m" d="M742 296h4l3 3v4l-3 3h-4l-3-3v-4z"/>
<path class="m" d="M753 296h4l3 3v4l-3 3h-4l-3-3v-4z"/>
<path class="m" d="M787 296h4l3 3v4l-3 3h-4l-3-3v-4z"/>
<path class="m" d="M798 296h4l3 3v4l-3 3h-4l-3-3v-4z"/>
<path class="m" d="M809 296h4l3 3v4l-3 3h-4l-3-3v-4z"/>
<path class="m" d="M820 296h4l3 3v4l-3 3h-4l-3-3v-4z"/>
<path class="m" d="M831 296h4l3 3v4l-3 3h-4l-3-3v-4z"/>
<path class="m" d="M842 296h4l3 3v4l-3 3h-4l-3-3v-4z"/>
<path class="m" d="M853 296h4l3 3v4l-3 3h-4l-3-3v-4z"/>
<path class="m" d="M864 296h4l3 3v4l-3 3h-4l-3-3v-4z"/>
<path class="m" d="M875 296h4l3 3v4l-3 3h-4l-3-3v-4z"/>
<path class="m" d="M898 296h4l3 3v4l-3 3h-4l-3-3v-4z"/>
<path class="m" d="M909 296h4l3 3v4l-3 3h-4l-3-3v-4z"/>
<path class="m" d="M931 296h4l3 3v4l-3 3h-4l-3-3v-4z"/>
<path class="m" d="M942 296h4l3 3v4l-3 3h-4l-3-3v-4z"/>
<path class="m" d="M964 296h4l3 3v4l-3 3h-4l-3-3v-4z"/>
<path class="m" d="M975 296h4l3 3v4l-3 3h-4l-3-3v-4z"/>
<path class="m" d="M1008 296h4l3 3v4l-3 3h-4l-3-3v-4z"/>
<path class="m" d="M1075 296h4l3 3v4l-3 3h-4l-3-3v-4z"/>
<path class="m" d="M531 293h4l3 3v4l-3 3h-4l-3-3v-4z"/>
<path class="m" d="M631 308h4l3 3v4l-3 3h-4l-3-3v-4z"/>
<path class="m" d="M687 330h4l3 3v4l-3 3h-4l-3-3v-4z"/>
<path class="m" d="M520 344h4l3 3v4l-3 3h-4l-3-3v-4z"/>
<path class="m" d="M531 344h4l3 3v4l-3 3h-4l-3-3v-4z"/>
<path class="m" d="M543 344h4l3 3v4l-3 3h-4l-3-3v-4z"/>
<path class="m" d="M598 344h4l3 3v4l-3 3h-4l-3-3v-4z"/>
<path class="m" d="M631 344h4l3 3v4l-3 3h-4l-3-3v-4z"/>
<path class="m" d="M642 344h4l3 3v4l-3 3h-4l-3-3v-4z"/>
<path class="m" d="M698 344h4l3 3v4l-3 3h-4l-3-3v-4z"/>
<path class="m" d="M709 344h4l3 3v4l-3 3h-4l-3-3v-4z"/>
<path class="m" d="M720 344h4l3 3v4l-3 3h-4l-3-3v-4z"/>
<path class="m" d="M731 344h4l3 3v4l-3 3h-4l-3-3v-4z"/>
<path class="m" d="M742 344h4l3 3v4l-3 3h-4l-3-3v-4z"/>
<path class="m" d="M798 344h4l3 3v4l-3 3h-4l-3-3v-4z"/>
<path class="m" d="M809 344h4l3 3v4l-3 3h-4l-3-3v-4z"/>
<path class="m" d="M853 344h4l3 3v4l-3 3h-4l-3-3v-4z"/>
<path class="m" d="M875 344h4l3 3v4l-3 3h-4l-3-3v-4z"/>
<path class="m" d="M909 344h4l3 3v4l-3 3h-4l-3-3v-4z"/>
<path class="f" d="M565 344h4l3 3v4l-3 3h-4l-3-3v-4z"/>
<path class="f" d="M654 344h4l3 3v4l-3 3h-4l-3-3v-4z"/>
<path class="f" d="M665 344h4l3 3v4l-3 3h-4l-3-3v-4z"/>
<path class="f" d="M676 344h4l3 3v4l-3 3h-4l-3-3v-4z"/>
<path class="f" d="M687 344h4l3 3v4l-3 3h-4l-3-3v-4z"/>
<path class="f" d="M776 344h4l3 3v4l-3 3h-4l-3-3v-4z"/>
<path class="f" d="M753 354h4l3 3v4l-3 3h-4l-3-3v-4z"/>
<path class="m" d="M931 354h4l3 3v4l-3 3h-4l-3-3v-4z"/>
<path class="m" d="M676 369h4l3 3v4l-3 3h-4l-3-3v-4z"/>
<path class="m" d="M853 369h4l3 3v4l-3 3h-4l-3-3v-4z"/>
<path class="f" d="M676 388h4l3 3v4l-3 3h-4l-3-3v-4z"/>
<path class="m" d="M554 393h4l3 3v4l-3 3h-4l-3-3v-4z"/>
<path class="m" d="M620 393h4l3 3v4l-3 3h-4l-3-3v-4z"/>
<path class="m" d="M709 393h4l3 3v4l-3 3h-4l-3-3v-4z"/>
<path class="m" d="M842 393h4l3 3v4l-3 3h-4l-3-3v-4z"/>
<path class="m" d="M875 393h4l3 3v4l-3 3h-4l-3-3v-4z"/>
<path class="m" d="M909 393h4l3 3v4l-3 3h-4l-3-3v-4z"/>
<path class="m" d="M520 417h4l3 3v4l-3 3h-4l-3-3v-4z"/>
<path class="f" d="M576 417h4l3 3v4l-3 3h-4l-3-3v-4z"/>
<path class="f" d="M509 422h4l3 3v4l-3 3h-4l-3-3v-4z"/>
<path class="f" d="M531 422h4l3 3v4l-3 3h-4l-3-3v-4z"/>
<path class="f" d="M598 427h4l3 3v4l-3 3h-4l-3-3v-4z"/>
<path class="m" d="M798 427h4l3 3v4l-3 3h-4l-3-3v-4z"/>
<path class="f" d="M598 432h4l3 3v4l-3 3h-4l-3-3v-4z"/>
<path class="m" d="M787 432h4l3 3v4l-3 3h-4l-3-3v-4z"/>
<path class="f" d="M898 435h4l3 3v4l-3 3h-4l-3-3v-4z"/>
<path class="m" d="M520 441h4l3 3v4l-3 3h-4l-3-3v-4z"/>
<path class="m" d="M676 441h4l3 3v4l-3 3h-4l-3-3v-4z"/>
<path class="f" d="M587 441h4l3 3v4l-3 3h-4l-3-3v-4z"/>
<path class="f" d="M642 441h4l3 3v4l-3 3h-4l-3-3v-4z"/>
<path class="f" d="M820 441h4l3 3v4l-3 3h-4l-3-3v-4z"/>
<path class="f" d="M853 441h4l3 3v4l-3 3h-4l-3-3v-4z"/>
<path class="f" d="M964 441h4l3 3v4l-3 3h-4l-3-3v-4z"/>
<path class="f" d="M509 446h4l3 3v4l-3 3h-4l-3-3v-4z"/>
<path class="f" d="M831 446h4l3 3v4l-3 3h-4l-3-3v-4z"/>
<path class="f" d="M576 451h4l3 3v4l-3 3h-4l-3-3v-4z"/>
<path class="f" d="M654 451h4l3 3v4l-3 3h-4l-3-3v-4z"/>
<path class="m" d="M587 451h4l3 3v4l-3 3h-4l-3-3v-4z"/>
<path class="f" d="M654 468h4l3 3v4l-3 3h-4l-3-3v-4z"/>
<path class="f" d="M554 466h4l3 3v4l-3 3h-4l-3-3v-4z"/>
<path class="f" d="M676 466h4l3 3v4l-3 3h-4l-3-3v-4z"/>
<path class="m" d="M654 466h4l3 3v4l-3 3h-4l-3-3v-4z"/>
<path class="m" d="M709 466h4l3 3v4l-3 3h-4l-3-3v-4z"/>
<path class="m" d="M787 466h4l3 3v4l-3 3h-4l-3-3v-4z"/>
<path class="m" d="M820 466h4l3 3v4l-3 3h-4l-3-3v-4z"/>
<path class="m" d="M853 466h4l3 3v4l-3 3h-4l-3-3v-4z"/>
<path class="m" d="M942 466h4l3 3v4l-3 3h-4l-3-3v-4z"/>
<path class="m" d="M986 466h4l3 3v4l-3 3h-4l-3-3v-4z"/>
<path class="m" d="M631 475h4l3 3v4l-3 3h-4l-3-3v-4z"/>
<path class="m" d="M753 475h4l3 3v4l-3 3h-4l-3-3v-4z"/>
<path class="m" d="M809 475h4l3 3v4l-3 3h-4l-3-3v-4z"/>
<path class="f" d="M698 475h4l3 3v4l-3 3h-4l-3-3v-4z"/>
<path class="f" d="M831 475h4l3 3v4l-3 3h-4l-3-3v-4z"/>
<path class="f" d="M942 475h4l3 3v4l-3 3h-4l-3-3v-4z"/>
<path class="f" d="M654 480h4l3 3v4l-3 3h-4l-3-3v-4z"/>
<path class="f" d="M886 480h4l3 3v4l-3 3h-4l-3-3v-4z"/>
<path class="m" d="M731 480h4l3 3v4l-3 3h-4l-3-3v-4z"/>
<path class="m" d="M776 480h4l3 3v4l-3 3h-4l-3-3v-4z"/>
<path class="m" d="M875 480h4l3 3v4l-3 3h-4l-3-3v-4z"/>
<path class="m" d="M898 480h4l3 3v4l-3 3h-4l-3-3v-4z"/>
<path class="f" d="M509 490h4l3 3v4l-3 3h-4l-3-3v-4z"/>
<path class="f" d="M520 490h4l3 3v4l-3 3h-4l-3-3v-4z"/>
<path class="f" d="M654 490h4l3 3v4l-3 3h-4l-3-3v-4z"/>
<path class="f" d="M687 490h4l3 3v4l-3 3h-4l-3-3v-4z"/>
<path class="f" d="M842 490h4l3 3v4l-3 3h-4l-3-3v-4z"/>
<path class="m" d="M731 490h4l3 3v4l-3 3h-4l-3-3v-4z"/>
<path class="m" d="M820 490h4l3 3v4l-3 3h-4l-3-3v-4z"/>
<path class="m" d="M942 490h4l3 3v4l-3 3h-4l-3-3v-4z"/>
<path class="m" d="M1042 490h4l3 3v4l-3 3h-4l-3-3v-4z"/>
<path class="m" d="M864 495h4l3 3v4l-3 3h-4l-3-3v-4z"/>
<path class="m" d="M898 495h4l3 3v4l-3 3h-4l-3-3v-4z"/>
<path class="f" d="M631 500h4l3 3v4l-3 3h-4l-3-3v-4z"/>
<path class="f" d="M731 500h4l3 3v4l-3 3h-4l-3-3v-4z"/>
<path class="m" d="M809 504h4l3 3v4l-3 3h-4l-3-3v-4z"/>
<path class="m" d="M654 514h4l3 3v4l-3 3h-4l-3-3v-4z"/>
<path class="m" d="M931 514h4l3 3v4l-3 3h-4l-3-3v-4z"/>
<path class="f" d="M631 523h4l3 3v4l-3 3h-4l-3-3v-4z"/>
<path class="f" d="M665 529h4l3 3v4l-3 3h-4l-3-3v-4z"/>
<path class="m" d="M753 529h4l3 3v4l-3 3h-4l-3-3v-4z"/>
<path class="m" d="M831 529h4l3 3v4l-3 3h-4l-3-3v-4z"/>
<path class="m" d="M875 529h4l3 3v4l-3 3h-4l-3-3v-4z"/>
<path class="f" d="M476 538h4l3 3v4l-3 3h-4l-3-3v-4z"/>
<path class="f" d="M554 538h4l3 3v4l-3 3h-4l-3-3v-4z"/>
<path class="f" d="M598 538h4l3 3v4l-3 3h-4l-3-3v-4z"/>
<path class="f" d="M631 538h4l3 3v4l-3 3h-4l-3-3v-4z"/>
<path class="f" d="M731 538h4l3 3v4l-3 3h-4l-3-3v-4z"/>
<path class="f" d="M842 538h4l3 3v4l-3 3h-4l-3-3v-4z"/>
<path class="f" d="M886 538h4l3 3v4l-3 3h-4l-3-3v-4z"/>
<path class="f" d="M942 538h4l3 3v4l-3 3h-4l-3-3v-4z"/>
<path class="m" d="M498 538h4l3 3v4l-3 3h-4l-3-3v-4z"/>
<path class="m" d="M509 538h4l3 3v4l-3 3h-4l-3-3v-4z"/>
<path class="m" d="M587 538h4l3 3v4l-3 3h-4l-3-3v-4z"/>
<path class="m" d="M642 538h4l3 3v4l-3 3h-4l-3-3v-4z"/>
<path class="m" d="M654 538h4l3 3v4l-3 3h-4l-3-3v-4z"/>
<path class="m" d="M698 538h4l3 3v4l-3 3h-4l-3-3v-4z"/>
<path class="m" d="M753 538h4l3 3v4l-3 3h-4l-3-3v-4z"/>
<path class="m" d="M764 538h4l3 3v4l-3 3h-4l-3-3v-4z"/>
<path class="m" d="M776 538h4l3 3v4l-3 3h-4l-3-3v-4z"/>
<path class="m" d="M787 538h4l3 3v4l-3 3h-4l-3-3v-4z"/>
<path class="m" d="M798 538h4l3 3v4l-3 3h-4l-3-3v-4z"/>
<path class="m" d="M809 538h4l3 3v4l-3 3h-4l-3-3v-4z"/>
<path class="m" d="M820 538h4l3 3v4l-3 3h-4l-3-3v-4z"/>
<path class="m" d="M864 538h4l3 3v4l-3 3h-4l-3-3v-4z"/>
<path class="m" d="M875 538h4l3 3v4l-3 3h-4l-3-3v-4z"/>
<path class="m" d="M909 538h4l3 3v4l-3 3h-4l-3-3v-4z"/>
<path class="m" d="M1142 538h4l3 3v4l-3 3h-4l-3-3v-4z"/>
<path class="m" d="M898 548h4l3 3v4l-3 3h-4l-3-3v-4z"/>
<path class="m" d="M654 553h4l3 3v4l-3 3h-4l-3-3v-4z"/>
<path class="m" d="M576 558h4l3 3v4l-3 3h-4l-3-3v-4z"/>
<path class="m" d="M764 558h4l3 3v4l-3 3h-4l-3-3v-4z"/>
<path class="m" d="M776 558h4l3 3v4l-3 3h-4l-3-3v-4z"/>
<path class="f" d="M809 558h4l3 3v4l-3 3h-4l-3-3v-4z"/>
<path class="f" d="M853 558h4l3 3v4l-3 3h-4l-3-3v-4z"/>
<path class="f" d="M920 558h4l3 3v4l-3 3h-4l-3-3v-4z"/>
<path class="f" d="M432 567h4l3 3v4l-3 3h-4l-3-3v-4z"/>
<path class="f" d="M476 567h4l3 3v4l-3 3h-4l-3-3v-4z"/>
<path class="f" d="M798 567h4l3 3v4l-3 3h-4l-3-3v-4z"/>
<path class="m" d="M698 567h4l3 3v4l-3 3h-4l-3-3v-4z"/>
<path class="m" d="M787 567h4l3 3v4l-3 3h-4l-3-3v-4z"/>
<path class="m" d="M831 567h4l3 3v4l-3 3h-4l-3-3v-4z"/>
<path class="m" d="M886 567h4l3 3v4l-3 3h-4l-3-3v-4z"/>
<path class="f" d="M465 563h4l3 3v4l-3 3h-4l-3-3v-4z"/>
<path class="m" d="M531 563h4l3 3v4l-3 3h-4l-3-3v-4z"/>
<path class="m" d="M620 563h4l3 3v4l-3 3h-4l-3-3v-4z"/>
<path class="m" d="M631 563h4l3 3v4l-3 3h-4l-3-3v-4z"/>
<path class="m" d="M698 563h4l3 3v4l-3 3h-4l-3-3v-4z"/>
<path class="m" d="M720 563h4l3 3v4l-3 3h-4l-3-3v-4z"/>
<path class="m" d="M798 563h4l3 3v4l-3 3h-4l-3-3v-4z"/>
<path class="m" d="M942 563h4l3 3v4l-3 3h-4l-3-3v-4z"/>
<path class="m" d="M1086 563h4l3 3v4l-3 3h-4l-3-3v-4z"/>
<path class="m" d="M776 570h4l3 3v4l-3 3h-4l-3-3v-4z"/>
<path class="m" d="M720 572h4l3 3v4l-3 3h-4l-3-3v-4z"/>
<path class="m" d="M642 577h4l3 3v4l-3 3h-4l-3-3v-4z"/>
<path class="m" d="M909 577h4l3 3v4l-3 3h-4l-3-3v-4z"/>
<path class="f" d="M654 582h4l3 3v4l-3 3h-4l-3-3v-4z"/>
<path class="f" d="M809 582h4l3 3v4l-3 3h-4l-3-3v-4z"/>
<path class="f" d="M875 582h4l3 3v4l-3 3h-4l-3-3v-4z"/>
<path class="f" d="M642 587h4l3 3v4l-3 3h-4l-3-3v-4z"/>
<path class="f" d="M764 587h4l3 3v4l-3 3h-4l-3-3v-4z"/>
<path class="f" d="M842 587h4l3 3v4l-3 3h-4l-3-3v-4z"/>
<path class="m" d="M576 587h4l3 3v4l-3 3h-4l-3-3v-4z"/>
<path class="m" d="M587 587h4l3 3v4l-3 3h-4l-3-3v-4z"/>
<path class="m" d="M620 587h4l3 3v4l-3 3h-4l-3-3v-4z"/>
<path class="m" d="M631 587h4l3 3v4l-3 3h-4l-3-3v-4z"/>
<path class="m" d="M654 587h4l3 3v4l-3 3h-4l-3-3v-4z"/>
<path class="m" d="M665 587h4l3 3v4l-3 3h-4l-3-3v-4z"/>
<path class="m" d="M687 587h4l3 3v4l-3 3h-4l-3-3v-4z"/>
<path class="m" d="M698 587h4l3 3v4l-3 3h-4l-3-3v-4z"/>
<path class="m" d="M720 587h4l3 3v4l-3 3h-4l-3-3v-4z"/>
<path class="m" d="M742 587h4l3 3v4l-3 3h-4l-3-3v-4z"/>
<path class="m" d="M753 587h4l3 3v4l-3 3h-4l-3-3v-4z"/>
<path class="m" d="M776 587h4l3 3v4l-3 3h-4l-3-3v-4z"/>
<path class="m" d="M798 587h4l3 3v4l-3 3h-4l-3-3v-4z"/>
<path class="m" d="M809 587h4l3 3v4l-3 3h-4l-3-3v-4z"/>
<path class="m" d="M820 587h4l3 3v4l-3 3h-4l-3-3v-4z"/>
<path class="m" d="M853 587h4l3 3v4l-3 3h-4l-3-3v-4z"/>
<path class="m" d="M864 587h4l3 3v4l-3 3h-4l-3-3v-4z"/>
<path class="m" d="M875 587h4l3 3v4l-3 3h-4l-3-3v-4z"/>
<path class="m" d="M886 587h4l3 3v4l-3 3h-4l-3-3v-4z"/>
<path class="m" d="M898 587h4l3 3v4l-3 3h-4l-3-3v-4z"/>
<path class="m" d="M909 587h4l3 3v4l-3 3h-4l-3-3v-4z"/>
<path class="m" d="M931 587h4l3 3v4l-3 3h-4l-3-3v-4z"/>
<path class="m" d="M997 587h4l3 3v4l-3 3h-4l-3-3v-4z"/>
<path class="m" d="M1075 587h4l3 3v4l-3 3h-4l-3-3v-4z"/>
<path class="m" d="M576 592h4l3 3v4l-3 3h-4l-3-3v-4z"/>
<path class="m" d="M831 592h4l3 3v4l-3 3h-4l-3-3v-4z"/>
<path class="f" d="M798 597h4l3 3v4l-3 3h-4l-3-3v-4z"/>
<path class="m" d="M520 597h4l3 3v4l-3 3h-4l-3-3v-4z"/>
<path class="m" d="M631 597h4l3 3v4l-3 3h-4l-3-3v-4z"/>
<path class="m" d="M642 597h4l3 3v4l-3 3h-4l-3-3v-4z"/>
<path class="m" d="M687 597h4l3 3v4l-3 3h-4l-3-3v-4z"/>
<path class="m" d="M809 597h4l3 3v4l-3 3h-4l-3-3v-4z"/>
<path class="m" d="M853 597h4l3 3v4l-3 3h-4l-3-3v-4z"/>
<path class="m" d="M886 597h4l3 3v4l-3 3h-4l-3-3v-4z"/>
<path class="m" d="M898 597h4l3 3v4l-3 3h-4l-3-3v-4z"/>
<path class="m" d="M942 597h4l3 3v4l-3 3h-4l-3-3v-4z"/>
<path class="m" d="M720 601h4l3 3v4l-3 3h-4l-3-3v-4z"/>
<path class="m" d="M742 601h4l3 3v4l-3 3h-4l-3-3v-4z"/>
<path class="m" d="M565 606h4l3 3v4l-3 3h-4l-3-3v-4z"/>
<path class="m" d="M709 606h4l3 3v4l-3 3h-4l-3-3v-4z"/>
<path class="m" d="M720 614h4l3 3v4l-3 3h-4l-3-3v-4z"/>
<path class="m" d="M554 611h4l3 3v4l-3 3h-4l-3-3v-4z"/>
<path class="m" d="M565 611h4l3 3v4l-3 3h-4l-3-3v-4z"/>
<path class="m" d="M676 611h4l3 3v4l-3 3h-4l-3-3v-4z"/>
<path class="m" d="M731 611h4l3 3v4l-3 3h-4l-3-3v-4z"/>
<path class="m" d="M742 611h4l3 3v4l-3 3h-4l-3-3v-4z"/>
<path class="m" d="M753 611h4l3 3v4l-3 3h-4l-3-3v-4z"/>
<path class="m" d="M764 611h4l3 3v4l-3 3h-4l-3-3v-4z"/>
<path class="m" d="M831 611h4l3 3v4l-3 3h-4l-3-3v-4z"/>
<path class="m" d="M842 611h4l3 3v4l-3 3h-4l-3-3v-4z"/>
<path class="m" d="M942 611h4l3 3v4l-3 3h-4l-3-3v-4z"/>
<path class="m" d="M964 611h4l3 3v4l-3 3h-4l-3-3v-4z"/>
<path class="f" d="M642 611h4l3 3v4l-3 3h-4l-3-3v-4z"/>
<path class="f" d="M654 611h4l3 3v4l-3 3h-4l-3-3v-4z"/>
<path class="f" d="M720 611h4l3 3v4l-3 3h-4l-3-3v-4z"/>
<path class="f" d="M853 611h4l3 3v4l-3 3h-4l-3-3v-4z"/>
<path class="f" d="M875 611h4l3 3v4l-3 3h-4l-3-3v-4z"/>
<path class="f" d="M997 611h4l3 3v4l-3 3h-4l-3-3v-4z"/>
<path class="f" d="M787 621h4l3 3v4l-3 3h-4l-3-3v-4z"/>
<path class="f" d="M942 620h4l3 3v4l-3 3h-4l-3-3v-4z"/>
<path class="f" d="M709 616h4l3 3v4l-3 3h-4l-3-3v-4z"/>
<path class="m" d="M776 616h4l3 3v4l-3 3h-4l-3-3v-4z"/>
<path class="m" d="M787 616h4l3 3v4l-3 3h-4l-3-3v-4z"/>
<path class="m" d="M898 616h4l3 3v4l-3 3h-4l-3-3v-4z"/>
<path class="m" d="M565 621h4l3 3v4l-3 3h-4l-3-3v-4z"/>
<path class="m" d="M753 621h4l3 3v4l-3 3h-4l-3-3v-4z"/>
<path class="m" d="M764 621h4l3 3v4l-3 3h-4l-3-3v-4z"/>
<path class="m" d="M798 621h4l3 3v4l-3 3h-4l-3-3v-4z"/>
<path class="m" d="M886 621h4l3 3v4l-3 3h-4l-3-3v-4z"/>
<path class="m" d="M1064 621h4l3 3v4l-3 3h-4l-3-3v-4z"/>
<path class="f" d="M609 621h4l3 3v4l-3 3h-4l-3-3v-4z"/>
<path class="m" d="M587 626h4l3 3v4l-3 3h-4l-3-3v-4z"/>
<path class="m" d="M654 626h4l3 3v4l-3 3h-4l-3-3v-4z"/>
<path class="m" d="M709 626h4l3 3v4l-3 3h-4l-3-3v-4z"/>
<path class="m" d="M742 626h4l3 3v4l-3 3h-4l-3-3v-4z"/>
<path class="m" d="M809 626h4l3 3v4l-3 3h-4l-3-3v-4z"/>
<path class="m" d="M942 626h4l3 3v4l-3 3h-4l-3-3v-4z"/>
<path class="m" d="M953 626h4l3 3v4l-3 3h-4l-3-3v-4z"/>
<path class="m" d="M986 626h4l3 3v4l-3 3h-4l-3-3v-4z"/>
<path class="m" d="M409 631h4l3 3v4l-3 3h-4l-3-3v-4z"/>
<path class="m" d="M620 631h4l3 3v4l-3 3h-4l-3-3v-4z"/>
<path class="m" d="M676 631h4l3 3v4l-3 3h-4l-3-3v-4z"/>
<path class="m" d="M776 631h4l3 3v4l-3 3h-4l-3-3v-4z"/>
<path class="f" d="M498 635h4l3 3v4l-3 3h-4l-3-3v-4z"/>
<path class="f" d="M598 635h4l3 3v4l-3 3h-4l-3-3v-4z"/>
<path class="f" d="M665 635h4l3 3v4l-3 3h-4l-3-3v-4z"/>
<path class="f" d="M731 635h4l3 3v4l-3 3h-4l-3-3v-4z"/>
<path class="f" d="M764 635h4l3 3v4l-3 3h-4l-3-3v-4z"/>
<path class="f" d="M831 635h4l3 3v4l-3 3h-4l-3-3v-4z"/>
<path class="m" d="M531 635h4l3 3v4l-3 3h-4l-3-3v-4z"/>
<path class="m" d="M554 635h4l3 3v4l-3 3h-4l-3-3v-4z"/>
<path class="m" d="M565 635h4l3 3v4l-3 3h-4l-3-3v-4z"/>
<path class="m" d="M609 635h4l3 3v4l-3 3h-4l-3-3v-4z"/>
<path class="m" d="M631 635h4l3 3v4l-3 3h-4l-3-3v-4z"/>
<path class="m" d="M642 635h4l3 3v4l-3 3h-4l-3-3v-4z"/>
<path class="m" d="M654 635h4l3 3v4l-3 3h-4l-3-3v-4z"/>
<path class="m" d="M676 635h4l3 3v4l-3 3h-4l-3-3v-4z"/>
<path class="m" d="M687 635h4l3 3v4l-3 3h-4l-3-3v-4z"/>
<path class="m" d="M698 635h4l3 3v4l-3 3h-4l-3-3v-4z"/>
<path class="m" d="M709 635h4l3 3v4l-3 3h-4l-3-3v-4z"/>
<path class="m" d="M720 635h4l3 3v4l-3 3h-4l-3-3v-4z"/>
<path class="m" d="M742 635h4l3 3v4l-3 3h-4l-3-3v-4z"/>
<path class="m" d="M753 635h4l3 3v4l-3 3h-4l-3-3v-4z"/>
<path class="m" d="M776 635h4l3 3v4l-3 3h-4l-3-3v-4z"/>
<path class="m" d="M787 635h4l3 3v4l-3 3h-4l-3-3v-4z"/>
<path class="m" d="M798 635h4l3 3v4l-3 3h-4l-3-3v-4z"/>
<path class="m" d="M820 635h4l3 3v4l-3 3h-4l-3-3v-4z"/>
<path class="m" d="M842 635h4l3 3v4l-3 3h-4l-3-3v-4z"/>
<path class="m" d="M853 635h4l3 3v4l-3 3h-4l-3-3v-4z"/>
<path class="m" d="M875 635h4l3 3v4l-3 3h-4l-3-3v-4z"/>
<path class="m" d="M909 635h4l3 3v4l-3 3h-4l-3-3v-4z"/>
<path class="m" d="M920 635h4l3 3v4l-3 3h-4l-3-3v-4z"/>
<path class="m" d="M942 635h4l3 3v4l-3 3h-4l-3-3v-4z"/>
<path class="m" d="M975 635h4l3 3v4l-3 3h-4l-3-3v-4z"/>
<path class="m" d="M997 635h4l3 3v4l-3 3h-4l-3-3v-4z"/>
<path class="m" d="M831 640h4l3 3v4l-3 3h-4l-3-3v-4z"/>
<path class="m" d="M920 639h4l3 3v4l-3 3h-4l-3-3v-4z"/>
<path class="m" d="M199 829h4l3 3v4l-3 3h-4l-3-3v-4z"/>
<path class="m" d="M210 829h4l3 3v4l-3 3h-4l-3-3v-4z"/>
<path class="m" d="M221 829h4l3 3v4l-3 3h-4l-3-3v-4z"/>
<path class="m" d="M232 829h4l3 3v4l-3 3h-4l-3-3v-4z"/>
<path class="m" d="M243 829h4l3 3v4l-3 3h-4l-3-3v-4z"/>
<path class="m" d="M254 829h4l3 3v4l-3 3h-4l-3-3v-4z"/>
<path class="f" d="M265 829h4l3 3v4l-3 3h-4l-3-3v-4z"/>
<path class="m" d="M276 829h4l3 3v4l-3 3h-4l-3-3v-4z"/>
<path class="m" d="M287 829h4l3 3v4l-3 3h-4l-3-3v-4z"/>
<path class="f" d="M299 829h4l3 3v4l-3 3h-4l-3-3v-4z"/>
<path class="m" d="M310 829h4l3 3v4l-3 3h-4l-3-3v-4z"/>
<path class="m" d="M321 829h4l3 3v4l-3 3h-4l-3-3v-4z"/>
<path class="f" d="M332 829h4l3 3v4l-3 3h-4l-3-3v-4z"/>
<path class="f" d="M343 829h4l3 3v4l-3 3h-4l-3-3v-4z"/>
<path class="f" d="M354 829h4l3 3v4l-3 3h-4l-3-3v-4z"/>
<path class="m" d="M362 811L365 808L369 808L372 811L372 819L362 819Z"/>
<path class="f" d="M362 819L365 816L369 816L372 819L372 831L362 831Z"/>
<path class="m" d="M362 831L365 828L369 828L372 831L372 836L369 839L365 839L362 836Z"/>
<path class="m" d="M365 732h4l3 3v4l-3 3h-4l-3-3v-4z"/>
<path class="m" d="M365 747h4l3 3v4l-3 3h-4l-3-3v-4z"/>
<path class="m" d="M373 808L383 808L383 826L373 826Z"/>
<path class="f" d="M373 803L376 800L380 800L383 803L383 808L380 811L376 811L373 808Z"/>
<path class="f" d="M373 826L376 823L380 823L383 826L383 832L373 832Z"/>
<path class="m" d="M373 832L376 829L380 829L383 832L383 836L380 839L376 839L373 836Z"/>
<path class="m" d="M384 802L387 799L391 799L394 802L394 809L384 809Z"/>
<path class="f" d="M384 809L387 806L391 806L394 809L394 824L384 824Z"/>
<path class="m" d="M384 824L387 821L391 821L394 824L394 826L384 826Z"/>
<path class="f" d="M384 826L387 823L391 823L394 826L394 832L384 832Z"/>
<path class="m" d="M384 832L387 829L391 829L394 832L394 836L391 839L387 839L384 836Z"/>
<path class="m" d="M387 747h4l3 3v4l-3 3h-4l-3-3v-4z"/>
<path class="f" d="M387 740h4l3 3v4l-3 3h-4l-3-3v-4z"/>
<path class="m" d="M395 778L398 775L402 775L405 778L405 792L395 792Z"/>
<path class="f" d="M395 792L398 789L402 789L405 792L405 803L395 803Z"/>
<path class="m" d="M395 803L398 800L402 800L405 803L405 810L395 810Z"/>
<path class="f" d="M395 810L398 807L402 807L405 810L405 820L395 820Z"/>
<path class="m" d="M395 820L398 817L402 817L405 820L405 828L395 828Z"/>
<path class="f" d="M395 828L398 825L402 825L405 828L405 831L395 831Z"/>
<path class="m" d="M395 831L398 828L402 828L405 831L405 836L402 839L398 839L395 836Z"/>
<path class="f" d="M398 708h4l3 3v4l-3 3h-4l-3-3v-4z"/>
<path class="m" d="M406 777L409 774L413 774L416 777L416 784L406 784Z"/>
<path class="m" d="M406 787L416 787L416 809L406 809Z"/>
<path class="f" d="M406 784L409 781L413 781L416 784L416 787L413 790L409 790L406 787Z"/>
<path class="f" d="M406 809L409 806L413 806L416 809L416 833L406 833Z"/>
<path class="m" d="M406 833L409 830L413 830L416 833L416 836L413 839L409 839L406 836Z"/>
<path class="m" d="M409 742h4l3 3v4l-3 3h-4l-3-3v-4z"/>
<path class="m" d="M418 769L421 766L425 766L428 769L428 783L418 783Z"/>
<path class="f" d="M418 783L421 780L425 780L428 783L428 800L418 800Z"/>
<path class="m" d="M418 800L421 797L425 797L428 800L428 815L418 815Z"/>
<path class="f" d="M418 815L421 812L425 812L428 815L428 834L418 834Z"/>
<path class="m" d="M418 834L421 831L425 831L428 834L428 836L425 839L421 839L418 836Z"/>
<path class="m" d="M429 781L432 778L436 778L439 781L439 829L429 829Z"/>
<path class="f" d="M429 829L432 826L436 826L439 829L439 836L436 839L432 839L429 836Z"/>
<path class="f" d="M432 713h4l3 3v4l-3 3h-4l-3-3v-4z"/>
<path class="f" d="M432 718h4l3 3v4l-3 3h-4l-3-3v-4z"/>
<path class="m" d="M432 761h4l3 3v4l-3 3h-4l-3-3v-4z"/>
<path class="m" d="M440 769L443 766L447 766L450 769L450 795L440 795Z"/>
<path class="f" d="M440 795L443 792L447 792L450 795L450 801L440 801Z"/>
<path class="m" d="M440 801L443 798L447 798L450 801L450 808L440 808Z"/>
<path class="f" d="M440 808L443 805L447 805L450 808L450 815L440 815Z"/>
<path class="m" d="M440 815L443 812L447 812L450 815L450 818L440 818Z"/>
<path class="f" d="M440 818L443 815L447 815L450 818L450 820L440 820Z"/>
<path class="m" d="M440 820L443 817L447 817L450 820L450 826L440 826Z"/>
<path class="f" d="M440 826L443 823L447 823L450 826L450 835L440 835Z"/>
<path class="m" d="M440 835L443 832L447 832L450 835L450 836L447 839L443 839L440 836Z"/>
<path class="f" d="M443 718h4l3 3v4l-3 3h-4l-3-3v-4z"/>
<path class="m" d="M443 752h4l3 3v4l-3 3h-4l-3-3v-4z"/>
<path class="m" d="M454 732h4l3 3v4l-3 3h-4l-3-3v-4z"/><path class="m" d="M454 739h4l3 3v4l-3 3h-4l-3-3v-4z"/><path class="m" d="M451 744L461 744L461 773L451 773Z"/>
<path class="f" d="M451 773L454 770L458 770L461 773L461 775L451 775Z"/>
<path class="m" d="M451 775L454 772L458 772L461 775L461 787L451 787Z"/>
<path class="m" d="M451 789L461 789L461 814L451 814Z"/>
<path class="f" d="M451 787L454 784L458 784L461 787L461 789L458 792L454 792L451 789Z"/>
<path class="f" d="M451 814L454 811L458 811L461 814L461 826L451 826Z"/>
<path class="m" d="M451 826L454 823L458 823L461 826L461 831L451 831Z"/>
<path class="f" d="M451 831L454 828L458 828L461 831L461 836L458 839L454 839L451 836Z"/>
<path class="f" d="M465 829h4l3 3v4l-3 3h-4l-3-3v-4z"/>
<path class="m" d="M465 732h4l3 3v4l-3 3h-4l-3-3v-4z"/><path class="m" d="M465 739h4l3 3v4l-3 3h-4l-3-3v-4z"/><path class="m" d="M462 744L472 744L472 763L462 763Z"/>
<path class="f" d="M462 763L465 760L469 760L472 763L472 782L462 782Z"/>
<path class="m" d="M462 782L465 779L469 779L472 782L472 787L462 787Z"/>
<path class="f" d="M462 787L465 784L469 784L472 787L472 792L462 792Z"/>
<path class="m" d="M462 792L465 789L469 789L472 792L472 795L462 795Z"/>
<path class="f" d="M462 795L465 792L469 792L472 795L472 797L462 797Z"/>
<path class="m" d="M462 797L465 794L469 794L472 797L472 805L462 805Z"/>
<path class="m" d="M462 814L472 814L472 834L469 837L465 837L462 834Z"/>
<path class="f" d="M462 805L465 802L469 802L472 805L472 814L469 817L465 817L462 814Z"/>
<path class="m" d="M465 701h4l3 3v4l-3 3h-4l-3-3v-4z"/>
<path class="m" d="M476 732h4l3 3v4l-3 3h-4l-3-3v-4z"/><path class="m" d="M476 739h4l3 3v4l-3 3h-4l-3-3v-4z"/><path class="m" d="M473 744L483 744L483 769L473 769Z"/>
<path class="m" d="M473 777L483 777L483 822L473 822Z"/>
<path class="f" d="M473 769L476 766L480 766L483 769L483 777L480 780L476 780L473 777Z"/>
<path class="f" d="M473 822L476 819L480 819L483 822L483 824L473 824Z"/>
<path class="m" d="M473 824L476 821L480 821L483 824L483 836L480 839L476 839L473 836Z"/>
<path class="m" d="M476 660h4l3 3v4l-3 3h-4l-3-3v-4z"/>
<path class="m" d="M476 684h4l3 3v4l-3 3h-4l-3-3v-4z"/>
<path class="f" d="M476 696h4l3 3v4l-3 3h-4l-3-3v-4z"/>
<path class="m" d="M476 718h4l3 3v4l-3 3h-4l-3-3v-4z"/>
<path class="m" d="M487 736h4l3 3v4l-3 3h-4l-3-3v-4z"/><path class="m" d="M487 743h4l3 3v4l-3 3h-4l-3-3v-4z"/><path class="m" d="M484 748L494 748L494 755L484 755Z"/>
<path class="f" d="M484 755L487 752L491 752L494 755L494 759L484 759Z"/>
<path class="f" d="M484 765L494 765L494 783L484 783Z"/>
<path class="m" d="M484 759L487 756L491 756L494 759L494 765L491 768L487 768L484 765Z"/>
<path class="m" d="M484 783L487 780L491 780L494 783L494 804L484 804Z"/>
<path class="f" d="M484 804L487 801L491 801L494 804L494 819L484 819Z"/>
<path class="m" d="M484 819L487 816L491 816L494 819L494 821L484 821Z"/>
<path class="f" d="M484 821L487 818L491 818L494 821L494 823L484 823Z"/>
<path class="m" d="M484 823L487 820L491 820L494 823L494 826L484 826Z"/>
<path class="f" d="M484 826L487 823L491 823L494 826L494 828L484 828Z"/>
<path class="m" d="M484 828L487 825L491 825L494 828L494 831L484 831Z"/>
<path class="f" d="M484 831L487 828L491 828L494 831L494 836L491 839L487 839L484 836Z"/>
<path class="f" d="M487 708h4l3 3v4l-3 3h-4l-3-3v-4z"/>
<path class="m" d="M495 728L505 728L505 733L495 733Z"/><path class="m" d="M498 728h4l3 3v4l-3 3h-4l-3-3v-4z"/><path class="m" d="M498 735h4l3 3v4l-3 3h-4l-3-3v-4z"/><path class="m" d="M498 743h4l3 3v4l-3 3h-4l-3-3v-4z"/>
<path class="f" d="M495 723L498 720L502 720L505 723L505 728L502 731L498 731L495 728Z"/>
<path class="m" d="M495 756L505 756L505 785L495 785Z"/>
<path class="f" d="M495 753L498 750L502 750L505 753L505 756L502 759L498 759L495 756Z"/>
<path class="f" d="M495 785L498 782L502 782L505 785L505 795L495 795Z"/>
<path class="m" d="M495 795L498 792L502 792L505 795L505 804L495 804Z"/>
<path class="f" d="M495 804L498 801L502 801L505 804L505 806L495 806Z"/>
<path class="m" d="M495 806L498 803L502 803L505 806L505 823L495 823Z"/>
<path class="f" d="M495 823L498 820L502 820L505 823L505 827L495 827Z"/>
<path class="m" d="M495 827L498 824L502 824L505 827L505 830L495 830Z"/>
<path class="f" d="M495 830L498 827L502 827L505 830L505 836L502 839L498 839L495 836Z"/>
<path class="m" d="M509 728h4l3 3v4l-3 3h-4l-3-3v-4z"/><path class="m" d="M509 735h4l3 3v4l-3 3h-4l-3-3v-4z"/><path class="m" d="M509 743h4l3 3v4l-3 3h-4l-3-3v-4z"/><path class="m" d="M506 748L516 748L516 764L506 764Z"/>
<path class="m" d="M506 769L516 769L516 798L506 798Z"/>
<path class="f" d="M506 764L509 761L513 761L516 764L516 769L513 772L509 772L506 769Z"/>
<path class="f" d="M506 798L509 795L513 795L516 798L516 802L506 802Z"/>
<path class="m" d="M506 802L509 799L513 799L516 802L516 811L506 811Z"/>
<path class="f" d="M506 811L509 808L513 808L516 811L516 820L506 820Z"/>
<path class="m" d="M506 820L509 817L513 817L516 820L516 831L506 831Z"/>
<path class="f" d="M506 831L509 828L513 828L516 831L516 836L513 839L509 839L506 836Z"/>
<path class="m" d="M509 684h4l3 3v4l-3 3h-4l-3-3v-4z"/>
<path class="m" d="M509 694h4l3 3v4l-3 3h-4l-3-3v-4z"/>
<path class="f" d="M517 686L520 683L524 683L527 686L527 697L517 697Z"/>
<path class="m" d="M517 697L520 694L524 694L527 697L527 703L524 706L520 706L517 703Z"/>
<path class="f" d="M517 711L520 708L524 708L527 711L527 718L517 718Z"/>
<path class="m" d="M517 718L520 715L524 715L527 718L527 728L517 728Z"/>
<path class="m" d="M517 730L527 730L527 735L517 735Z"/><path class="m" d="M520 730h4l3 3v4l-3 3h-4l-3-3v-4z"/><path class="m" d="M520 737h4l3 3v4l-3 3h-4l-3-3v-4z"/><path class="m" d="M517 742L527 742L527 748L517 748Z"/>
<path class="f" d="M517 728L520 725L524 725L527 728L527 730L524 733L520 733L517 730Z"/>
<path class="f" d="M517 748L520 745L524 745L527 748L527 760L517 760Z"/>
<path class="m" d="M517 760L520 757L524 757L527 760L527 772L517 772Z"/>
<path class="f" d="M517 772L520 769L524 769L527 772L527 783L517 783Z"/>
<path class="m" d="M517 783L520 780L524 780L527 783L527 790L517 790Z"/>
<path class="f" d="M517 790L520 787L524 787L527 790L527 802L517 802Z"/>
<path class="m" d="M517 802L520 799L524 799L527 802L527 811L517 811Z"/>
<path class="f" d="M517 811L520 808L524 808L527 811L527 818L517 818Z"/>
<path class="m" d="M517 818L520 815L524 815L527 818L527 824L517 824Z"/>
<path class="f" d="M517 824L520 821L524 821L527 824L527 831L517 831Z"/>
<path class="m" d="M517 831L520 828L524 828L527 831L527 836L524 839L520 839L517 836Z"/>
<path class="m" d="M520 655h4l3 3v4l-3 3h-4l-3-3v-4z"/>
<path class="m" d="M520 664h4l3 3v4l-3 3h-4l-3-3v-4z"/>
<path class="m" d="M531 697h4l3 3v4l-3 3h-4l-3-3v-4z"/><path class="m" d="M531 704h4l3 3v4l-3 3h-4l-3-3v-4z"/><path class="m" d="M531 712h4l3 3v4l-3 3h-4l-3-3v-4z"/><path class="m" d="M528 717L538 717L538 724L528 724Z"/>
<path class="f" d="M528 725L531 722L535 722L538 725L538 730L535 733L531 733L528 730Z"/>
<path class="f" d="M528 738L531 735L535 735L538 738L538 741L528 741Z"/>
<path class="m" d="M531 738h4l3 3v4l-3 3h-4l-3-3v-4z"/><path class="m" d="M531 745h4l3 3v4l-3 3h-4l-3-3v-4z"/><path class="m" d="M528 750L538 750L538 772L528 772Z"/>
<path class="m" d="M528 779L538 779L538 831L528 831Z"/>
<path class="f" d="M528 772L531 769L535 769L538 772L538 779L535 782L531 782L528 779Z"/>
<path class="f" d="M528 831L531 828L535 828L538 831L538 836L535 839L531 839L528 836Z"/>
<path class="m" d="M531 684h4l3 3v4l-3 3h-4l-3-3v-4z"/>
<path class="m" d="M543 683h4l3 3v4l-3 3h-4l-3-3v-4z"/><path class="m" d="M543 690h4l3 3v4l-3 3h-4l-3-3v-4z"/><path class="m" d="M543 698h4l3 3v4l-3 3h-4l-3-3v-4z"/><path class="m" d="M543 705h4l3 3v4l-3 3h-4l-3-3v-4z"/><path class="m" d="M540 710L550 710L550 716L540 716Z"/>
<path class="m" d="M540 723L550 723L550 728L540 728Z"/><path class="m" d="M543 723h4l3 3v4l-3 3h-4l-3-3v-4z"/><path class="m" d="M543 730h4l3 3v4l-3 3h-4l-3-3v-4z"/><path class="m" d="M543 738h4l3 3v4l-3 3h-4l-3-3v-4z"/><path class="m" d="M543 745h4l3 3v4l-3 3h-4l-3-3v-4z"/><path class="m" d="M540 750L550 750L550 776L540 776Z"/>
<path class="f" d="M540 716L543 713L547 713L550 716L550 723L547 726L543 726L540 723Z"/>
<path class="f" d="M540 776L543 773L547 773L550 776L550 784L540 784Z"/>
<path class="m" d="M540 784L543 781L547 781L550 784L550 797L540 797Z"/>
<path class="m" d="M540 800L550 800L550 819L540 819Z"/>
<path class="f" d="M540 797L543 794L547 794L550 797L550 800L547 803L543 803L540 800Z"/>
<path class="f" d="M540 819L543 816L547 816L550 819L550 836L547 839L543 839L540 836Z"/>
<path class="m" d="M543 647h4l3 3v4l-3 3h-4l-3-3v-4z"/>
<path class="m" d="M543 655h4l3 3v4l-3 3h-4l-3-3v-4z"/>
<path class="m" d="M554 683h4l3 3v4l-3 3h-4l-3-3v-4z"/><path class="m" d="M554 688h4l3 3v4l-3 3h-4l-3-3v-4z"/>
<path class="m" d="M554 705h4l3 3v4l-3 3h-4l-3-3v-4z"/><path class="m" d="M554 712h4l3 3v4l-3 3h-4l-3-3v-4z"/><path class="m" d="M554 720h4l3 3v4l-3 3h-4l-3-3v-4z"/><path class="m" d="M551 725L561 725L561 732L551 732Z"/>
<path class="m" d="M551 734L561 734L561 739L551 739Z"/><path class="m" d="M554 734h4l3 3v4l-3 3h-4l-3-3v-4z"/><path class="m" d="M554 741h4l3 3v4l-3 3h-4l-3-3v-4z"/><path class="m" d="M551 746L561 746L561 754L551 754Z"/>
<path class="f" d="M551 732L554 729L558 729L561 732L561 733L558 736L554 736L551 733Z"/>
<path class="f" d="M551 754L554 751L558 751L561 754L561 779L551 779Z"/>
<path class="m" d="M551 779L554 776L558 776L561 779L561 790L551 790Z"/>
<path class="m" d="M551 796L561 796L561 818L551 818Z"/>
<path class="f" d="M551 790L554 787L558 787L561 790L561 796L558 799L554 799L551 796Z"/>
<path class="f" d="M551 818L554 815L558 815L561 818L561 827L551 827Z"/>
<path class="m" d="M551 827L554 824L558 824L561 827L561 836L558 839L554 839L551 836Z"/>
<path class="m" d="M554 660h4l3 3v4l-3 3h-4l-3-3v-4z"/>
<path class="f" d="M562 704L565 701L569 701L572 704L572 706L562 706Z"/>
<path class="m" d="M565 703h4l3 3v4l-3 3h-4l-3-3v-4z"/><path class="m" d="M565 710h4l3 3v4l-3 3h-4l-3-3v-4z"/><path class="m" d="M565 718h4l3 3v4l-3 3h-4l-3-3v-4z"/><path class="m" d="M565 725h4l3 3v4l-3 3h-4l-3-3v-4z"/><path class="m" d="M565 732h4l3 3v4l-3 3h-4l-3-3v-4z"/><path class="m" d="M565 739h4l3 3v4l-3 3h-4l-3-3v-4z"/><path class="m" d="M562 744L572 744L572 759L562 759Z"/>
<path class="f" d="M562 759L565 756L569 756L572 759L572 767L562 767Z"/>
<path class="m" d="M562 767L565 764L569 764L572 767L572 773L562 773Z"/>
<path class="f" d="M562 773L565 770L569 770L572 773L572 784L562 784Z"/>
<path class="m" d="M562 784L565 781L569 781L572 784L572 799L562 799Z"/>
<path class="f" d="M562 799L565 796L569 796L572 799L572 802L562 802Z"/>
<path class="m" d="M562 802L565 799L569 799L572 802L572 809L562 809Z"/>
<path class="f" d="M562 809L565 806L569 806L572 809L572 815L562 815Z"/>
<path class="f" d="M562 823L572 823L572 836L569 839L565 839L562 836Z"/>
<path class="m" d="M562 815L565 812L569 812L572 815L572 823L569 826L565 826L562 823Z"/>
<path class="m" d="M565 660h4l3 3v4l-3 3h-4l-3-3v-4z"/>
<path class="f" d="M565 667h4l3 3v4l-3 3h-4l-3-3v-4z"/>
<path class="m" d="M565 674h4l3 3v4l-3 3h-4l-3-3v-4z"/>
<path class="f" d="M565 684h4l3 3v4l-3 3h-4l-3-3v-4z"/>
<path class="m" d="M576 829h4l3 3v4l-3 3h-4l-3-3v-4z"/>
<path class="f" d="M576 824h4l3 3v4l-3 3h-4l-3-3v-4z"/>
<path class="m" d="M576 652h4l3 3v4l-3 3h-4l-3-3v-4z"/><path class="m" d="M576 659h4l3 3v4l-3 3h-4l-3-3v-4z"/><path class="m" d="M576 667h4l3 3v4l-3 3h-4l-3-3v-4z"/><path class="m" d="M576 668h4l3 3v4l-3 3h-4l-3-3v-4z"/>
<path class="m" d="M573 690L583 690L583 695L573 695Z"/><path class="m" d="M576 690h4l3 3v4l-3 3h-4l-3-3v-4z"/><path class="m" d="M576 697h4l3 3v4l-3 3h-4l-3-3v-4z"/><path class="m" d="M576 705h4l3 3v4l-3 3h-4l-3-3v-4z"/><path class="m" d="M576 712h4l3 3v4l-3 3h-4l-3-3v-4z"/><path class="m" d="M576 719h4l3 3v4l-3 3h-4l-3-3v-4z"/><path class="m" d="M576 727h4l3 3v4l-3 3h-4l-3-3v-4z"/><path class="m" d="M576 734h4l3 3v4l-3 3h-4l-3-3v-4z"/><path class="m" d="M573 739L583 739L583 745L573 745Z"/>
<path class="f" d="M573 687L576 684L580 684L583 687L583 690L580 693L576 693L573 690Z"/>
<path class="f" d="M576 742h4l3 3v4l-3 3h-4l-3-3v-4z"/><path class="f" d="M573 747L583 747L583 782L573 782Z"/>
<path class="m" d="M573 782L576 779L580 779L583 782L583 794L573 794Z"/>
<path class="f" d="M573 794L576 791L580 791L583 794L583 797L573 797Z"/>
<path class="m" d="M573 797L576 794L580 794L583 797L583 811L573 811Z"/>
<path class="f" d="M573 811L576 808L580 808L583 811L583 821L573 821Z"/>
<path class="m" d="M573 821L576 818L580 818L583 821L583 827L580 830L576 830L573 827Z"/>
<path class="f" d="M587 684h4l3 3v4l-3 3h-4l-3-3v-4z"/><path class="f" d="M587 691h4l3 3v4l-3 3h-4l-3-3v-4z"/><path class="f" d="M587 699h4l3 3v4l-3 3h-4l-3-3v-4z"/><path class="f" d="M584 704L594 704L594 712L584 712Z"/>
<path class="m" d="M587 709h4l3 3v4l-3 3h-4l-3-3v-4z"/><path class="m" d="M587 716h4l3 3v4l-3 3h-4l-3-3v-4z"/><path class="m" d="M587 724h4l3 3v4l-3 3h-4l-3-3v-4z"/>
<path class="f" d="M584 734L587 731L591 731L594 734L594 739L584 739Z"/>
<path class="m" d="M584 739L587 736L591 736L594 739L594 750L584 750Z"/>
<path class="f" d="M584 750L587 747L591 747L594 750L594 752L584 752Z"/>
<path class="m" d="M584 752L587 749L591 749L594 752L594 756L584 756Z"/>
<path class="m" d="M584 765L594 765L594 783L584 783Z"/>
<path class="f" d="M584 756L587 753L591 753L594 756L594 765L591 768L587 768L584 765Z"/>
<path class="f" d="M584 783L587 780L591 780L594 783L594 795L584 795Z"/>
<path class="m" d="M584 795L587 792L591 792L594 795L594 807L584 807Z"/>
<path class="f" d="M584 807L587 804L591 804L594 807L594 809L584 809Z"/>
<path class="m" d="M584 809L587 806L591 806L594 809L594 810L584 810Z"/>
<path class="f" d="M584 810L587 807L591 807L594 810L594 813L584 813Z"/>
<path class="m" d="M584 813L587 810L591 810L594 813L594 816L584 816Z"/>
<path class="f" d="M584 816L587 813L591 813L594 816L594 826L584 826Z"/>
<path class="m" d="M584 826L587 823L591 823L594 826L594 830L584 830Z"/>
<path class="f" d="M584 830L587 827L591 827L594 830L594 836L591 839L587 839L584 836Z"/>
<path class="m" d="M587 645h4l3 3v4l-3 3h-4l-3-3v-4z"/>
<path class="m" d="M598 829h4l3 3v4l-3 3h-4l-3-3v-4z"/>
<path class="f" d="M598 826h4l3 3v4l-3 3h-4l-3-3v-4z"/>
<path class="m" d="M598 684h4l3 3v4l-3 3h-4l-3-3v-4z"/><path class="m" d="M598 691h4l3 3v4l-3 3h-4l-3-3v-4z"/><path class="m" d="M598 699h4l3 3v4l-3 3h-4l-3-3v-4z"/><path class="m" d="M598 706h4l3 3v4l-3 3h-4l-3-3v-4z"/><path class="m" d="M598 713h4l3 3v4l-3 3h-4l-3-3v-4z"/><path class="m" d="M598 721h4l3 3v4l-3 3h-4l-3-3v-4z"/><path class="m" d="M598 728h4l3 3v4l-3 3h-4l-3-3v-4z"/><path class="m" d="M598 735h4l3 3v4l-3 3h-4l-3-3v-4z"/><path class="m" d="M595 740L605 740L605 751L595 751Z"/>
<path class="f" d="M595 751L598 748L602 748L605 751L605 759L595 759Z"/>
<path class="m" d="M595 759L598 756L602 756L605 759L605 770L595 770Z"/>
<path class="m" d="M595 774L605 774L605 796L595 796Z"/>
<path class="f" d="M595 770L598 767L602 767L605 770L605 774L602 777L598 777L595 774Z"/>
<path class="f" d="M595 796L598 793L602 793L605 796L605 826L595 826Z"/>
<path class="m" d="M595 826L598 823L602 823L605 826L605 831L602 834L598 834L595 831Z"/>
<path class="m" d="M598 669h4l3 3v4l-3 3h-4l-3-3v-4z"/>
<path class="m" d="M609 684h4l3 3v4l-3 3h-4l-3-3v-4z"/><path class="m" d="M609 691h4l3 3v4l-3 3h-4l-3-3v-4z"/><path class="m" d="M606 696L616 696L616 702L606 702Z"/>
<path class="f" d="M609 698h4l3 3v4l-3 3h-4l-3-3v-4z"/><path class="f" d="M609 705h4l3 3v4l-3 3h-4l-3-3v-4z"/><path class="f" d="M606 710L616 710L616 719L606 719Z"/>
<path class="m" d="M606 719L609 716L613 716L616 719L616 726L606 726Z"/>
<path class="f" d="M606 726L609 723L613 723L616 726L616 728L606 728Z"/>
<path class="m" d="M606 728L609 725L613 725L616 728L616 730L606 730Z"/>
<path class="f" d="M609 727h4l3 3v4l-3 3h-4l-3-3v-4z"/><path class="f" d="M609 734h4l3 3v4l-3 3h-4l-3-3v-4z"/>
<path class="m" d="M609 741h4l3 3v4l-3 3h-4l-3-3v-4z"/><path class="m" d="M606 746L616 746L616 773L606 773Z"/>
<path class="f" d="M606 773L609 770L613 770L616 773L616 774L606 774Z"/>
<path class="m" d="M606 774L609 771L613 771L616 774L616 775L606 775Z"/>
<path class="f" d="M606 775L609 772L613 772L616 775L616 777L606 777Z"/>
<path class="m" d="M606 777L609 774L613 774L616 777L616 785L606 785Z"/>
<path class="m" d="M606 793L616 793L616 811L606 811Z"/>
<path class="f" d="M606 785L609 782L613 782L616 785L616 793L613 796L609 796L606 793Z"/>
<path class="f" d="M606 811L609 808L613 808L616 811L616 820L606 820Z"/>
<path class="m" d="M606 820L609 817L613 817L616 820L616 831L606 831Z"/>
<path class="f" d="M606 831L609 828L613 828L616 831L616 836L613 839L609 839L606 836Z"/>
<path class="f" d="M617 673L627 673L627 678L617 678Z"/><path class="f" d="M620 673h4l3 3v4l-3 3h-4l-3-3v-4z"/><path class="f" d="M620 680h4l3 3v4l-3 3h-4l-3-3v-4z"/><path class="f" d="M620 688h4l3 3v4l-3 3h-4l-3-3v-4z"/><path class="f" d="M617 693L627 693L627 704L617 704Z"/>
<path class="m" d="M617 667L620 664L624 664L627 667L627 673L624 676L620 676L617 673Z"/>
<path class="m" d="M620 701h4l3 3v4l-3 3h-4l-3-3v-4z"/><path class="m" d="M620 708h4l3 3v4l-3 3h-4l-3-3v-4z"/>
<path class="f" d="M617 718L620 715L624 715L627 718L627 720L617 720Z"/>
<path class="m" d="M617 720L620 717L624 717L627 720L627 724L617 724Z"/>
<path class="f" d="M617 724L620 721L624 721L627 724L627 727L617 727Z"/>
<path class="m" d="M617 727L620 724L624 724L627 727L627 732L617 732Z"/>
<path class="f" d="M617 732L620 729L624 729L627 732L627 735L617 735Z"/>
<path class="m" d="M620 732h4l3 3v4l-3 3h-4l-3-3v-4z"/><path class="m" d="M620 739h4l3 3v4l-3 3h-4l-3-3v-4z"/><path class="m" d="M617 744L627 744L627 761L617 761Z"/>
<path class="f" d="M617 761L620 758L624 758L627 761L627 771L617 771Z"/>
<path class="m" d="M617 771L620 768L624 768L627 771L627 772L617 772Z"/>
<path class="m" d="M617 777L627 777L627 799L617 799Z"/>
<path class="f" d="M617 772L620 769L624 769L627 772L627 777L624 780L620 780L617 777Z"/>
<path class="f" d="M617 799L620 796L624 796L627 799L627 806L617 806Z"/>
<path class="m" d="M617 806L620 803L624 803L627 806L627 811L617 811Z"/>
<path class="f" d="M617 811L620 808L624 808L627 811L627 818L617 818Z"/>
<path class="m" d="M617 818L620 815L624 815L627 818L627 829L617 829Z"/>
<path class="f" d="M617 829L620 826L624 826L627 829L627 832L617 832Z"/>
<path class="m" d="M617 832L620 829L624 829L627 832L627 836L624 839L620 839L617 836Z"/>
<path class="m" d="M628 663L631 660L635 660L638 663L638 673L628 673Z"/>
<path class="m" d="M628 674L638 674L638 679L628 679Z"/><path class="m" d="M631 674h4l3 3v4l-3 3h-4l-3-3v-4z"/><path class="m" d="M631 681h4l3 3v4l-3 3h-4l-3-3v-4z"/><path class="m" d="M628 686L638 686L638 696L628 696Z"/>
<path class="f" d="M628 673L631 670L635 670L638 673L638 674L635 677L631 677L628 674Z"/>
<path class="m" d="M628 706L638 706L638 711L628 711Z"/><path class="m" d="M631 706h4l3 3v4l-3 3h-4l-3-3v-4z"/><path class="m" d="M631 713h4l3 3v4l-3 3h-4l-3-3v-4z"/><path class="m" d="M631 721h4l3 3v4l-3 3h-4l-3-3v-4z"/><path class="m" d="M631 728h4l3 3v4l-3 3h-4l-3-3v-4z"/><path class="m" d="M631 735h4l3 3v4l-3 3h-4l-3-3v-4z"/><path class="m" d="M631 743h4l3 3v4l-3 3h-4l-3-3v-4z"/><path class="m" d="M628 748L638 748L638 772L628 772Z"/>
<path class="f" d="M631 694h4l3 3v4l-3 3h-4l-3-3v-4z"/><path class="f" d="M631 699h4l3 3v4l-3 3h-4l-3-3v-4z"/>
<path class="f" d="M628 772L631 769L635 769L638 772L638 778L628 778Z"/>
<path class="m" d="M628 778L631 775L635 775L638 778L638 787L628 787Z"/>
<path class="m" d="M628 798L638 798L638 816L628 816Z"/>
<path class="f" d="M628 787L631 784L635 784L638 787L638 798L635 801L631 801L628 798Z"/>
<path class="f" d="M628 816L631 813L635 813L638 816L638 826L628 826Z"/>
<path class="m" d="M628 826L631 823L635 823L638 826L638 830L628 830Z"/>
<path class="f" d="M628 830L631 827L635 827L638 830L638 836L635 839L631 839L628 836Z"/>
<path class="m" d="M631 645h4l3 3v4l-3 3h-4l-3-3v-4z"/>
<path class="f" d="M642 655h4l3 3v4l-3 3h-4l-3-3v-4z"/><path class="f" d="M642 662h4l3 3v4l-3 3h-4l-3-3v-4z"/>
<path class="m" d="M639 671L642 668L646 668L649 671L649 676L646 679L642 679L639 676Z"/>
<path class="f" d="M642 684h4l3 3v4l-3 3h-4l-3-3v-4z"/><path class="f" d="M642 691h4l3 3v4l-3 3h-4l-3-3v-4z"/><path class="f" d="M642 699h4l3 3v4l-3 3h-4l-3-3v-4z"/><path class="f" d="M639 704L649 704L649 711L639 711Z"/>
<path class="m" d="M639 711L642 708L646 708L649 711L649 712L639 712Z"/>
<path class="f" d="M639 712L642 709L646 709L649 712L649 714L639 714Z"/>
<path class="m" d="M639 714L642 711L646 711L649 714L649 715L639 715Z"/>
<path class="f" d="M639 715L642 712L646 712L649 715L649 717L639 717Z"/>
<path class="m" d="M642 714h4l3 3v4l-3 3h-4l-3-3v-4z"/><path class="m" d="M642 721h4l3 3v4l-3 3h-4l-3-3v-4z"/><path class="m" d="M642 729h4l3 3v4l-3 3h-4l-3-3v-4z"/><path class="m" d="M639 734L649 734L649 744L639 744Z"/>
<path class="m" d="M639 748L649 748L649 784L639 784Z"/>
<path class="f" d="M639 744L642 741L646 741L649 744L649 748L646 751L642 751L639 748Z"/>
<path class="f" d="M639 784L642 781L646 781L649 784L649 785L639 785Z"/>
<path class="m" d="M639 785L642 782L646 782L649 785L649 800L639 800Z"/>
<path class="f" d="M639 800L642 797L646 797L649 800L649 808L639 808Z"/>
<path class="m" d="M639 808L642 805L646 805L649 808L649 813L639 813Z"/>
<path class="f" d="M639 813L642 810L646 810L649 813L649 815L639 815Z"/>
<path class="m" d="M639 815L642 812L646 812L649 815L649 824L639 824Z"/>
<path class="f" d="M639 824L642 821L646 821L649 824L649 831L639 831Z"/>
<path class="m" d="M639 831L642 828L646 828L649 831L649 836L646 839L642 839L639 836Z"/>
<path class="f" d="M651 657L654 654L658 654L661 657L661 665L651 665Z"/>
<path class="m" d="M651 665L654 662L658 662L661 665L661 676L651 676Z"/>
<path class="m" d="M651 678L661 678L661 683L651 683Z"/><path class="m" d="M654 678h4l3 3v4l-3 3h-4l-3-3v-4z"/><path class="m" d="M654 685h4l3 3v4l-3 3h-4l-3-3v-4z"/><path class="m" d="M651 690L661 690L661 698L651 698Z"/>
<path class="f" d="M651 677L654 674L658 674L661 677L661 678L658 681L654 681L651 678Z"/>
<path class="f" d="M651 698L654 695L658 695L661 698L661 701L651 701Z"/>
<path class="m" d="M654 698h4l3 3v4l-3 3h-4l-3-3v-4z"/><path class="m" d="M654 705h4l3 3v4l-3 3h-4l-3-3v-4z"/><path class="m" d="M654 713h4l3 3v4l-3 3h-4l-3-3v-4z"/><path class="m" d="M654 720h4l3 3v4l-3 3h-4l-3-3v-4z"/><path class="m" d="M654 727h4l3 3v4l-3 3h-4l-3-3v-4z"/><path class="m" d="M654 735h4l3 3v4l-3 3h-4l-3-3v-4z"/>
<path class="m" d="M651 752L661 752L661 768L651 768Z"/>
<path class="f" d="M651 745L654 742L658 742L661 745L661 752L658 755L654 755L651 752Z"/>
<path class="f" d="M651 768L654 765L658 765L661 768L661 794L651 794Z"/>
<path class="m" d="M651 794L654 791L658 791L661 794L661 796L651 796Z"/>
<path class="f" d="M651 796L654 793L658 793L661 796L661 811L651 811Z"/>
<path class="f" d="M651 813L661 813L661 833L651 833Z"/>
<path class="m" d="M651 811L654 808L658 808L661 811L661 813L658 816L654 816L651 813Z"/>
<path class="m" d="M651 833L654 830L658 830L661 833L661 836L658 839L654 839L651 836Z"/>
<path class="m" d="M654 643h4l3 3v4l-3 3h-4l-3-3v-4z"/>
<path class="m" d="M665 645h4l3 3v4l-3 3h-4l-3-3v-4z"/><path class="m" d="M665 652h4l3 3v4l-3 3h-4l-3-3v-4z"/><path class="m" d="M662 657L672 657L672 665L662 665Z"/>
<path class="m" d="M662 666L672 666L672 671L662 671Z"/><path class="m" d="M665 666h4l3 3v4l-3 3h-4l-3-3v-4z"/><path class="m" d="M665 673h4l3 3v4l-3 3h-4l-3-3v-4z"/><path class="m" d="M665 681h4l3 3v4l-3 3h-4l-3-3v-4z"/><path class="m" d="M665 688h4l3 3v4l-3 3h-4l-3-3v-4z"/><path class="m" d="M662 693L672 693L672 704L662 704Z"/>
<path class="f" d="M662 665L665 662L669 662L672 665L672 666L669 669L665 669L662 666Z"/>
<path class="f" d="M665 701h4l3 3v4l-3 3h-4l-3-3v-4z"/><path class="f" d="M665 708h4l3 3v4l-3 3h-4l-3-3v-4z"/><path class="f" d="M665 716h4l3 3v4l-3 3h-4l-3-3v-4z"/>
<path class="m" d="M665 723h4l3 3v4l-3 3h-4l-3-3v-4z"/><path class="m" d="M665 730h4l3 3v4l-3 3h-4l-3-3v-4z"/><path class="m" d="M662 735L672 735L672 744L662 744Z"/>
<path class="m" d="M662 748L672 748L672 770L662 770Z"/>
<path class="f" d="M662 744L665 741L669 741L672 744L672 748L669 751L665 751L662 748Z"/>
<path class="f" d="M662 770L665 767L669 767L672 770L672 808L662 808Z"/>
<path class="m" d="M662 808L665 805L669 805L672 808L672 820L662 820Z"/>
<path class="f" d="M662 820L665 817L669 817L672 820L672 833L662 833Z"/>
<path class="m" d="M662 833L665 830L669 830L672 833L672 836L669 839L665 839L662 836Z"/>
<path class="f" d="M676 670h4l3 3v4l-3 3h-4l-3-3v-4z"/>
<path class="m" d="M673 667L676 664L680 664L683 667L683 673L680 676L676 676L673 673Z"/>
<path class="m" d="M673 687L676 684L680 684L683 687L683 698L673 698Z"/>
<path class="m" d="M673 706L683 706L683 711L673 711Z"/><path class="m" d="M676 706h4l3 3v4l-3 3h-4l-3-3v-4z"/><path class="m" d="M676 713h4l3 3v4l-3 3h-4l-3-3v-4z"/><path class="m" d="M673 718L683 718L683 725L673 725Z"/>
<path class="f" d="M673 698L676 695L680 695L683 698L683 706L680 709L676 709L673 706Z"/>
<path class="f" d="M673 725L676 722L680 722L683 725L683 726L673 726Z"/>
<path class="m" d="M673 726L676 723L680 723L683 726L683 734L673 734Z"/>
<path class="f" d="M673 734L676 731L680 731L683 734L683 740L673 740Z"/>
<path class="m" d="M673 740L676 737L680 737L683 740L683 751L673 751Z"/>
<path class="m" d="M673 757L683 757L683 778L673 778Z"/>
<path class="f" d="M673 751L676 748L680 748L683 751L683 757L680 760L676 760L673 757Z"/>
<path class="f" d="M673 778L676 775L680 775L683 778L683 790L673 790Z"/>
<path class="f" d="M673 792L683 792L683 810L673 810Z"/>
<path class="m" d="M673 790L676 787L680 787L683 790L683 792L680 795L676 795L673 792Z"/>
<path class="f" d="M673 818L683 818L683 836L680 839L676 839L673 836Z"/>
<path class="m" d="M673 810L676 807L680 807L683 810L683 818L680 821L676 821L673 818Z"/>
<path class="m" d="M684 658L687 655L691 655L694 658L694 662L684 662Z"/>
<path class="f" d="M684 661L687 658L691 658L694 661L694 672L684 672Z"/>
<path class="f" d="M684 672L694 672L694 677L684 677Z"/><path class="f" d="M687 672h4l3 3v4l-3 3h-4l-3-3v-4z"/><path class="f" d="M687 679h4l3 3v4l-3 3h-4l-3-3v-4z"/><path class="f" d="M684 684L694 684L694 695L684 695Z"/>
<path class="m" d="M684 671L687 668L691 668L694 671L694 672L691 675L687 675L684 672Z"/>
<path class="m" d="M687 692h4l3 3v4l-3 3h-4l-3-3v-4z"/><path class="m" d="M687 699h4l3 3v4l-3 3h-4l-3-3v-4z"/><path class="m" d="M687 707h4l3 3v4l-3 3h-4l-3-3v-4z"/><path class="m" d="M684 712L694 712L694 722L684 722Z"/>
<path class="m" d="M684 731L694 731L694 736L684 736Z"/><path class="m" d="M687 731h4l3 3v4l-3 3h-4l-3-3v-4z"/><path class="m" d="M687 738h4l3 3v4l-3 3h-4l-3-3v-4z"/><path class="m" d="M684 743L694 743L694 755L684 755Z"/>
<path class="f" d="M687 719h4l3 3v4l-3 3h-4l-3-3v-4z"/><path class="f" d="M687 724h4l3 3v4l-3 3h-4l-3-3v-4z"/>
<path class="m" d="M684 762L694 762L694 794L684 794Z"/>
<path class="f" d="M684 755L687 752L691 752L694 755L694 762L691 765L687 765L684 762Z"/>
<path class="f" d="M684 794L687 791L691 791L694 794L694 818L684 818Z"/>
<path class="m" d="M684 818L687 815L691 815L694 818L694 821L684 821Z"/>
<path class="f" d="M684 821L687 818L691 818L694 821L694 836L691 839L687 839L684 836Z"/>
<path class="f" d="M698 829h4l3 3v4l-3 3h-4l-3-3v-4z"/>
<path class="m" d="M698 655h4l3 3v4l-3 3h-4l-3-3v-4z"/><path class="m" d="M698 662h4l3 3v4l-3 3h-4l-3-3v-4z"/><path class="m" d="M698 664h4l3 3v4l-3 3h-4l-3-3v-4z"/>
<path class="m" d="M698 684h4l3 3v4l-3 3h-4l-3-3v-4z"/><path class="m" d="M698 691h4l3 3v4l-3 3h-4l-3-3v-4z"/><path class="m" d="M698 699h4l3 3v4l-3 3h-4l-3-3v-4z"/><path class="m" d="M698 706h4l3 3v4l-3 3h-4l-3-3v-4z"/><path class="m" d="M695 711L705 711L705 719L695 719Z"/>
<path class="m" d="M695 725L705 725L705 730L695 730Z"/><path class="m" d="M698 725h4l3 3v4l-3 3h-4l-3-3v-4z"/><path class="m" d="M698 732h4l3 3v4l-3 3h-4l-3-3v-4z"/><path class="m" d="M698 740h4l3 3v4l-3 3h-4l-3-3v-4z"/><path class="m" d="M695 745L705 745L705 791L695 791Z"/>
<path class="f" d="M695 719L698 716L702 716L705 719L705 725L702 728L698 728L695 725Z"/>
<path class="f" d="M695 791L698 788L702 788L705 791L705 804L695 804Z"/>
<path class="m" d="M695 804L698 801L702 801L705 804L705 806L695 806Z"/>
<path class="f" d="M695 806L698 803L702 803L705 806L705 807L695 807Z"/>
<path class="m" d="M695 807L698 804L702 804L705 807L705 834L702 837L698 837L695 834Z"/>
<path class="f" d="M709 645h4l3 3v4l-3 3h-4l-3-3v-4z"/><path class="f" d="M709 652h4l3 3v4l-3 3h-4l-3-3v-4z"/><path class="f" d="M709 655h4l3 3v4l-3 3h-4l-3-3v-4z"/>
<path class="m" d="M706 672L709 669L713 669L716 672L716 680L706 680Z"/>
<path class="m" d="M706 681L716 681L716 686L706 686Z"/><path class="m" d="M709 681h4l3 3v4l-3 3h-4l-3-3v-4z"/><path class="m" d="M709 688h4l3 3v4l-3 3h-4l-3-3v-4z"/><path class="m" d="M709 696h4l3 3v4l-3 3h-4l-3-3v-4z"/><path class="m" d="M709 703h4l3 3v4l-3 3h-4l-3-3v-4z"/><path class="m" d="M709 710h4l3 3v4l-3 3h-4l-3-3v-4z"/><path class="m" d="M706 715L716 715L716 726L706 726Z"/>
<path class="f" d="M706 680L709 677L713 677L716 680L716 681L713 684L709 684L706 681Z"/>
<path class="f" d="M706 726L709 723L713 723L716 726L716 729L706 729Z"/>
<path class="m" d="M706 729L709 726L713 726L716 729L716 733L706 733Z"/>
<path class="m" d="M706 740L716 740L716 745L706 745Z"/><path class="m" d="M709 740h4l3 3v4l-3 3h-4l-3-3v-4z"/><path class="m" d="M706 745L716 745L716 770L706 770Z"/>
<path class="f" d="M706 733L709 730L713 730L716 733L716 740L713 743L709 743L706 740Z"/>
<path class="f" d="M706 770L709 767L713 767L716 770L716 787L706 787Z"/>
<path class="f" d="M706 792L716 792L716 809L706 809Z"/>
<path class="m" d="M706 787L709 784L713 784L716 787L716 792L713 795L709 795L706 792Z"/>
<path class="m" d="M706 809L709 806L713 806L716 809L716 822L706 822Z"/>
<path class="f" d="M706 822L709 819L713 819L716 822L716 825L706 825Z"/>
<path class="m" d="M706 825L709 822L713 822L716 825L716 836L713 839L709 839L706 836Z"/>
<path class="m" d="M720 660h4l3 3v4l-3 3h-4l-3-3v-4z"/><path class="m" d="M720 667h4l3 3v4l-3 3h-4l-3-3v-4z"/><path class="m" d="M720 668h4l3 3v4l-3 3h-4l-3-3v-4z"/>
<path class="m" d="M717 687L720 684L724 684L727 687L727 696L717 696Z"/>
<path class="f" d="M717 696L720 693L724 693L727 696L727 700L717 700Z"/>
<path class="f" d="M717 707L727 707L727 712L717 712Z"/><path class="f" d="M720 707h4l3 3v4l-3 3h-4l-3-3v-4z"/><path class="f" d="M720 714h4l3 3v4l-3 3h-4l-3-3v-4z"/>
<path class="m" d="M717 700L720 697L724 697L727 700L727 707L724 710L720 710L717 707Z"/>
<path class="m" d="M720 721h4l3 3v4l-3 3h-4l-3-3v-4z"/><path class="m" d="M720 728h4l3 3v4l-3 3h-4l-3-3v-4z"/><path class="m" d="M720 736h4l3 3v4l-3 3h-4l-3-3v-4z"/><path class="m" d="M720 743h4l3 3v4l-3 3h-4l-3-3v-4z"/><path class="m" d="M717 748L727 748L727 780L717 780Z"/>
<path class="f" d="M717 780L720 777L724 777L727 780L727 792L717 792Z"/>
<path class="m" d="M717 792L720 789L724 789L727 792L727 802L717 802Z"/>
<path class="f" d="M717 802L720 799L724 799L727 802L727 812L717 812Z"/>
<path class="f" d="M717 818L727 818L727 836L724 839L720 839L717 836Z"/>
<path class="m" d="M717 812L720 809L724 809L727 812L727 819L724 822L720 822L717 819Z"/>
<path class="f" d="M720 645h4l3 3v4l-3 3h-4l-3-3v-4z"/>
<path class="m" d="M731 650h4l3 3v4l-3 3h-4l-3-3v-4z"/><path class="m" d="M731 657h4l3 3v4l-3 3h-4l-3-3v-4z"/><path class="m" d="M731 665h4l3 3v4l-3 3h-4l-3-3v-4z"/><path class="m" d="M731 668h4l3 3v4l-3 3h-4l-3-3v-4z"/>
<path class="f" d="M731 685h4l3 3v4l-3 3h-4l-3-3v-4z"/><path class="f" d="M728 690L738 690L738 700L728 700Z"/>
<path class="m" d="M728 699L731 696L735 696L738 699L738 707L728 707Z"/>
<path class="f" d="M728 707L731 704L735 704L738 707L738 716L728 716Z"/>
<path class="m" d="M728 716L731 713L735 713L738 716L738 725L728 725Z"/>
<path class="f" d="M728 725L731 722L735 722L738 725L738 733L728 733Z"/>
<path class="m" d="M728 733L731 730L735 730L738 733L738 744L728 744Z"/>
<path class="f" d="M728 744L731 741L735 741L738 744L738 753L728 753Z"/>
<path class="m" d="M728 753L731 750L735 750L738 753L738 767L728 767Z"/>
<path class="m" d="M728 771L738 771L738 797L728 797Z"/>
<path class="f" d="M728 767L731 764L735 764L738 767L738 771L735 774L731 774L728 771Z"/>
<path class="f" d="M728 797L731 794L735 794L738 797L738 800L728 800Z"/>
<path class="m" d="M728 801L731 798L735 798L738 801L738 803L728 803Z"/>
<path class="f" d="M728 803L731 800L735 800L738 803L738 806L728 806Z"/>
<path class="m" d="M728 806L731 803L735 803L738 806L738 830L728 830Z"/>
<path class="f" d="M728 830L731 827L735 827L738 830L738 836L735 839L731 839L728 836Z"/>
<path class="m" d="M739 648L742 645L746 645L749 648L749 650L746 653L742 653L739 650Z"/>
<path class="f" d="M739 663L742 660L746 660L749 663L749 671L739 671Z"/>
<path class="m" d="M739 671L742 668L746 668L749 671L749 682L739 682Z"/>
<path class="f" d="M739 682L742 679L746 679L749 682L749 685L739 685Z"/>
<path class="m" d="M742 682h4l3 3v4l-3 3h-4l-3-3v-4z"/><path class="m" d="M742 689h4l3 3v4l-3 3h-4l-3-3v-4z"/>
<path class="f" d="M739 699L742 696L746 696L749 699L749 710L739 710Z"/>
<path class="m" d="M739 710L742 707L746 707L749 710L749 719L739 719Z"/>
<path class="m" d="M739 725L749 725L749 730L739 730Z"/><path class="m" d="M742 725h4l3 3v4l-3 3h-4l-3-3v-4z"/><path class="m" d="M742 732h4l3 3v4l-3 3h-4l-3-3v-4z"/><path class="m" d="M742 740h4l3 3v4l-3 3h-4l-3-3v-4z"/><path class="m" d="M739 745L749 745L749 759L739 759Z"/>
<path class="f" d="M739 719L742 716L746 716L749 719L749 725L746 728L742 728L739 725Z"/>
<path class="f" d="M739 759L742 756L746 756L749 759L749 773L739 773Z"/>
<path class="m" d="M739 773L742 770L746 770L749 773L749 788L739 788Z"/>
<path class="m" d="M739 794L749 794L749 813L739 813Z"/>
<path class="f" d="M739 788L742 785L746 785L749 788L749 794L746 797L742 797L739 794Z"/>
<path class="f" d="M739 813L742 810L746 810L749 813L749 816L739 816Z"/>
<path class="m" d="M739 816L742 813L746 813L749 816L749 836L746 839L742 839L739 836Z"/>
<path class="m" d="M750 648L753 645L757 645L760 648L760 651L750 651Z"/>
<path class="m" d="M750 653L760 653L760 658L750 658Z"/><path class="m" d="M753 653h4l3 3v4l-3 3h-4l-3-3v-4z"/><path class="m" d="M753 660h4l3 3v4l-3 3h-4l-3-3v-4z"/><path class="m" d="M753 668h4l3 3v4l-3 3h-4l-3-3v-4z"/><path class="m" d="M750 673L760 673L760 680L750 680Z"/>
<path class="f" d="M750 651L753 648L757 648L760 651L760 653L757 656L753 656L750 653Z"/>
<path class="f" d="M750 680L753 677L757 677L760 680L760 686L750 686Z"/>
<path class="m" d="M750 686L753 683L757 683L760 686L760 691L750 691Z"/>
<path class="m" d="M750 698L760 698L760 703L750 703Z"/><path class="m" d="M753 698h4l3 3v4l-3 3h-4l-3-3v-4z"/><path class="m" d="M753 705h4l3 3v4l-3 3h-4l-3-3v-4z"/><path class="m" d="M750 710L760 710L760 720L750 720Z"/>
<path class="f" d="M750 691L753 688L757 688L760 691L760 699L757 702L753 702L750 699Z"/>
<path class="f" d="M750 720L753 717L757 717L760 720L760 729L750 729Z"/>
<path class="m" d="M750 729L753 726L757 726L760 729L760 739L750 739Z"/>
<path class="f" d="M750 739L753 736L757 736L760 739L760 741L750 741Z"/>
<path class="m" d="M753 738h4l3 3v4l-3 3h-4l-3-3v-4z"/><path class="m" d="M750 743L760 743L760 753L750 753Z"/>
<path class="f" d="M750 753L753 750L757 750L760 753L760 770L750 770Z"/>
<path class="m" d="M750 770L753 767L757 767L760 770L760 796L750 796Z"/>
<path class="f" d="M750 797L753 794L757 794L760 797L760 836L757 839L753 839L750 836Z"/>
<path class="m" d="M761 663L764 660L768 660L771 663L771 666L761 666Z"/>
<path class="f" d="M764 663h4l3 3v4l-3 3h-4l-3-3v-4z"/><path class="f" d="M764 669h4l3 3v4l-3 3h-4l-3-3v-4z"/>
<path class="m" d="M761 686L764 683L768 683L771 686L771 695L761 695Z"/>
<path class="f" d="M761 695L764 692L768 692L771 695L771 705L761 705Z"/>
<path class="m" d="M761 705L764 702L768 702L771 705L771 710L761 710Z"/>
<path class="m" d="M761 714L771 714L771 719L761 719Z"/><path class="m" d="M764 714h4l3 3v4l-3 3h-4l-3-3v-4z"/><path class="m" d="M764 721h4l3 3v4l-3 3h-4l-3-3v-4z"/><path class="m" d="M761 726L771 726L771 732L761 732Z"/>
<path class="f" d="M761 710L764 707L768 707L771 710L771 714L768 717L764 717L761 714Z"/>
<path class="m" d="M761 740L771 740L771 745L761 745Z"/><path class="m" d="M764 740h4l3 3v4l-3 3h-4l-3-3v-4z"/><path class="m" d="M761 745L771 745L771 784L761 784Z"/>
<path class="f" d="M761 732L764 729L768 729L771 732L771 740L768 743L764 743L761 740Z"/>
<path class="f" d="M761 784L764 781L768 781L771 784L771 830L761 830Z"/>
<path class="m" d="M761 830L764 827L768 827L771 830L771 836L768 839L764 839L761 836Z"/>
<path class="m" d="M773 648L776 645L780 645L783 648L783 651L780 654L776 654L773 651Z"/>
<path class="m" d="M773 671L776 668L780 668L783 671L783 675L780 678L776 678L773 675Z"/>
<path class="m" d="M776 684h4l3 3v4l-3 3h-4l-3-3v-4z"/><path class="m" d="M776 691h4l3 3v4l-3 3h-4l-3-3v-4z"/><path class="m" d="M776 699h4l3 3v4l-3 3h-4l-3-3v-4z"/>
<path class="f" d="M773 709L776 706L780 706L783 709L783 711L773 711Z"/>
<path class="m" d="M776 708h4l3 3v4l-3 3h-4l-3-3v-4z"/><path class="m" d="M776 715h4l3 3v4l-3 3h-4l-3-3v-4z"/>
<path class="f" d="M773 725L776 722L780 722L783 725L783 734L773 734Z"/>
<path class="m" d="M773 734L776 731L780 731L783 734L783 744L773 744Z"/>
<path class="m" d="M773 750L783 750L783 784L773 784Z"/>
<path class="f" d="M773 744L776 741L780 741L783 744L783 750L780 753L776 753L773 750Z"/>
<path class="f" d="M773 784L776 781L780 781L783 784L783 786L773 786Z"/>
<path class="m" d="M773 786L776 783L780 783L783 786L783 807L773 807Z"/>
<path class="f" d="M773 807L776 804L780 804L783 807L783 809L773 809Z"/>
<path class="f" d="M773 816L783 816L783 836L780 839L776 839L773 836Z"/>
<path class="m" d="M773 809L776 806L780 806L783 809L783 816L780 819L776 819L773 816Z"/>
<path class="m" d="M784 648L787 645L791 645L794 648L794 651L791 654L787 654L784 651Z"/>
<path class="m" d="M784 704L787 701L791 701L794 704L794 710L784 710Z"/>
<path class="f" d="M784 710L787 707L791 707L794 710L794 719L784 719Z"/>
<path class="m" d="M784 719L787 716L791 716L794 719L794 726L784 726Z"/>
<path class="m" d="M784 733L794 733L794 738L784 738Z"/><path class="m" d="M787 733h4l3 3v4l-3 3h-4l-3-3v-4z"/><path class="m" d="M787 740h4l3 3v4l-3 3h-4l-3-3v-4z"/><path class="m" d="M784 745L794 745L794 782L784 782Z"/>
<path class="f" d="M784 726L787 723L791 723L794 726L794 733L791 736L787 736L784 733Z"/>
<path class="f" d="M784 781L787 778L791 778L794 781L794 787L784 787Z"/>
<path class="f" d="M784 791L794 791L794 816L784 816Z"/>
<path class="m" d="M784 787L787 784L791 784L794 787L794 791L791 794L787 794L784 791Z"/>
<path class="m" d="M784 815L787 812L791 812L794 815L794 818L784 818Z"/>
<path class="f" d="M784 818L787 815L791 815L794 818L794 834L784 834Z"/>
<path class="m" d="M784 834L787 831L791 831L794 834L794 836L791 839L787 839L784 836Z"/>
<path class="f" d="M787 660h4l3 3v4l-3 3h-4l-3-3v-4z"/>
<path class="m" d="M787 684h4l3 3v4l-3 3h-4l-3-3v-4z"/>
<path class="m" d="M798 829h4l3 3v4l-3 3h-4l-3-3v-4z"/>
<path class="m" d="M795 648L798 645L802 645L805 648L805 650L802 653L798 653L795 650Z"/>
<path class="m" d="M795 676L798 673L802 673L805 676L805 685L795 685Z"/>
<path class="f" d="M795 685L798 682L802 682L805 685L805 695L795 695Z"/>
<path class="m" d="M795 695L798 692L802 692L805 695L805 699L802 702L798 702L795 699Z"/>
<path class="m" d="M795 709L798 706L802 706L805 709L805 712L795 712Z"/>
<path class="f" d="M798 709h4l3 3v4l-3 3h-4l-3-3v-4z"/><path class="f" d="M798 716h4l3 3v4l-3 3h-4l-3-3v-4z"/><path class="f" d="M795 721L805 721L805 729L795 729Z"/>
<path class="m" d="M798 726h4l3 3v4l-3 3h-4l-3-3v-4z"/><path class="m" d="M798 733h4l3 3v4l-3 3h-4l-3-3v-4z"/><path class="m" d="M798 741h4l3 3v4l-3 3h-4l-3-3v-4z"/><path class="m" d="M795 746L805 746L805 786L795 786Z"/>
<path class="f" d="M795 786L798 783L802 783L805 786L805 792L795 792Z"/>
<path class="m" d="M795 792L798 789L802 789L805 792L805 798L795 798Z"/>
<path class="m" d="M795 804L805 804L805 828L795 828Z"/>
<path class="f" d="M795 798L798 795L802 795L805 798L805 804L802 807L798 807L795 804Z"/>
<path class="f" d="M795 828L798 825L802 825L805 828L805 831L802 834L798 834L795 831Z"/>
<path class="f" d="M806 682L816 682L816 687L806 687Z"/><path class="f" d="M809 682h4l3 3v4l-3 3h-4l-3-3v-4z"/><path class="f" d="M809 689h4l3 3v4l-3 3h-4l-3-3v-4z"/><path class="f" d="M809 697h4l3 3v4l-3 3h-4l-3-3v-4z"/><path class="f" d="M806 702L816 702L816 710L806 710Z"/>
<path class="m" d="M806 682L809 679L813 679L816 682L816 682L813 685L809 685L806 682Z"/>
<path class="m" d="M809 707h4l3 3v4l-3 3h-4l-3-3v-4z"/><path class="m" d="M809 714h4l3 3v4l-3 3h-4l-3-3v-4z"/><path class="m" d="M809 722h4l3 3v4l-3 3h-4l-3-3v-4z"/><path class="m" d="M809 729h4l3 3v4l-3 3h-4l-3-3v-4z"/>
<path class="f" d="M806 739L809 736L813 736L816 739L816 748L806 748Z"/>
<path class="m" d="M806 748L809 745L813 745L816 748L816 754L806 754Z"/>
<path class="f" d="M806 754L809 751L813 751L816 754L816 755L806 755Z"/>
<path class="m" d="M806 755L809 752L813 752L816 755L816 766L806 766Z"/>
<path class="m" d="M806 767L816 767L816 788L806 788Z"/>
<path class="f" d="M806 766L809 763L813 763L816 766L816 767L813 770L809 770L806 767Z"/>
<path class="f" d="M806 788L809 785L813 785L816 788L816 797L806 797Z"/>
<path class="m" d="M806 797L809 794L813 794L816 797L816 807L806 807Z"/>
<path class="f" d="M806 807L809 804L813 804L816 807L816 818L806 818Z"/>
<path class="m" d="M806 818L809 815L813 815L816 818L816 821L806 821Z"/>
<path class="f" d="M806 821L809 818L813 818L816 821L816 823L806 823Z"/>
<path class="m" d="M806 823L809 820L813 820L816 823L816 836L813 839L809 839L806 836Z"/>
<path class="m" d="M817 663L820 660L824 660L827 663L827 670L817 670Z"/>
<path class="f" d="M817 669L820 666L824 666L827 669L827 677L817 677Z"/>
<path class="m" d="M817 677L820 674L824 674L827 677L827 685L817 685Z"/>
<path class="m" d="M817 694L827 694L827 699L817 699Z"/><path class="m" d="M820 694h4l3 3v4l-3 3h-4l-3-3v-4z"/><path class="m" d="M820 701h4l3 3v4l-3 3h-4l-3-3v-4z"/>
<path class="f" d="M820 682h4l3 3v4l-3 3h-4l-3-3v-4z"/><path class="f" d="M820 687h4l3 3v4l-3 3h-4l-3-3v-4z"/>
<path class="m" d="M817 718L827 718L827 723L817 723Z"/><path class="m" d="M820 718h4l3 3v4l-3 3h-4l-3-3v-4z"/><path class="m" d="M820 725h4l3 3v4l-3 3h-4l-3-3v-4z"/><path class="m" d="M820 733h4l3 3v4l-3 3h-4l-3-3v-4z"/><path class="m" d="M820 740h4l3 3v4l-3 3h-4l-3-3v-4z"/><path class="m" d="M817 745L827 745L827 763L817 763Z"/>
<path class="f" d="M817 711L820 708L824 708L827 711L827 718L824 721L820 721L817 718Z"/>
<path class="f" d="M817 763L820 760L824 760L827 763L827 768L817 768Z"/>
<path class="m" d="M817 768L820 765L824 765L827 768L827 773L817 773Z"/>
<path class="f" d="M817 773L820 770L824 770L827 773L827 783L817 783Z"/>
<path class="m" d="M817 783L820 780L824 780L827 783L827 788L817 788Z"/>
<path class="m" d="M817 794L827 794L827 820L817 820Z"/>
<path class="f" d="M817 788L820 785L824 785L827 788L827 794L824 797L820 797L817 794Z"/>
<path class="f" d="M817 820L820 817L824 817L827 820L827 829L817 829Z"/>
<path class="m" d="M817 829L820 826L824 826L827 829L827 831L817 831Z"/>
<path class="f" d="M817 831L820 828L824 828L827 831L827 836L824 839L820 839L817 836Z"/>
<path class="m" d="M828 663L831 660L835 660L838 663L838 665L828 665Z"/>
<path class="f" d="M828 665L831 662L835 662L838 665L838 671L835 674L831 674L828 671Z"/>
<path class="m" d="M828 687L831 684L835 684L838 687L838 695L828 695Z"/>
<path class="m" d="M828 702L838 702L838 707L828 707Z"/><path class="m" d="M831 702h4l3 3v4l-3 3h-4l-3-3v-4z"/><path class="m" d="M831 709h4l3 3v4l-3 3h-4l-3-3v-4z"/><path class="m" d="M828 714L838 714L838 724L828 724Z"/>
<path class="f" d="M828 695L831 692L835 692L838 695L838 702L835 705L831 705L828 702Z"/>
<path class="f" d="M828 724L831 721L835 721L838 724L838 733L828 733Z"/>
<path class="m" d="M831 730h4l3 3v4l-3 3h-4l-3-3v-4z"/><path class="m" d="M828 735L838 735L838 745L828 745Z"/>
<path class="f" d="M828 745L831 742L835 742L838 745L838 747L828 747Z"/>
<path class="m" d="M828 747L831 744L835 744L838 747L838 753L828 753Z"/>
<path class="f" d="M828 753L831 750L835 750L838 753L838 758L828 758Z"/>
<path class="m" d="M828 758L831 755L835 755L838 758L838 765L828 765Z"/>
<path class="m" d="M828 768L838 768L838 799L828 799Z"/>
<path class="f" d="M828 765L831 762L835 762L838 765L838 768L835 771L831 771L828 768Z"/>
<path class="f" d="M828 799L831 796L835 796L838 799L838 802L828 802Z"/>
<path class="m" d="M828 802L831 799L835 799L838 802L838 811L828 811Z"/>
<path class="f" d="M828 811L831 808L835 808L838 811L838 822L828 822Z"/>
<path class="m" d="M828 822L831 819L835 819L838 822L838 825L828 825Z"/>
<path class="f" d="M828 825L831 822L835 822L838 825L838 836L835 839L831 839L828 836Z"/>
<path class="m" d="M842 660h4l3 3v4l-3 3h-4l-3-3v-4z"/><path class="m" d="M842 667h4l3 3v4l-3 3h-4l-3-3v-4z"/><path class="m" d="M839 672L849 672L849 679L839 679Z"/>
<path class="m" d="M839 683L849 683L849 688L839 688Z"/><path class="m" d="M842 683h4l3 3v4l-3 3h-4l-3-3v-4z"/><path class="m" d="M842 690h4l3 3v4l-3 3h-4l-3-3v-4z"/><path class="m" d="M842 698h4l3 3v4l-3 3h-4l-3-3v-4z"/><path class="m" d="M842 705h4l3 3v4l-3 3h-4l-3-3v-4z"/><path class="m" d="M842 712h4l3 3v4l-3 3h-4l-3-3v-4z"/>
<path class="f" d="M839 679L842 676L846 676L849 679L849 683L846 686L842 686L839 683Z"/>
<path class="m" d="M839 732L849 732L849 737L839 737Z"/><path class="m" d="M842 732h4l3 3v4l-3 3h-4l-3-3v-4z"/><path class="m" d="M842 739h4l3 3v4l-3 3h-4l-3-3v-4z"/><path class="m" d="M839 744L849 744L849 768L839 768Z"/>
<path class="f" d="M842 719h4l3 3v4l-3 3h-4l-3-3v-4z"/><path class="f" d="M842 725h4l3 3v4l-3 3h-4l-3-3v-4z"/>
<path class="f" d="M839 768L842 765L846 765L849 768L849 779L839 779Z"/>
<path class="m" d="M839 779L842 776L846 776L849 779L849 782L839 782Z"/>
<path class="f" d="M839 782L842 779L846 779L849 782L849 793L839 793Z"/>
<path class="m" d="M839 793L842 790L846 790L849 793L849 800L839 800Z"/>
<path class="f" d="M839 800L842 797L846 797L849 800L849 810L839 810Z"/>
<path class="f" d="M839 811L849 811L849 836L846 839L842 839L839 836Z"/>
<path class="m" d="M839 810L842 807L846 807L849 810L849 811L846 814L842 814L839 811Z"/>
<path class="m" d="M853 650h4l3 3v4l-3 3h-4l-3-3v-4z"/><path class="m" d="M853 657h4l3 3v4l-3 3h-4l-3-3v-4z"/><path class="m" d="M853 665h4l3 3v4l-3 3h-4l-3-3v-4z"/><path class="m" d="M853 672h4l3 3v4l-3 3h-4l-3-3v-4z"/><path class="m" d="M853 674h4l3 3v4l-3 3h-4l-3-3v-4z"/>
<path class="m" d="M850 699L853 696L857 696L860 699L860 703L850 703Z"/>
<path class="f" d="M850 703L853 700L857 700L860 703L860 712L850 712Z"/>
<path class="m" d="M850 712L853 709L857 709L860 712L860 722L850 722Z"/>
<path class="m" d="M850 726L860 726L860 731L850 731Z"/><path class="m" d="M853 726h4l3 3v4l-3 3h-4l-3-3v-4z"/><path class="m" d="M853 733h4l3 3v4l-3 3h-4l-3-3v-4z"/><path class="m" d="M850 738L860 738L860 746L850 746Z"/>
<path class="f" d="M850 722L853 719L857 719L860 722L860 726L857 729L853 729L850 726Z"/>
<path class="f" d="M850 746L853 743L857 743L860 746L860 755L850 755Z"/>
<path class="m" d="M850 755L853 752L857 752L860 755L860 763L850 763Z"/>
<path class="m" d="M850 769L860 769L860 814L850 814Z"/>
<path class="f" d="M850 763L853 760L857 760L860 763L860 769L857 772L853 772L850 769Z"/>
<path class="f" d="M850 814L853 811L857 811L860 814L860 830L850 830Z"/>
<path class="m" d="M850 830L853 827L857 827L860 830L860 836L857 839L853 839L850 836Z"/>
<path class="m" d="M864 664h4l3 3v4l-3 3h-4l-3-3v-4z"/><path class="m" d="M864 671h4l3 3v4l-3 3h-4l-3-3v-4z"/><path class="m" d="M861 676L871 676L871 687L861 687Z"/>
<path class="f" d="M861 687L864 684L868 684L871 687L871 689L861 689Z"/>
<path class="m" d="M864 686h4l3 3v4l-3 3h-4l-3-3v-4z"/><path class="m" d="M864 693h4l3 3v4l-3 3h-4l-3-3v-4z"/><path class="m" d="M864 701h4l3 3v4l-3 3h-4l-3-3v-4z"/><path class="m" d="M864 708h4l3 3v4l-3 3h-4l-3-3v-4z"/><path class="m" d="M864 715h4l3 3v4l-3 3h-4l-3-3v-4z"/><path class="m" d="M864 723h4l3 3v4l-3 3h-4l-3-3v-4z"/><path class="m" d="M864 730h4l3 3v4l-3 3h-4l-3-3v-4z"/><path class="m" d="M861 735L871 735L871 744L861 744Z"/>
<path class="m" d="M861 748L871 748L871 768L861 768Z"/>
<path class="f" d="M861 744L864 741L868 741L871 744L871 748L868 751L864 751L861 748Z"/>
<path class="f" d="M861 768L864 765L868 765L871 768L871 776L861 776Z"/>
<path class="m" d="M861 776L864 773L868 773L871 776L871 779L861 779Z"/>
<path class="m" d="M861 785L871 785L871 806L861 806Z"/>
<path class="f" d="M861 779L864 776L868 776L871 779L871 785L868 788L864 788L861 785Z"/>
<path class="f" d="M861 806L864 803L868 803L871 806L871 807L861 807Z"/>
<path class="m" d="M861 807L864 804L868 804L871 807L871 821L861 821Z"/>
<path class="f" d="M861 821L864 818L868 818L871 821L871 836L868 839L864 839L861 836Z"/>
<path class="f" d="M864 645h4l3 3v4l-3 3h-4l-3-3v-4z"/>
<path class="f" d="M875 684h4l3 3v4l-3 3h-4l-3-3v-4z"/><path class="f" d="M875 691h4l3 3v4l-3 3h-4l-3-3v-4z"/><path class="f" d="M875 694h4l3 3v4l-3 3h-4l-3-3v-4z"/>
<path class="m" d="M875 708h4l3 3v4l-3 3h-4l-3-3v-4z"/><path class="m" d="M875 715h4l3 3v4l-3 3h-4l-3-3v-4z"/><path class="m" d="M872 720L882 720L882 729L872 729Z"/>
<path class="f" d="M872 729L875 726L879 726L882 729L882 732L872 732Z"/>
<path class="m" d="M872 732L875 729L879 729L882 732L882 742L872 742Z"/>
<path class="m" d="M872 750L882 750L882 793L872 793Z"/>
<path class="f" d="M872 742L875 739L879 739L882 742L882 750L879 753L875 753L872 750Z"/>
<path class="f" d="M872 793L875 790L879 790L882 793L882 831L872 831Z"/>
<path class="m" d="M872 831L875 828L879 828L882 831L882 836L879 839L875 839L872 836Z"/>
<path class="m" d="M875 660h4l3 3v4l-3 3h-4l-3-3v-4z"/>
<path class="m" d="M886 655h4l3 3v4l-3 3h-4l-3-3v-4z"/><path class="m" d="M886 660h4l3 3v4l-3 3h-4l-3-3v-4z"/>
<path class="f" d="M886 679h4l3 3v4l-3 3h-4l-3-3v-4z"/><path class="f" d="M883 684L893 684L893 695L883 695Z"/>
<path class="m" d="M883 695L886 692L890 692L893 695L893 698L890 701L886 701L883 698Z"/>
<path class="m" d="M886 707h4l3 3v4l-3 3h-4l-3-3v-4z"/><path class="m" d="M886 714h4l3 3v4l-3 3h-4l-3-3v-4z"/><path class="m" d="M883 719L893 719L893 729L883 729Z"/>
<path class="m" d="M883 733L893 733L893 738L883 738Z"/><path class="m" d="M886 733h4l3 3v4l-3 3h-4l-3-3v-4z"/><path class="m" d="M886 740h4l3 3v4l-3 3h-4l-3-3v-4z"/><path class="m" d="M883 745L893 745L893 755L883 755Z"/>
<path class="f" d="M883 729L886 726L890 726L893 729L893 733L890 736L886 736L883 733Z"/>
<path class="m" d="M883 757L893 757L893 778L883 778Z"/>
<path class="f" d="M883 755L886 752L890 752L893 755L893 757L890 760L886 760L883 757Z"/>
<path class="m" d="M883 779L893 779L893 799L883 799Z"/>
<path class="f" d="M883 778L886 775L890 775L893 778L893 779L890 782L886 782L883 779Z"/>
<path class="f" d="M883 799L886 796L890 796L893 799L893 807L883 807Z"/>
<path class="m" d="M883 807L886 804L890 804L893 807L893 808L883 808Z"/>
<path class="f" d="M883 808L886 805L890 805L893 808L893 816L883 816Z"/>
<path class="m" d="M883 816L886 813L890 813L893 816L893 828L883 828Z"/>
<path class="f" d="M883 828L886 825L890 825L893 828L893 836L890 839L886 839L883 836Z"/>
<path class="m" d="M895 692L905 692L905 697L895 697Z"/><path class="m" d="M898 692h4l3 3v4l-3 3h-4l-3-3v-4z"/><path class="m" d="M898 699h4l3 3v4l-3 3h-4l-3-3v-4z"/><path class="m" d="M898 707h4l3 3v4l-3 3h-4l-3-3v-4z"/><path class="m" d="M898 714h4l3 3v4l-3 3h-4l-3-3v-4z"/><path class="m" d="M898 721h4l3 3v4l-3 3h-4l-3-3v-4z"/><path class="m" d="M898 729h4l3 3v4l-3 3h-4l-3-3v-4z"/><path class="m" d="M895 734L905 734L905 743L895 743Z"/>
<path class="f" d="M895 686L898 683L902 683L905 686L905 692L902 695L898 695L895 692Z"/>
<path class="f" d="M895 743L898 740L902 740L905 743L905 745L895 745Z"/>
<path class="m" d="M895 745L898 742L902 742L905 745L905 756L895 756Z"/>
<path class="f" d="M895 756L898 753L902 753L905 756L905 757L895 757Z"/>
<path class="m" d="M895 757L898 754L902 754L905 757L905 766L895 766Z"/>
<path class="f" d="M895 766L898 763L902 763L905 766L905 772L895 772Z"/>
<path class="m" d="M895 772L898 769L902 769L905 772L905 784L895 784Z"/>
<path class="f" d="M895 784L898 781L902 781L905 784L905 786L895 786Z"/>
<path class="m" d="M895 786L898 783L902 783L905 786L905 828L895 828Z"/>
<path class="f" d="M895 828L898 825L902 825L905 828L905 836L902 839L898 839L895 836Z"/>
<path class="f" d="M898 650h4l3 3v4l-3 3h-4l-3-3v-4z"/>
<path class="m" d="M909 673h4l3 3v4l-3 3h-4l-3-3v-4z"/><path class="m" d="M909 680h4l3 3v4l-3 3h-4l-3-3v-4z"/><path class="m" d="M909 683h4l3 3v4l-3 3h-4l-3-3v-4z"/>
<path class="f" d="M906 699L909 696L913 696L916 699L916 701L906 701Z"/>
<path class="m" d="M906 701L909 698L913 698L916 701L916 709L906 709Z"/>
<path class="f" d="M906 709L909 706L913 706L916 709L916 715L906 715Z"/>
<path class="m" d="M906 715L909 712L913 712L916 715L916 720L913 723L909 723L906 720Z"/>
<path class="f" d="M906 733L916 733L916 738L906 738Z"/><path class="f" d="M909 733h4l3 3v4l-3 3h-4l-3-3v-4z"/><path class="f" d="M909 740h4l3 3v4l-3 3h-4l-3-3v-4z"/><path class="f" d="M906 745L916 745L916 754L906 754Z"/>
<path class="m" d="M906 729L909 726L913 726L916 729L916 733L913 736L909 736L906 733Z"/>
<path class="m" d="M906 754L909 751L913 751L916 754L916 783L906 783Z"/>
<path class="f" d="M906 783L909 780L913 780L916 783L916 810L906 810Z"/>
<path class="m" d="M906 810L909 807L913 807L916 810L916 819L906 819Z"/>
<path class="m" d="M906 821L916 821L916 836L913 839L909 839L906 836Z"/>
<path class="f" d="M906 819L909 816L913 816L916 819L916 821L913 824L909 824L906 821Z"/>
<path class="f" d="M909 645h4l3 3v4l-3 3h-4l-3-3v-4z"/>
<path class="m" d="M917 687L920 684L924 684L927 687L927 697L917 697Z"/>
<path class="f" d="M917 697L920 694L924 694L927 697L927 701L924 704L920 704L917 701Z"/>
<path class="m" d="M920 707h4l3 3v4l-3 3h-4l-3-3v-4z"/><path class="m" d="M920 714h4l3 3v4l-3 3h-4l-3-3v-4z"/><path class="m" d="M920 717h4l3 3v4l-3 3h-4l-3-3v-4z"/>
<path class="m" d="M917 735L920 732L924 732L927 735L927 745L917 745Z"/>
<path class="f" d="M917 745L920 742L924 742L927 745L927 747L917 747Z"/>
<path class="m" d="M917 747L920 744L924 744L927 747L927 749L917 749Z"/>
<path class="f" d="M917 749L920 746L924 746L927 749L927 752L917 752Z"/>
<path class="m" d="M917 752L920 749L924 749L927 752L927 754L917 754Z"/>
<path class="f" d="M917 754L920 751L924 751L927 754L927 757L917 757Z"/>
<path class="m" d="M917 757L920 754L924 754L927 757L927 765L917 765Z"/>
<path class="f" d="M917 765L920 762L924 762L927 765L927 770L917 770Z"/>
<path class="m" d="M917 770L920 767L924 767L927 770L927 780L917 780Z"/>
<path class="f" d="M917 780L920 777L924 777L927 780L927 787L917 787Z"/>
<path class="m" d="M917 787L920 784L924 784L927 787L927 793L917 793Z"/>
<path class="f" d="M917 793L920 790L924 790L927 793L927 800L917 800Z"/>
<path class="m" d="M917 800L920 797L924 797L927 800L927 802L917 802Z"/>
<path class="f" d="M917 802L920 799L924 799L927 802L927 803L917 803Z"/>
<path class="f" d="M917 808L927 808L927 836L924 839L920 839L917 836Z"/>
<path class="m" d="M917 803L920 800L924 800L927 803L927 808L924 811L920 811L917 808Z"/>
<path class="m" d="M920 660h4l3 3v4l-3 3h-4l-3-3v-4z"/>
<path class="f" d="M931 713h4l3 3v4l-3 3h-4l-3-3v-4z"/>
<path class="m" d="M928 711L931 708L935 708L938 711L938 714L935 717L931 717L928 714Z"/>
<path class="m" d="M928 735L931 732L935 732L938 735L938 743L928 743Z"/>
<path class="f" d="M928 743L931 740L935 740L938 743L938 751L928 751Z"/>
<path class="m" d="M928 751L931 748L935 748L938 751L938 756L928 756Z"/>
<path class="m" d="M928 763L938 763L938 806L928 806Z"/>
<path class="f" d="M928 756L931 753L935 753L938 756L938 763L935 766L931 766L928 763Z"/>
<path class="f" d="M928 806L931 803L935 803L938 806L938 816L928 816Z"/>
<path class="m" d="M928 816L931 813L935 813L938 816L938 827L928 827Z"/>
<path class="f" d="M928 827L931 824L935 824L938 827L938 830L928 830Z"/>
<path class="m" d="M928 830L931 827L935 827L938 830L938 833L928 833Z"/>
<path class="f" d="M928 833L931 830L935 830L938 833L938 836L935 839L931 839L928 836Z"/>
<path class="m" d="M931 684h4l3 3v4l-3 3h-4l-3-3v-4z"/>
<path class="m" d="M939 682L942 679L946 679L949 682L949 690L946 693L942 693L939 690Z"/>
<path class="f" d="M939 739L949 739L949 744L939 744Z"/><path class="f" d="M942 739h4l3 3v4l-3 3h-4l-3-3v-4z"/><path class="f" d="M939 744L949 744L949 755L939 755Z"/>
<path class="m" d="M939 735L942 732L946 732L949 735L949 739L946 742L942 742L939 739Z"/>
<path class="m" d="M939 755L942 752L946 752L949 755L949 761L939 761Z"/>
<path class="m" d="M939 765L949 765L949 783L939 783Z"/>
<path class="f" d="M939 761L942 758L946 758L949 761L949 765L946 768L942 768L939 765Z"/>
<path class="f" d="M939 783L942 780L946 780L949 783L949 792L939 792Z"/>
<path class="f" d="M939 794L949 794L949 826L939 826Z"/>
<path class="m" d="M939 792L942 789L946 789L949 792L949 794L946 797L942 797L939 794Z"/>
<path class="m" d="M939 826L942 823L946 823L949 826L949 830L939 830Z"/>
<path class="f" d="M939 830L942 827L946 827L949 830L949 836L946 839L942 839L939 836Z"/>
<path class="m" d="M953 698h4l3 3v4l-3 3h-4l-3-3v-4z"/><path class="m" d="M953 705h4l3 3v4l-3 3h-4l-3-3v-4z"/><path class="m" d="M953 713h4l3 3v4l-3 3h-4l-3-3v-4z"/><path class="m" d="M953 720h4l3 3v4l-3 3h-4l-3-3v-4z"/><path class="m" d="M953 727h4l3 3v4l-3 3h-4l-3-3v-4z"/><path class="m" d="M953 735h4l3 3v4l-3 3h-4l-3-3v-4z"/><path class="m" d="M953 742h4l3 3v4l-3 3h-4l-3-3v-4z"/><path class="m" d="M950 747L960 747L960 791L950 791Z"/>
<path class="f" d="M950 791L953 788L957 788L960 791L960 804L950 804Z"/>
<path class="m" d="M950 804L953 801L957 801L960 804L960 805L950 805Z"/>
<path class="f" d="M950 805L953 802L957 802L960 805L960 811L950 811Z"/>
<path class="m" d="M950 811L953 808L957 808L960 811L960 820L950 820Z"/>
<path class="f" d="M950 820L953 817L957 817L960 820L960 826L950 826Z"/>
<path class="m" d="M950 826L953 823L957 823L960 826L960 831L950 831Z"/>
<path class="f" d="M950 831L953 828L957 828L960 831L960 836L957 839L953 839L950 836Z"/>
<path class="m" d="M953 660h4l3 3v4l-3 3h-4l-3-3v-4z"/>
<path class="m" d="M961 706L971 706L971 711L961 711Z"/><path class="m" d="M964 706h4l3 3v4l-3 3h-4l-3-3v-4z"/><path class="m" d="M964 713h4l3 3v4l-3 3h-4l-3-3v-4z"/><path class="m" d="M964 718h4l3 3v4l-3 3h-4l-3-3v-4z"/>
<path class="f" d="M961 704L964 701L968 701L971 704L971 706L968 709L964 709L961 706Z"/>
<path class="f" d="M961 737L971 737L971 742L961 742Z"/><path class="f" d="M964 737h4l3 3v4l-3 3h-4l-3-3v-4z"/><path class="f" d="M964 744h4l3 3v4l-3 3h-4l-3-3v-4z"/><path class="f" d="M961 749L971 749L971 761L961 761Z"/>
<path class="m" d="M961 735L964 732L968 732L971 735L971 737L968 740L964 740L961 737Z"/>
<path class="f" d="M961 765L971 765L971 782L961 782Z"/>
<path class="m" d="M961 761L964 758L968 758L971 761L971 765L968 768L964 768L961 765Z"/>
<path class="m" d="M961 782L964 779L968 779L971 782L971 799L961 799Z"/>
<path class="m" d="M961 808L971 808L971 831L961 831Z"/>
<path class="f" d="M961 799L964 796L968 796L971 799L971 808L968 811L964 811L961 808Z"/>
<path class="f" d="M961 831L964 828L968 828L971 831L971 836L968 839L964 839L961 836Z"/>
<path class="m" d="M964 674h4l3 3v4l-3 3h-4l-3-3v-4z"/>
<path class="m" d="M975 708h4l3 3v4l-3 3h-4l-3-3v-4z"/><path class="m" d="M975 715h4l3 3v4l-3 3h-4l-3-3v-4z"/><path class="m" d="M972 720L982 720L982 731L972 731Z"/>
<path class="f" d="M972 731L975 728L979 728L982 731L982 734L972 734Z"/>
<path class="m" d="M975 731h4l3 3v4l-3 3h-4l-3-3v-4z"/><path class="m" d="M975 738h4l3 3v4l-3 3h-4l-3-3v-4z"/><path class="m" d="M972 743L982 743L982 796L972 796Z"/>
<path class="f" d="M972 796L975 793L979 793L982 796L982 798L972 798Z"/>
<path class="m" d="M972 798L975 795L979 795L982 798L982 808L972 808Z"/>
<path class="f" d="M972 808L975 805L979 805L982 808L982 811L972 811Z"/>
<path class="m" d="M972 811L975 808L979 808L982 811L982 821L972 821Z"/>
<path class="f" d="M972 821L975 818L979 818L982 821L982 823L972 823Z"/>
<path class="m" d="M972 823L975 820L979 820L982 823L982 836L979 839L975 839L972 836Z"/>
<path class="f" d="M975 691h4l3 3v4l-3 3h-4l-3-3v-4z"/>
<path class="m" d="M986 645h4l3 3v4l-3 3h-4l-3-3v-4z"/><path class="m" d="M986 652h4l3 3v4l-3 3h-4l-3-3v-4z"/><path class="m" d="M986 660h4l3 3v4l-3 3h-4l-3-3v-4z"/>
<path class="m" d="M983 760L986 757L990 757L993 760L993 762L983 762Z"/>
<path class="m" d="M983 768L993 768L993 796L983 796Z"/>
<path class="f" d="M983 762L986 759L990 759L993 762L993 769L990 772L986 772L983 769Z"/>
<path class="f" d="M983 796L986 793L990 793L993 796L993 800L983 800Z"/>
<path class="m" d="M983 800L986 797L990 797L993 800L993 807L983 807Z"/>
<path class="f" d="M983 807L986 804L990 804L993 807L993 814L983 814Z"/>
<path class="m" d="M983 814L986 811L990 811L993 814L993 817L983 817Z"/>
<path class="m" d="M983 822L993 822L993 836L990 839L986 839L983 836Z"/>
<path class="f" d="M983 817L986 814L990 814L993 817L993 822L990 825L986 825L983 822Z"/>
<path class="m" d="M986 684h4l3 3v4l-3 3h-4l-3-3v-4z"/>
<path class="m" d="M986 708h4l3 3v4l-3 3h-4l-3-3v-4z"/>
<path class="f" d="M986 720h4l3 3v4l-3 3h-4l-3-3v-4z"/>
<path class="m" d="M986 732h4l3 3v4l-3 3h-4l-3-3v-4z"/>
<path class="m" d="M997 727h4l3 3v4l-3 3h-4l-3-3v-4z"/><path class="m" d="M994 732L1004 732L1004 743L994 743Z"/>
<path class="f" d="M994 743L997 740L1001 740L1004 743L1004 744L1001 747L997 747L994 744Z"/>
<path class="m" d="M994 754L997 751L1001 751L1004 754L1004 760L994 760Z"/>
<path class="f" d="M994 760L997 757L1001 757L1004 760L1004 762L994 762Z"/>
<path class="m" d="M994 762L997 759L1001 759L1004 762L1004 777L994 777Z"/>
<path class="f" d="M994 777L997 774L1001 774L1004 777L1004 780L994 780Z"/>
<path class="m" d="M994 780L997 777L1001 777L1004 780L1004 794L994 794Z"/>
<path class="f" d="M994 794L997 791L1001 791L1004 794L1004 804L994 804Z"/>
<path class="m" d="M994 804L997 801L1001 801L1004 804L1004 809L994 809Z"/>
<path class="m" d="M994 818L1004 818L1004 836L1001 839L997 839L994 836Z"/>
<path class="f" d="M994 809L997 806L1001 806L1004 809L1004 818L1001 821L997 821L994 818Z"/>
<path class="f" d="M997 684h4l3 3v4l-3 3h-4l-3-3v-4z"/>
<path class="m" d="M997 708h4l3 3v4l-3 3h-4l-3-3v-4z"/>
<path class="m" d="M1005 755L1008 752L1012 752L1015 755L1015 791L1005 791Z"/>
<path class="f" d="M1005 791L1008 788L1012 788L1015 791L1015 811L1005 811Z"/>
<path class="f" d="M1005 818L1015 818L1015 836L1012 839L1008 839L1005 836Z"/>
<path class="m" d="M1005 811L1008 808L1012 808L1015 811L1015 818L1012 821L1008 821L1005 818Z"/>
<path class="f" d="M1008 708h4l3 3v4l-3 3h-4l-3-3v-4z"/>
<path class="m" d="M1008 732h4l3 3v4l-3 3h-4l-3-3v-4z"/>
<path class="f" d="M1017 760L1027 760L1027 781L1017 781Z"/>
<path class="m" d="M1017 755L1020 752L1024 752L1027 755L1027 760L1024 763L1020 763L1017 760Z"/>
<path class="m" d="M1017 781L1020 778L1024 778L1027 781L1027 793L1017 793Z"/>
<path class="f" d="M1017 793L1020 790L1024 790L1027 793L1027 802L1017 802Z"/>
<path class="f" d="M1017 808L1027 808L1027 831L1017 831Z"/>
<path class="m" d="M1017 802L1020 799L1024 799L1027 802L1027 808L1024 811L1020 811L1017 808Z"/>
<path class="m" d="M1017 831L1020 828L1024 828L1027 831L1027 836L1024 839L1020 839L1017 836Z"/>
<path class="f" d="M1020 684h4l3 3v4l-3 3h-4l-3-3v-4z"/>
<path class="m" d="M1020 694h4l3 3v4l-3 3h-4l-3-3v-4z"/>
<path class="m" d="M1020 706h4l3 3v4l-3 3h-4l-3-3v-4z"/>
<path class="m" d="M1020 720h4l3 3v4l-3 3h-4l-3-3v-4z"/>
<path class="m" d="M1020 732h4l3 3v4l-3 3h-4l-3-3v-4z"/>
<path class="m" d="M1028 760L1031 757L1035 757L1038 760L1038 773L1028 773Z"/>
<path class="f" d="M1028 773L1031 770L1035 770L1038 773L1038 784L1028 784Z"/>
<path class="m" d="M1028 784L1031 781L1035 781L1038 784L1038 786L1028 786Z"/>
<path class="m" d="M1028 793L1038 793L1038 831L1028 831Z"/>
<path class="f" d="M1028 786L1031 783L1035 783L1038 786L1038 793L1035 796L1031 796L1028 793Z"/>
<path class="f" d="M1028 831L1031 828L1035 828L1038 831L1038 836L1035 839L1031 839L1028 836Z"/>
<path class="m" d="M1031 732h4l3 3v4l-3 3h-4l-3-3v-4z"/>
<path class="f" d="M1042 732h4l3 3v4l-3 3h-4l-3-3v-4z"/><path class="f" d="M1042 738h4l3 3v4l-3 3h-4l-3-3v-4z"/>
<path class="m" d="M1039 762L1042 759L1046 759L1049 762L1049 773L1039 773Z"/>
<path class="m" d="M1039 779L1049 779L1049 802L1039 802Z"/>
<path class="f" d="M1039 773L1042 770L1046 770L1049 773L1049 779L1046 782L1042 782L1039 779Z"/>
<path class="f" d="M1039 802L1042 799L1046 799L1049 802L1049 811L1039 811Z"/>
<path class="f" d="M1039 818L1049 818L1049 836L1046 839L1042 839L1039 836Z"/>
<path class="m" d="M1039 811L1042 808L1046 808L1049 811L1049 818L1046 821L1042 821L1039 818Z"/>
<path class="m" d="M1042 708h4l3 3v4l-3 3h-4l-3-3v-4z"/>
<path class="m" d="M1050 784L1053 781L1057 781L1060 784L1060 804L1050 804Z"/>
<path class="f" d="M1050 804L1053 801L1057 801L1060 804L1060 824L1050 824Z"/>
<path class="m" d="M1050 824L1053 821L1057 821L1060 824L1060 831L1050 831Z"/>
<path class="f" d="M1050 831L1053 828L1057 828L1060 831L1060 836L1057 839L1053 839L1050 836Z"/>
<path class="f" d="M1053 684h4l3 3v4l-3 3h-4l-3-3v-4z"/>
<path class="f" d="M1053 732h4l3 3v4l-3 3h-4l-3-3v-4z"/>
<path class="m" d="M1053 754h4l3 3v4l-3 3h-4l-3-3v-4z"/>
<path class="f" d="M1053 757h4l3 3v4l-3 3h-4l-3-3v-4z"/>
<path class="m" d="M1061 789L1064 786L1068 786L1071 789L1071 827L1061 827Z"/>
<path class="f" d="M1061 827L1064 824L1068 824L1071 827L1071 830L1061 830Z"/>
<path class="m" d="M1061 830L1064 827L1068 827L1071 830L1071 832L1061 832Z"/>
<path class="f" d="M1061 832L1064 829L1068 829L1071 832L1071 836L1068 839L1064 839L1061 836Z"/>
<path class="m" d="M1064 732h4l3 3v4l-3 3h-4l-3-3v-4z"/>
<path class="m" d="M1064 752h4l3 3v4l-3 3h-4l-3-3v-4z"/>
<path class="m" d="M1064 771h4l3 3v4l-3 3h-4l-3-3v-4z"/>
<path class="m" d="M1072 796L1075 793L1079 793L1082 796L1082 814L1072 814Z"/>
<path class="f" d="M1072 814L1075 811L1079 811L1082 814L1082 831L1072 831Z"/>
<path class="m" d="M1072 831L1075 828L1079 828L1082 831L1082 836L1079 839L1075 839L1072 836Z"/>
<path class="m" d="M1075 708h4l3 3v4l-3 3h-4l-3-3v-4z"/>
<path class="f" d="M1075 781h4l3 3v4l-3 3h-4l-3-3v-4z"/>
<path class="m" d="M1083 755L1086 752L1090 752L1093 755L1093 770L1083 770Z"/>
<path class="f" d="M1083 770L1086 767L1090 767L1093 770L1093 773L1083 773Z"/>
<path class="m" d="M1083 773L1086 770L1090 770L1093 773L1093 775L1083 775Z"/>
<path class="m" d="M1083 779L1093 779L1093 805L1083 805Z"/>
<path class="f" d="M1083 775L1086 772L1090 772L1093 775L1093 779L1090 782L1086 782L1083 779Z"/>
<path class="f" d="M1083 805L1086 802L1090 802L1093 805L1093 814L1083 814Z"/>
<path class="m" d="M1083 814L1086 811L1090 811L1093 814L1093 820L1083 820Z"/>
<path class="f" d="M1083 820L1086 817L1090 817L1093 820L1093 827L1083 827Z"/>
<path class="m" d="M1083 827L1086 824L1090 824L1093 827L1093 836L1090 839L1086 839L1083 836Z"/>
<path class="m" d="M1086 655h4l3 3v4l-3 3h-4l-3-3v-4z"/>
<path class="m" d="M1086 691h4l3 3v4l-3 3h-4l-3-3v-4z"/>
<path class="m" d="M1086 708h4l3 3v4l-3 3h-4l-3-3v-4z"/>
<path class="m" d="M1086 732h4l3 3v4l-3 3h-4l-3-3v-4z"/>
<path class="f" d="M1086 725h4l3 3v4l-3 3h-4l-3-3v-4z"/>
<path class="m" d="M1139 755L1142 752L1146 752L1149 755L1149 760L1139 760Z"/>
<path class="f" d="M1139 761L1142 758L1146 758L1149 761L1149 764L1139 764Z"/>
<path class="m" d="M1139 764L1142 761L1146 761L1149 764L1149 773L1139 773Z"/>
<path class="f" d="M1139 773L1142 770L1146 770L1149 773L1149 775L1139 775Z"/>
<path class="m" d="M1139 775L1142 772L1146 772L1149 775L1149 811L1139 811Z"/>
<path class="f" d="M1139 811L1142 808L1146 808L1149 811L1149 816L1139 816Z"/>
<path class="f" d="M1139 821L1149 821L1149 836L1146 839L1142 839L1139 836Z"/>
<path class="m" d="M1139 816L1142 813L1146 813L1149 816L1149 821L1146 824L1142 824L1139 821Z"/>
<path class="f" d="M1142 742h4l3 3v4l-3 3h-4l-3-3v-4z"/>
</g></svg></body></html>
